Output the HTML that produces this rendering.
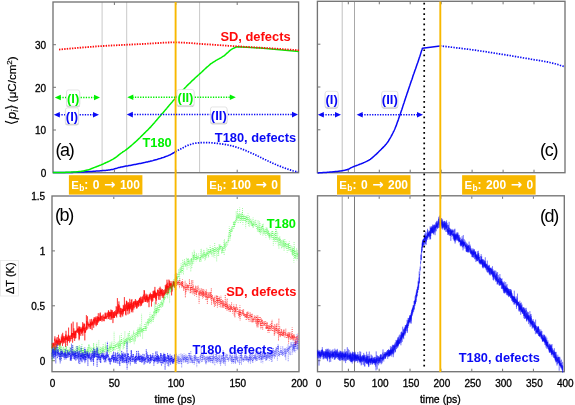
<!DOCTYPE html>
<html><head><meta charset="utf-8"><title>figure</title><style>html,body{margin:0;padding:0;background:#fff;}svg{display:block;}</style></head><body>
<svg width="575" height="405" viewBox="0 0 575 405" font-family='"Liberation Sans", Arial, Helvetica, sans-serif'>
<defs><filter id="sh" x="-30%" y="-30%" width="160%" height="160%"><feDropShadow dx="0" dy="0.7" stdDeviation="0.7" flood-color="#000" flood-opacity="0.4"/></filter></defs>
<rect width="575" height="405" fill="#fff"/>
<line x1="102.1" y1="2" x2="102.1" y2="172.7" stroke="#c9c9c9" stroke-width="1"/>
<line x1="126.7" y1="2" x2="126.7" y2="172.7" stroke="#c9c9c9" stroke-width="1"/>
<line x1="199.6" y1="2" x2="199.6" y2="172.7" stroke="#c9c9c9" stroke-width="1"/>
<line x1="342.2" y1="1.3" x2="342.2" y2="172.7" stroke="#c0c0c0" stroke-width="1"/>
<line x1="354.5" y1="1.3" x2="354.5" y2="172.7" stroke="#a8a8a8" stroke-width="1"/>
<line x1="342.2" y1="195.8" x2="342.2" y2="371.7" stroke="#a0a0a0" stroke-width="1"/>
<line x1="354.5" y1="195.8" x2="354.5" y2="371.7" stroke="#7a7a7a" stroke-width="1"/>
<rect x="53" y="2" width="245.6" height="170.7" fill="none" stroke="#747474" stroke-width="1.35"/>
<line x1="114.4" y1="2" x2="114.4" y2="5" stroke="#747474" stroke-width="1"/>
<line x1="114.4" y1="172.7" x2="114.4" y2="169.7" stroke="#747474" stroke-width="1"/>
<line x1="175.8" y1="2" x2="175.8" y2="5" stroke="#747474" stroke-width="1"/>
<line x1="175.8" y1="172.7" x2="175.8" y2="169.7" stroke="#747474" stroke-width="1"/>
<line x1="237.2" y1="2" x2="237.2" y2="5" stroke="#747474" stroke-width="1"/>
<line x1="237.2" y1="172.7" x2="237.2" y2="169.7" stroke="#747474" stroke-width="1"/>
<line x1="53" y1="130.0" x2="56" y2="130.0" stroke="#747474" stroke-width="1"/>
<line x1="53" y1="87.3" x2="56" y2="87.3" stroke="#747474" stroke-width="1"/>
<line x1="53" y1="44.7" x2="56" y2="44.7" stroke="#747474" stroke-width="1"/>
<rect x="317.4" y="1.3" width="247.6" height="171.4" fill="none" stroke="#747474" stroke-width="1.35"/>
<line x1="348.3" y1="1.3" x2="348.3" y2="4.3" stroke="#747474" stroke-width="1"/>
<line x1="348.3" y1="172.7" x2="348.3" y2="169.7" stroke="#747474" stroke-width="1"/>
<line x1="379.3" y1="1.3" x2="379.3" y2="4.3" stroke="#747474" stroke-width="1"/>
<line x1="379.3" y1="172.7" x2="379.3" y2="169.7" stroke="#747474" stroke-width="1"/>
<line x1="410.2" y1="1.3" x2="410.2" y2="4.3" stroke="#747474" stroke-width="1"/>
<line x1="410.2" y1="172.7" x2="410.2" y2="169.7" stroke="#747474" stroke-width="1"/>
<line x1="441.2" y1="1.3" x2="441.2" y2="4.3" stroke="#747474" stroke-width="1"/>
<line x1="441.2" y1="172.7" x2="441.2" y2="169.7" stroke="#747474" stroke-width="1"/>
<line x1="472.1" y1="1.3" x2="472.1" y2="4.3" stroke="#747474" stroke-width="1"/>
<line x1="472.1" y1="172.7" x2="472.1" y2="169.7" stroke="#747474" stroke-width="1"/>
<line x1="503.1" y1="1.3" x2="503.1" y2="4.3" stroke="#747474" stroke-width="1"/>
<line x1="503.1" y1="172.7" x2="503.1" y2="169.7" stroke="#747474" stroke-width="1"/>
<line x1="534.0" y1="1.3" x2="534.0" y2="4.3" stroke="#747474" stroke-width="1"/>
<line x1="534.0" y1="172.7" x2="534.0" y2="169.7" stroke="#747474" stroke-width="1"/>
<line x1="317.4" y1="129.8" x2="320.4" y2="129.8" stroke="#747474" stroke-width="1"/>
<line x1="317.4" y1="87.0" x2="320.4" y2="87.0" stroke="#747474" stroke-width="1"/>
<line x1="317.4" y1="44.2" x2="320.4" y2="44.2" stroke="#747474" stroke-width="1"/>
<rect x="52" y="196" width="247.0" height="175.7" fill="none" stroke="#747474" stroke-width="1.35"/>
<line x1="113.8" y1="196" x2="113.8" y2="199" stroke="#747474" stroke-width="1"/>
<line x1="113.8" y1="371.7" x2="113.8" y2="368.7" stroke="#747474" stroke-width="1"/>
<line x1="175.5" y1="196" x2="175.5" y2="199" stroke="#747474" stroke-width="1"/>
<line x1="175.5" y1="371.7" x2="175.5" y2="368.7" stroke="#747474" stroke-width="1"/>
<line x1="237.2" y1="196" x2="237.2" y2="199" stroke="#747474" stroke-width="1"/>
<line x1="237.2" y1="371.7" x2="237.2" y2="368.7" stroke="#747474" stroke-width="1"/>
<line x1="52" y1="360.7" x2="55" y2="360.7" stroke="#747474" stroke-width="1"/>
<line x1="52" y1="305.8" x2="55" y2="305.8" stroke="#747474" stroke-width="1"/>
<line x1="52" y1="250.9" x2="55" y2="250.9" stroke="#747474" stroke-width="1"/>
<rect x="317.5" y="195.8" width="246.8" height="175.9" fill="none" stroke="#747474" stroke-width="1.35"/>
<line x1="348.4" y1="195.8" x2="348.4" y2="198.8" stroke="#747474" stroke-width="1"/>
<line x1="348.4" y1="371.7" x2="348.4" y2="368.7" stroke="#747474" stroke-width="1"/>
<line x1="379.2" y1="195.8" x2="379.2" y2="198.8" stroke="#747474" stroke-width="1"/>
<line x1="379.2" y1="371.7" x2="379.2" y2="368.7" stroke="#747474" stroke-width="1"/>
<line x1="410.0" y1="195.8" x2="410.0" y2="198.8" stroke="#747474" stroke-width="1"/>
<line x1="410.0" y1="371.7" x2="410.0" y2="368.7" stroke="#747474" stroke-width="1"/>
<line x1="440.9" y1="195.8" x2="440.9" y2="198.8" stroke="#747474" stroke-width="1"/>
<line x1="440.9" y1="371.7" x2="440.9" y2="368.7" stroke="#747474" stroke-width="1"/>
<line x1="471.8" y1="195.8" x2="471.8" y2="198.8" stroke="#747474" stroke-width="1"/>
<line x1="471.8" y1="371.7" x2="471.8" y2="368.7" stroke="#747474" stroke-width="1"/>
<line x1="502.6" y1="195.8" x2="502.6" y2="198.8" stroke="#747474" stroke-width="1"/>
<line x1="502.6" y1="371.7" x2="502.6" y2="368.7" stroke="#747474" stroke-width="1"/>
<line x1="533.4" y1="195.8" x2="533.4" y2="198.8" stroke="#747474" stroke-width="1"/>
<line x1="533.4" y1="371.7" x2="533.4" y2="368.7" stroke="#747474" stroke-width="1"/>
<line x1="317.5" y1="360.7" x2="320.5" y2="360.7" stroke="#747474" stroke-width="1"/>
<line x1="317.5" y1="305.7" x2="320.5" y2="305.7" stroke="#747474" stroke-width="1"/>
<line x1="317.5" y1="250.8" x2="320.5" y2="250.8" stroke="#747474" stroke-width="1"/>
<polyline points="53.0,172.6 54.0,172.6 55.1,172.6 56.1,172.6 57.1,172.6 58.1,172.6 59.2,172.6 60.2,172.6 61.2,172.6 62.3,172.5 63.3,172.5 64.3,172.5 65.3,172.5 66.4,172.5 67.4,172.5 68.4,172.4 69.5,172.4 70.5,172.4 71.5,172.4 72.5,172.4 73.6,172.3 74.6,172.3 75.6,172.3 76.7,172.3 77.7,172.2 78.7,172.2 79.7,172.1 80.8,172.1 81.8,172.0 82.8,172.0 83.9,171.9 84.9,171.8 85.9,171.8 86.9,171.7 88.0,171.6 89.0,171.6 90.0,171.5 91.1,171.4 92.1,171.4 93.1,171.3 94.1,171.2 95.2,171.2 96.2,171.1 97.2,171.0 98.3,170.9 99.3,170.9 100.3,170.8 101.3,170.7 102.4,170.6 103.4,170.6 104.4,170.5 105.5,170.4 106.5,170.3 107.5,170.3 108.5,170.1 109.6,170.0 110.6,169.8 111.6,169.6 112.7,169.4 113.7,169.1 114.7,168.8 115.7,168.5 116.8,168.2 117.8,167.9 118.8,167.6 119.9,167.4 120.9,167.1 121.9,166.9 122.9,166.7 124.0,166.5 125.0,166.3 126.0,166.1 127.1,165.9 128.1,165.8 129.1,165.6 130.1,165.4 131.2,165.2 132.2,165.0 133.2,164.8 134.3,164.6 135.3,164.4 136.3,164.2 137.3,164.0 138.4,163.8 139.4,163.6 140.4,163.4 141.5,163.2 142.5,163.0 143.5,162.8 144.5,162.6 145.6,162.3 146.6,162.1 147.6,161.9 148.7,161.6 149.7,161.4 150.7,161.1 151.7,160.9 152.8,160.6 153.8,160.3 154.8,160.0 155.9,159.7 156.9,159.5 157.9,159.1 158.9,158.8 160.0,158.5 161.0,158.2 162.0,157.8 163.1,157.5 164.1,157.2 165.1,156.8 166.1,156.4 167.2,156.0 168.2,155.6 169.2,155.1 170.3,154.7 171.3,154.2 172.3,153.6 173.3,153.0 174.4,152.4 175.4,151.7" fill="none" stroke="#0a0af5" stroke-width="1.5"/>
<polyline points="175.4,151.7 176.4,151.2 177.5,150.7 178.5,150.1 179.5,149.6 180.6,149.0 181.6,148.4 182.6,147.9 183.6,147.4 184.7,146.8 185.7,146.3 186.7,145.9 187.8,145.4 188.8,145.0 189.8,144.6 190.9,144.3 191.9,144.0 192.9,143.7 193.9,143.5 195.0,143.3 196.0,143.1 197.0,143.0 198.1,142.9 199.1,142.8 200.1,142.7 201.2,142.7 202.2,142.6 203.2,142.6 204.2,142.6 205.3,142.6 206.3,142.6 207.3,142.6 208.4,142.7 209.4,142.7 210.4,142.8 211.5,142.8 212.5,142.9 213.5,143.0 214.5,143.1 215.6,143.2 216.6,143.3 217.6,143.4 218.7,143.5 219.7,143.6 220.7,143.8 221.8,143.9 222.8,144.1 223.8,144.2 224.9,144.4 225.9,144.6 226.9,144.8 227.9,145.0 229.0,145.2 230.0,145.5 231.0,145.7 232.1,146.0 233.1,146.2 234.1,146.5 235.2,146.8 236.2,147.1 237.2,147.4 238.2,147.8 239.3,148.1 240.3,148.5 241.3,148.8 242.4,149.2 243.4,149.6 244.4,150.0 245.5,150.4 246.5,150.9 247.5,151.3 248.5,151.8 249.6,152.2 250.6,152.7 251.6,153.1 252.7,153.6 253.7,154.1 254.7,154.6 255.8,155.1 256.8,155.6 257.8,156.1 258.9,156.6 259.9,157.1 260.9,157.6 261.9,158.1 263.0,158.6 264.0,159.0 265.0,159.5 266.1,160.0 267.1,160.5 268.1,161.0 269.2,161.5 270.2,162.0 271.2,162.4 272.2,162.9 273.3,163.4 274.3,163.8 275.3,164.3 276.4,164.7 277.4,165.2 278.4,165.6 279.5,166.0 280.5,166.4 281.5,166.8 282.5,167.2 283.6,167.6 284.6,168.0 285.6,168.4 286.7,168.8 287.7,169.1 288.7,169.4 289.8,169.8 290.8,170.1 291.8,170.4 292.8,170.7 293.9,171.0 294.9,171.3 295.9,171.5 297.0,171.8 298.0,172.0" fill="none" stroke="#0a0af5" stroke-width="1.7" stroke-dasharray="1.4 1.3"/>
<polyline points="53.0,172.6 53.9,172.6 54.8,172.6 55.8,172.6 56.7,172.6 57.6,172.6 58.5,172.6 59.5,172.5 60.4,172.5 61.3,172.5 62.2,172.5 63.2,172.4 64.1,172.4 65.0,172.4 65.9,172.3 66.9,172.3 67.8,172.3 68.7,172.2 69.6,172.2 70.6,172.2 71.5,172.1 72.4,172.1 73.3,172.0 74.3,172.0 75.2,171.9 76.1,171.9 77.0,171.8 78.0,171.7 78.9,171.6 79.8,171.5 80.7,171.4 81.6,171.2 82.6,171.1 83.5,170.9 84.4,170.7 85.3,170.5 86.3,170.3 87.2,170.1 88.1,169.9 89.0,169.6 90.0,169.3 90.9,168.9 91.8,168.5 92.7,168.1 93.7,167.7 94.6,167.4 95.5,167.0 96.4,166.7 97.4,166.3 98.3,166.0 99.2,165.6 100.1,165.2 101.1,164.9 102.0,164.5 102.9,164.1 103.8,163.7 104.8,163.2 105.7,162.8 106.6,162.4 107.5,162.0 108.4,161.5 109.4,161.1 110.3,160.6 111.2,160.1 112.1,159.6 113.1,159.1 114.0,158.5 114.9,158.0 115.8,157.3 116.8,156.6 117.7,155.9 118.6,155.1 119.5,154.4 120.5,153.7 121.4,153.0 122.3,152.4 123.2,151.7 124.2,151.1 125.1,150.5 126.0,149.8 126.9,149.1 127.9,148.4 128.8,147.6 129.7,146.9 130.6,146.1 131.6,145.3 132.5,144.5 133.4,143.7 134.3,142.9 135.2,142.1 136.2,141.2 137.1,140.4 138.0,139.5 138.9,138.6 139.9,137.7 140.8,136.8 141.7,135.9 142.6,135.0 143.6,134.0 144.5,133.1 145.4,132.2 146.3,131.3 147.3,130.4 148.2,129.5 149.1,128.5 150.0,127.6 151.0,126.6 151.9,125.6 152.8,124.5 153.7,123.5 154.7,122.4 155.6,121.3 156.5,120.3 157.4,119.2 158.3,118.1 159.3,117.0 160.2,116.0 161.1,114.9 162.0,113.8 163.0,112.8 163.9,111.7 164.8,110.6 165.7,109.5 166.7,108.4 167.6,107.3 168.5,106.2 169.4,105.1 170.4,104.0 171.3,102.9 172.2,101.9 173.1,100.8 174.1,99.7 175.0,98.7 175.9,97.6 176.8,96.6 177.8,95.6 178.7,94.6 179.6,93.5 180.5,92.6 181.5,91.6 182.4,90.6 183.3,89.6 184.2,88.7 185.1,87.7 186.1,86.8 187.0,85.8 187.9,84.9 188.8,84.0 189.8,83.1 190.7,82.2 191.6,81.3 192.5,80.4 193.5,79.6 194.4,78.7 195.3,77.8 196.2,77.0 197.2,76.2 198.1,75.3 199.0,74.5 199.9,73.6 200.9,72.8 201.8,72.0 202.7,71.1 203.6,70.2 204.6,69.3 205.5,68.5 206.4,67.6 207.3,66.8 208.3,66.0 209.2,65.2 210.1,64.4 211.0,63.7 211.9,63.1 212.9,62.4 213.8,61.8 214.7,61.3 215.6,60.7 216.6,60.2 217.5,59.7 218.4,59.2 219.3,58.7 220.3,58.1 221.2,57.6 222.1,57.0 223.0,56.4 224.0,55.8 224.9,55.1 225.8,54.3 226.7,53.4 227.7,52.6 228.6,51.8 229.5,50.9 230.4,50.2 231.4,49.5 232.3,48.9 233.2,48.4 234.1,48.0 235.1,47.5 236.0,47.1 236.9,46.8 260.4,48.1 299.0,51.5" fill="none" stroke="#00f000" stroke-width="1.5" stroke-linejoin="round"/>
<polyline points="59.0,49.6 61.0,49.4 63.0,49.2 65.1,49.0 67.1,48.8 69.1,48.6 71.1,48.5 73.1,48.3 75.1,48.1 77.2,47.9 79.2,47.8 81.2,47.6 83.2,47.4 85.2,47.3 87.2,47.1 89.3,47.0 91.3,46.8 93.3,46.7 95.3,46.5 97.3,46.4 99.3,46.2 101.4,46.1 103.4,46.0 105.4,45.9 107.4,45.7 109.4,45.6 111.4,45.5 113.5,45.4 115.5,45.3 117.5,45.2 119.5,45.1 121.5,45.0 123.5,44.9 125.6,44.8 127.6,44.7 129.6,44.6 131.6,44.5 133.6,44.4 135.6,44.3 137.7,44.2 139.7,44.1 141.7,44.0 143.7,43.9 145.7,43.8 147.7,43.7 149.8,43.6 151.8,43.4 153.8,43.3 155.8,43.2 157.8,43.1 159.8,42.9 161.9,42.8 163.9,42.7 165.9,42.6 167.9,42.5 169.9,42.5 171.9,42.4 174.0,42.4 176.0,42.4 178.0,42.4 180.0,42.5 182.0,42.6 184.0,42.7 186.1,42.8 188.1,42.9 190.1,43.1 192.1,43.2 194.1,43.4 196.1,43.5 198.2,43.7 200.2,43.9 202.2,44.0 204.2,44.1 206.2,44.3 208.2,44.4 210.3,44.5 212.3,44.7 214.3,44.8 216.3,44.9 218.3,45.1 220.3,45.2 222.4,45.4 224.4,45.5 226.4,45.6 228.4,45.8 230.4,45.9 232.4,46.0 234.5,46.2 236.5,46.3 238.5,46.4 240.5,46.5 242.5,46.7 244.5,46.8 246.6,46.9 248.6,47.0 250.6,47.1 252.6,47.3 254.6,47.4 256.6,47.5 258.7,47.6 260.7,47.7 262.7,47.8 264.7,48.0 266.7,48.1 268.7,48.2 270.8,48.3 272.8,48.5 274.8,48.6 276.8,48.7 278.8,48.9 280.8,49.0 282.9,49.2 284.9,49.3 286.9,49.4 288.9,49.6 290.9,49.7 292.9,49.9 295.0,50.0 297.0,50.2 299.0,50.3" fill="none" stroke="#ff0a0a" stroke-width="1.8" stroke-dasharray="1.4 1.2"/>
<polyline points="317.6,172.9 318.1,172.9 318.7,172.9 319.2,172.8 319.7,172.8 320.2,172.8 320.8,172.8 321.3,172.7 321.8,172.7 322.3,172.7 322.9,172.6 323.4,172.6 323.9,172.6 324.4,172.5 325.0,172.5 325.5,172.5 326.0,172.4 326.6,172.4 327.1,172.3 327.6,172.3 328.1,172.3 328.7,172.2 329.2,172.2 329.7,172.1 330.2,172.1 330.8,172.0 331.3,172.0 331.8,171.9 332.3,171.9 332.9,171.8 333.4,171.8 333.9,171.7 334.5,171.7 335.0,171.6 335.5,171.6 336.0,171.5 336.6,171.5 337.1,171.4 337.6,171.4 338.1,171.3 338.7,171.2 339.2,171.2 339.7,171.1 340.2,171.0 340.8,170.9 341.3,170.9 341.8,170.8 342.4,170.7 342.9,170.6 343.4,170.5 343.9,170.4 344.5,170.3 345.0,170.2 345.5,170.1 346.0,170.0 346.6,169.8 347.1,169.7 347.6,169.5 348.1,169.3 348.7,169.1 349.2,168.8 349.7,168.5 350.3,168.2 350.8,167.9 351.3,167.6 351.8,167.4 352.4,167.1 352.9,166.9 353.4,166.7 353.9,166.5 354.5,166.3 355.0,166.1 355.5,165.9 356.0,165.7 356.6,165.5 357.1,165.3 357.6,165.1 358.2,164.9 358.7,164.7 359.2,164.5 359.7,164.3 360.3,164.1 360.8,163.9 361.3,163.7 361.8,163.5 362.4,163.3 362.9,163.1 363.4,162.8 363.9,162.6 364.5,162.4 365.0,162.1 365.5,161.9 366.1,161.6 366.6,161.4 367.1,161.1 367.6,160.8 368.2,160.6 368.7,160.3 369.2,160.0 369.7,159.6 370.3,159.3 370.8,158.9 371.3,158.5 371.8,158.1 372.4,157.6 372.9,157.2 373.4,156.7 373.9,156.2 374.5,155.8 375.0,155.3 375.5,154.8 376.1,154.3 376.6,153.9 377.1,153.4 377.6,152.8 378.2,152.3 378.7,151.8 379.2,151.3 379.7,150.8 380.3,150.2 380.8,149.7 381.3,149.2 381.8,148.6 382.4,148.1 382.9,147.6 383.4,147.1 384.0,146.5 384.5,146.0 385.0,145.4 385.5,144.8 386.1,144.2 386.6,143.6 387.1,142.9 387.6,142.2 388.2,141.5 388.7,140.6 389.2,139.7 389.7,138.8 390.3,137.9 390.8,137.0 391.3,136.0 391.9,135.0 392.4,134.0 392.9,133.0 393.4,131.9 394.0,130.8 394.5,129.7 395.0,128.5 395.5,127.2 396.1,125.9 396.6,124.5 397.1,123.1 397.6,121.6 398.2,120.1 398.7,118.6 399.2,117.0 399.8,115.5 400.3,114.0 400.8,112.5 401.3,110.9 401.9,109.3 402.4,107.7 402.9,106.1 403.4,104.5 404.0,102.9 404.5,101.3 405.0,99.7 405.5,98.2 406.1,96.6 406.6,95.0 407.1,93.4 407.7,91.9 408.2,90.3 408.7,88.7 409.2,87.2 409.8,85.6 410.3,84.1 410.8,82.5 411.3,81.0 411.9,79.4 412.4,77.9 412.9,76.3 413.4,74.8 414.0,73.3 414.5,71.7 415.0,70.2 415.6,68.7 416.1,67.2 416.6,65.7 417.1,64.2 417.7,62.7 418.2,61.2 418.7,59.7 419.2,58.1 419.8,56.5 420.3,54.9 420.8,53.3 421.3,51.6 421.9,50.0 422.4,48.3 430.4,47.2 440.0,46.1" fill="none" stroke="#0a0af5" stroke-width="1.5" stroke-linejoin="round"/>
<polyline points="440.0,45.9 441.3,46.0 442.5,46.2 443.8,46.3 445.1,46.4 446.3,46.6 447.6,46.7 448.8,46.9 450.1,47.0 451.4,47.2 452.6,47.3 453.9,47.5 455.2,47.6 456.4,47.8 457.7,47.9 458.9,48.1 460.2,48.2 461.5,48.4 462.7,48.6 464.0,48.7 465.3,48.9 466.5,49.0 467.8,49.2 469.0,49.4 470.3,49.5 471.6,49.7 472.8,49.9 474.1,50.1 475.4,50.2 476.6,50.4 477.9,50.6 479.1,50.8 480.4,51.0 481.7,51.2 482.9,51.3 484.2,51.5 485.5,51.7 486.7,51.9 488.0,52.1 489.2,52.3 490.5,52.5 491.8,52.7 493.0,52.9 494.3,53.1 495.6,53.3 496.8,53.5 498.1,53.7 499.3,53.9 500.6,54.1 501.9,54.3 503.1,54.5 504.4,54.7 505.7,54.9 506.9,55.1 508.2,55.3 509.4,55.5 510.7,55.7 512.0,55.9 513.2,56.2 514.5,56.4 515.8,56.6 517.0,56.8 518.3,57.0 519.5,57.2 520.8,57.4 522.1,57.6 523.3,57.9 524.6,58.1 525.9,58.3 527.1,58.5 528.4,58.7 529.6,58.9 530.9,59.2 532.2,59.4 533.4,59.6 534.7,59.8 536.0,60.0 537.2,60.2 538.5,60.4 539.7,60.6 541.0,60.8 542.3,61.0 543.5,61.2 544.8,61.5 546.1,61.7 547.3,61.9 548.6,62.2 549.8,62.5 551.1,62.8 552.4,63.1 553.6,63.4 554.9,63.7 556.2,64.1 557.4,64.4 558.7,64.8 559.9,65.2 561.2,65.6 562.5,66.0 563.7,66.4 565.0,66.8" fill="none" stroke="#0a0af5" stroke-width="1.7" stroke-dasharray="1.4 1.3"/>
<polyline points="52.0,347.0 52.1,348.2 52.2,347.2 52.3,342.9 52.5,348.5 52.6,348.0 52.7,344.8 52.8,348.2 52.9,347.1 53.0,346.6 53.1,345.4 53.2,346.4 53.4,343.4 53.5,344.8 53.6,343.4 53.7,346.7 53.8,344.2 53.9,343.7 54.0,342.5 54.1,344.2 54.3,344.3 54.4,344.2 54.5,350.5 54.6,348.0 54.7,338.7 54.8,341.1 54.9,336.3 55.0,344.2 55.2,345.7 55.3,346.2 55.4,349.8 55.5,340.7 55.6,342.3 55.7,343.8 55.8,345.0 55.9,344.7 56.1,345.2 56.2,338.5 56.3,342.6 56.4,342.7 56.5,340.0 56.6,347.6 56.7,345.2 56.9,340.5 57.0,342.1 57.1,342.8 57.2,337.0 57.3,339.1 57.4,343.7 57.5,344.5 57.6,343.5 57.8,340.5 57.9,343.8 58.0,341.2 58.1,344.8 58.2,340.4 58.3,345.3 58.4,342.6 58.5,334.8 58.7,340.8 58.8,341.1 58.9,342.0 59.0,339.2 59.1,338.3 59.2,341.7 59.3,340.7 59.4,343.1 59.6,344.6 59.7,339.0 59.8,344.1 59.9,346.3 60.0,343.9 60.1,341.5 60.2,344.8 60.3,343.3 60.5,343.8 60.6,340.8 60.7,342.4 60.8,340.7 60.9,343.4 61.0,342.3 61.1,340.6 61.3,336.6 61.4,336.9 61.5,342.6 61.6,341.3 61.7,338.4 61.8,340.4 61.9,335.3 62.0,334.4 62.2,341.8 62.3,340.3 62.4,338.8 62.5,345.9 62.6,340.8 62.7,332.8 62.8,338.0 62.9,339.0 63.1,335.8 63.2,340.3 63.3,337.3 63.4,342.4 63.5,340.5 63.6,342.7 63.7,343.5 63.8,340.7 64.0,337.6 64.1,336.2 64.2,341.2 64.3,339.9 64.4,337.9 64.5,340.1 64.6,339.6 64.7,342.8 64.9,340.5 65.0,339.9 65.1,337.6 65.2,339.7 65.3,336.2 65.4,339.8 65.5,346.9 65.7,334.4 65.8,339.5 65.9,339.5 66.0,330.8 66.1,335.9 66.2,335.3 66.3,339.5 66.4,336.4 66.6,336.7 66.7,337.2 66.8,339.9 66.9,337.5 67.0,339.5 67.1,342.6 67.2,336.9 67.3,345.7 67.5,337.6 67.6,339.7 67.7,336.5 67.8,335.9 67.9,341.2 68.0,337.6 68.1,337.4 68.2,334.7 68.4,336.0 68.5,336.7 68.6,327.6 68.7,341.0 68.8,335.2 68.9,340.6 69.0,337.3 69.2,336.5 69.3,336.9 69.4,337.8 69.5,342.6 69.6,335.8 69.7,338.4 69.8,338.0 69.9,338.4 70.1,338.7 70.2,336.3 70.3,336.2 70.4,338.2 70.5,339.2 70.6,338.4 70.7,341.4 70.8,336.9 71.0,334.9 71.1,336.9 71.2,337.1 71.3,336.9 71.4,323.5 71.5,336.8 71.6,332.9 71.7,339.1 71.9,335.3 72.0,333.4 72.1,337.6 72.2,339.1 72.3,336.9 72.4,335.7 72.5,333.0 72.6,342.7 72.8,338.0 72.9,333.1 73.0,334.2 73.1,321.7 73.2,331.7 73.3,335.5 73.4,333.5 73.6,337.6 73.7,336.9 73.8,328.3 73.9,334.9 74.0,331.2 74.1,338.1 74.2,336.2 74.3,337.5 74.5,333.9 74.6,341.0 74.7,340.3 74.8,332.6 74.9,335.8 75.0,330.6 75.1,334.4 75.2,331.2 75.4,338.4 75.5,331.3 75.6,333.2 75.7,335.3 75.8,332.5 75.9,338.2 76.0,332.1 76.1,332.9 76.3,330.3 76.4,331.8 76.5,331.9 76.6,331.1 76.7,332.0 76.8,331.3 76.9,322.9 77.0,322.4 77.2,331.4 77.3,329.8 77.4,330.6 77.5,329.0 77.6,332.9 77.7,328.8 77.8,329.4 78.0,328.2 78.1,331.6 78.2,329.6 78.3,326.4 78.4,332.5 78.5,332.2 78.6,328.5 78.7,334.3 78.9,330.3 79.0,329.1 79.1,340.3 79.2,331.9 79.3,338.9 79.4,326.7 79.5,335.2 79.6,328.8 79.8,326.6 79.9,331.5 80.0,329.9 80.1,331.1 80.2,327.3 80.3,331.0 80.4,331.5 80.5,328.9 80.7,332.3 80.8,335.8 80.9,329.1 81.0,331.7 81.1,332.5 81.2,330.4 81.3,328.9 81.4,333.9 81.6,332.5 81.7,329.3 81.8,332.7 81.9,327.9 82.0,330.9 82.1,326.9 82.2,332.3 82.4,327.8 82.5,328.1 82.6,332.5 82.7,322.2 82.8,335.7 82.9,326.4 83.0,325.8 83.1,329.6 83.3,328.2 83.4,323.6 83.5,329.4 83.6,331.2 83.7,328.1 83.8,328.2 83.9,329.3 84.0,326.4 84.2,329.2 84.3,328.1 84.4,332.8 84.5,323.6 84.6,326.1 84.7,324.3 84.8,340.4 84.9,328.1 85.1,329.2 85.2,328.1 85.3,328.2 85.4,332.7 85.5,330.4 85.6,332.3 85.7,327.8 85.8,326.9 86.0,327.8 86.1,326.9 86.2,326.4 86.3,328.0 86.4,315.1 86.5,330.3 86.6,320.9 86.8,327.0 86.9,328.3 87.0,327.6 87.1,329.6 87.2,326.2 87.3,323.9 87.4,324.0 87.5,316.3 87.7,322.3 87.8,325.1 87.9,321.7 88.0,328.6 88.1,325.2 88.2,323.9 88.3,323.8 88.4,326.1 88.6,325.3 88.7,323.7 88.8,323.7 88.9,324.7 89.0,324.0 89.1,327.0 89.2,327.0 89.3,324.5 89.5,325.0 89.6,324.2 89.7,323.9 89.8,324.4 89.9,325.7 90.0,328.6 90.1,319.3 90.2,325.7 90.4,322.7 90.5,326.6 90.6,321.7 90.7,329.0 90.8,325.6 90.9,325.8 91.0,324.3 91.2,322.6 91.3,322.7 91.4,325.4 91.5,323.3 91.6,318.9 91.7,325.1 91.8,323.5 91.9,324.9 92.1,330.1 92.2,324.6 92.3,320.7 92.4,324.2 92.5,322.0 92.6,325.0 92.7,325.1 92.8,325.6 93.0,322.3 93.1,322.5 93.2,324.6 93.3,323.5 93.4,319.4 93.5,323.1 93.6,323.8 93.7,327.8 93.9,318.8 94.0,321.6 94.1,317.3 94.2,320.1 94.3,319.8 94.4,323.2 94.5,324.5 94.6,320.2 94.8,322.9 94.9,317.3 95.0,317.6 95.1,320.7 95.2,318.1 95.3,318.7 95.4,319.3 95.6,320.9 95.7,324.6 95.8,323.0 95.9,316.6 96.0,323.4 96.1,326.2 96.2,326.2 96.3,320.1 96.5,319.8 96.6,324.8 96.7,320.5 96.8,319.7 96.9,317.9 97.0,321.4 97.1,316.4 97.2,318.5 97.4,319.1 97.5,324.8 97.6,316.5 97.7,320.9 97.8,322.5 97.9,320.7 98.0,322.6 98.1,321.6 98.3,313.2 98.4,321.0 98.5,317.3 98.6,318.7 98.7,317.0 98.8,321.4 98.9,321.4 99.1,317.3 99.2,321.2 99.3,319.9 99.4,318.4 99.5,318.8 99.6,318.6 99.7,320.2 99.8,319.4 100.0,313.4 100.1,320.4 100.2,316.3 100.3,312.5 100.4,318.6 100.5,320.7 100.6,315.5 100.7,321.0 100.9,317.7 101.0,317.6 101.1,316.8 101.2,319.7 101.3,318.6 101.4,316.2 101.5,316.0 101.6,317.0 101.8,317.1 101.9,321.3 102.0,321.6 102.1,320.1 102.2,315.5 102.3,316.7 102.4,317.3 102.5,319.4 102.7,320.4 102.8,319.1 102.9,316.4 103.0,316.8 103.1,315.2 103.2,314.5 103.3,316.3 103.5,317.9 103.6,316.8 103.7,316.9 103.8,320.3 103.9,321.0 104.0,317.6 104.1,321.3 104.2,319.2 104.4,316.5 104.5,318.5 104.6,317.7 104.7,317.3 104.8,317.2 104.9,318.0 105.0,318.6 105.1,312.7 105.3,318.6 105.4,313.7 105.5,318.7 105.6,317.5 105.7,317.2 105.8,317.1 105.9,317.2 106.0,312.7 106.2,314.8 106.3,316.5 106.4,318.3 106.5,317.2 106.6,316.0 106.7,316.0 106.8,319.0 106.9,319.2 107.1,314.9 107.2,313.2 107.3,313.3 107.4,315.4 107.5,317.1 107.6,315.4 107.7,314.2 107.9,312.2 108.0,315.8 108.1,314.4 108.2,315.0 108.3,314.6 108.4,310.5 108.5,319.0 108.6,310.5 108.8,311.6 108.9,311.6 109.0,317.3 109.1,312.2 109.2,316.5 109.3,315.9 109.4,316.1 109.5,312.4 109.7,313.6 109.8,319.6 109.9,311.9 110.0,312.6 110.1,314.1 110.2,316.2 110.3,315.5 110.4,316.1 110.6,312.2 110.7,316.2 110.8,314.5 110.9,309.5 111.0,317.8 111.1,319.9 111.2,312.5 111.3,313.9 111.5,317.7 111.6,310.1 111.7,318.6 111.8,312.0 111.9,313.4 112.0,312.8 112.1,315.5 112.3,314.2 112.4,310.3 112.5,313.9 112.6,317.9 112.7,316.3 112.8,315.7 112.9,323.1 113.0,322.2 113.2,312.3 113.3,316.4 113.4,314.5 113.5,317.9 113.6,316.3 113.7,312.2 113.8,315.0 113.9,317.8 114.1,312.2 114.2,317.9 114.3,312.8 114.4,311.1 114.5,317.1 114.6,317.7 114.7,316.7 114.8,315.6 115.0,314.4 115.1,314.4 115.2,311.8 115.3,315.8 115.4,315.7 115.5,315.6 115.6,311.2 115.7,310.3 115.9,310.3 116.0,315.3 116.1,311.6 116.2,306.2 116.3,309.5 116.4,316.3 116.5,312.7 116.7,317.5 116.8,311.4 116.9,307.1 117.0,307.3 117.1,308.6 117.2,311.8 117.3,313.6 117.4,298.1 117.6,311.0 117.7,313.7 117.8,310.5 117.9,309.6 118.0,314.3 118.1,309.8 118.2,305.7 118.3,312.6 118.5,311.6 118.6,304.2 118.7,310.4 118.8,310.6 118.9,301.4 119.0,306.6 119.1,309.1 119.2,309.8 119.4,312.6 119.5,310.3 119.6,305.5 119.7,307.9 119.8,310.9 119.9,314.0 120.0,310.8 120.1,316.8 120.3,314.7 120.4,310.3 120.5,309.5 120.6,307.8 120.7,310.2 120.8,317.4 120.9,308.2 121.1,312.2 121.2,308.6 121.3,312.3 121.4,314.2 121.5,311.1 121.6,312.5 121.7,312.3 121.8,312.5 122.0,315.2 122.1,312.7 122.2,309.9 122.3,309.3 122.4,308.9 122.5,312.2 122.6,309.4 122.7,316.5 122.9,313.6 123.0,309.2 123.1,308.5 123.2,314.2 123.3,304.9 123.4,308.5 123.5,312.2 123.6,308.6 123.8,305.9 123.9,309.2 124.0,310.8 124.1,310.0 124.2,309.7 124.3,310.5 124.4,297.1 124.5,311.1 124.7,306.3 124.8,304.8 124.9,303.7 125.0,304.1 125.1,307.0 125.2,310.6 125.3,308.3 125.5,314.5 125.6,304.8 125.7,305.6 125.8,305.7 125.9,305.6 126.0,315.4 126.1,305.6 126.2,308.5 126.4,300.7 126.5,305.0 126.6,301.5 126.7,307.2 126.8,309.2 126.9,301.4 127.0,306.2 127.1,311.0 127.3,307.9 127.4,310.6 127.5,308.2 127.6,302.7 127.7,309.5 127.8,306.9 127.9,305.1 128.0,314.4 128.2,308.8 128.3,306.2 128.4,309.2 128.5,304.6 128.6,308.6 128.7,302.1 128.8,307.0 128.9,303.1 129.1,309.1 129.2,305.7 129.3,310.8 129.4,303.9 129.5,304.7 129.6,313.5 129.7,298.8 129.9,303.4 130.0,308.3 130.1,306.7 130.2,308.2 130.3,306.0 130.4,306.6 130.5,303.9 130.6,309.3 130.8,302.2 130.9,304.7 131.0,303.7 131.1,304.4 131.2,307.0 131.3,299.9 131.4,312.2 131.5,305.4 131.7,302.9 131.8,302.3 131.9,299.2 132.0,310.5 132.1,303.3 132.2,310.1 132.3,310.2 132.4,306.9 132.6,305.1 132.7,306.5 132.8,312.4 132.9,302.6 133.0,306.0 133.1,306.1 133.2,306.8 133.4,307.8 133.5,302.2 133.6,306.3 133.7,301.8 133.8,309.5 133.9,301.8 134.0,301.0 134.1,306.3 134.3,306.6 134.4,307.7 134.5,304.6 134.6,304.3 134.7,302.8 134.8,301.5 134.9,304.8 135.0,303.8 135.2,300.5 135.3,304.4 135.4,299.0 135.5,302.3 135.6,306.8 135.7,301.5 135.8,303.3 135.9,304.8 136.1,304.6 136.2,305.5 136.3,302.7 136.4,308.5 136.5,302.0 136.6,300.6 136.7,305.4 136.8,307.5 137.0,304.8 137.1,308.4 137.2,303.0 137.3,304.5 137.4,301.1 137.5,304.5 137.6,304.5 137.8,301.0 137.9,306.3 138.0,303.3 138.1,300.7 138.2,300.5 138.3,304.7 138.4,302.7 138.5,306.7 138.7,299.8 138.8,300.4 138.9,304.9 139.0,305.5 139.1,301.6 139.2,300.0 139.3,302.9 139.4,298.8 139.6,301.5 139.7,297.8 139.8,302.9 139.9,298.0 140.0,301.8 140.1,305.5 140.2,306.3 140.3,304.1 140.5,300.8 140.6,296.7 140.7,298.2 140.8,303.9 140.9,301.4 141.0,305.6 141.1,298.8 141.2,300.5 141.4,300.6 141.5,303.7 141.6,305.5 141.7,299.3 141.8,298.2 141.9,296.8 142.0,303.7 142.2,301.1 142.3,300.1 142.4,302.3 142.5,296.5 142.6,297.6 142.7,303.0 142.8,301.3 142.9,300.3 143.1,299.0 143.2,300.0 143.3,302.4 143.4,294.6 143.5,297.1 143.6,297.0 143.7,299.3 143.8,298.4 144.0,297.9 144.1,290.0 144.2,298.8 144.3,297.7 144.4,298.4 144.5,290.7 144.6,299.6 144.7,297.3 144.9,301.0 145.0,301.9 145.1,299.3 145.2,299.4 145.3,301.7 145.4,300.1 145.5,298.9 145.6,301.9 145.8,295.9 145.9,300.5 146.0,293.7 146.1,299.8 146.2,294.7 146.3,298.9 146.4,296.1 146.6,298.2 146.7,299.5 146.8,295.6 146.9,302.1 147.0,299.0 147.1,300.8 147.2,300.7 147.3,302.3 147.5,302.6 147.6,296.7 147.7,300.2 147.8,294.5 147.9,298.3 148.0,300.9 148.1,299.4 148.2,297.1 148.4,298.7 148.5,299.6 148.6,298.9 148.7,301.1 148.8,302.1 148.9,297.3 149.0,307.2 149.1,296.9 149.3,295.8 149.4,298.0 149.5,294.6 149.6,296.9 149.7,294.3 149.8,299.4 149.9,295.9 150.0,299.4 150.2,299.0 150.3,292.7 150.4,294.1 150.5,294.6 150.6,297.3 150.7,297.0 150.8,294.0 151.0,295.4 151.1,298.5 151.2,300.7 151.3,294.1 151.4,295.9 151.5,306.5 151.6,296.0 151.7,295.5 151.9,299.8 152.0,299.0 152.1,298.1 152.2,294.3 152.3,301.7 152.4,297.5 152.5,294.6 152.6,294.6 152.8,294.5 152.9,300.7 153.0,295.8 153.1,290.9 153.2,297.8 153.3,296.3 153.4,291.8 153.5,292.7 153.7,297.8 153.8,294.1 153.9,297.4 154.0,297.8 154.1,290.6 154.2,294.0 154.3,290.9 154.4,294.7 154.6,296.7 154.7,290.5 154.8,298.1 154.9,286.9 155.0,291.9 155.1,294.5 155.2,297.0 155.4,291.7 155.5,296.3 155.6,292.9 155.7,299.1 155.8,296.7 155.9,304.3 156.0,298.8 156.1,293.4 156.3,295.4 156.4,300.6 156.5,293.0 156.6,298.1 156.7,295.9 156.8,292.7 156.9,293.9 157.0,294.1 157.2,292.4 157.3,291.8 157.4,291.6 157.5,289.7 157.6,293.8 157.7,293.8 157.8,295.6 157.9,289.8 158.1,296.1 158.2,294.3 158.3,290.3 158.4,294.8 158.5,295.1 158.6,294.4 158.7,299.7 158.8,295.8 159.0,295.1 159.1,293.1 159.2,288.0 159.3,290.9 159.4,293.4 159.5,291.9 159.6,295.9 159.8,296.3 159.9,294.6 160.0,299.9 160.1,286.7 160.2,295.9 160.3,292.8 160.4,291.2 160.5,294.3 160.7,290.2 160.8,293.3 160.9,288.4 161.0,291.2 161.1,289.7 161.2,291.8 161.3,291.0 161.4,289.8 161.6,293.9 161.7,289.9 161.8,295.8 161.9,291.2 162.0,294.7 162.1,295.6 162.2,292.7 162.3,297.9 162.5,289.1 162.6,290.5 162.7,292.7 162.8,294.5 162.9,293.5 163.0,295.2 163.1,294.7 163.3,296.3 163.4,290.9 163.5,290.1 163.6,298.4 163.7,295.9 163.8,295.5 163.9,292.8 164.0,293.7 164.2,293.5 164.3,294.0 164.4,289.5 164.5,295.4 164.6,294.1 164.7,294.5 164.8,292.7 164.9,294.4 165.1,291.6 165.2,293.4 165.3,285.0 165.4,286.6 165.5,293.4 165.6,286.4 165.7,289.6 165.8,292.4 166.0,288.1 166.1,291.5 166.2,290.7 166.3,283.9 166.4,288.2 166.5,285.3 166.6,288.4 166.7,286.4 166.9,293.2 167.0,279.7 167.1,293.9 167.2,287.5 167.3,286.0 167.4,289.1 167.5,286.5 167.7,282.7 167.8,287.4 167.9,286.0 168.0,290.0 168.1,290.1 168.2,287.3 168.3,286.2 168.4,293.5 168.6,287.8 168.7,285.6 168.8,285.7 168.9,279.6 169.0,287.4 169.1,286.9 169.2,289.7 169.3,286.7 169.5,280.7 169.6,285.9 169.7,283.4 169.8,286.9 169.9,288.1 170.0,288.1 170.1,283.1 170.2,288.4 170.4,284.1 170.5,283.5 170.6,284.9 170.7,285.2 170.8,284.1 170.9,288.6 171.0,281.2 171.1,285.2 171.3,288.0 171.4,287.0 171.5,283.3 171.6,295.4 171.7,289.8 171.8,287.7 171.9,288.6 172.1,290.2 172.2,291.5 172.3,288.2 172.4,288.0 172.5,285.1 172.6,284.8 172.7,287.3 172.8,283.9 173.0,284.2 173.1,280.9 173.2,284.4 173.3,285.3 173.4,282.3 173.5,281.9 173.6,285.9 173.7,281.8 173.9,283.5 174.0,281.0 174.1,281.5 174.2,282.1 174.3,287.1 174.4,282.5 174.5,287.8 174.6,282.4 174.8,283.0 174.9,285.8 175.0,283.2 175.1,282.1 175.2,284.0 175.3,284.4 175.4,278.3 175.5,282.1 175.7,290.1 175.8,280.7 175.9,272.9 176.0,280.0" fill="none" stroke="#ff0a0a" stroke-width="0.55" opacity="1.0"/>
<polyline points="176.0,282.4 176.1,280.8 176.3,280.9 176.4,276.2 176.5,286.4 176.7,285.2 176.8,281.3 176.9,284.3 177.1,283.4 177.2,281.1 177.4,285.0 177.5,282.4 177.6,281.6 177.8,280.6 177.9,283.8 178.0,283.0 178.2,284.3 178.3,281.1 178.4,283.2 178.6,280.8 178.7,285.2 178.8,284.2 179.0,284.4 179.1,284.6 179.3,280.5 179.4,284.9 179.5,288.1 179.7,278.8 179.8,278.7 179.9,278.7 180.1,284.7 180.2,283.5 180.3,285.3 180.5,284.7 180.6,283.4 180.7,283.2 180.9,282.9 181.0,285.3 181.2,281.0 181.3,282.1 181.4,283.4 181.6,287.6 181.7,281.4 181.8,284.2 182.0,282.3 182.1,285.8 182.2,282.6 182.4,286.3 182.5,279.6 182.6,286.9 182.8,285.4 182.9,281.5 183.1,285.0 183.2,288.0 183.3,285.5 183.5,288.2 183.6,291.0 183.7,286.6 183.9,285.9 184.0,288.4 184.1,288.2 184.3,286.1 184.4,286.4 184.5,286.9 184.7,289.3 184.8,284.5 185.0,283.1 185.1,280.7 185.2,289.2 185.4,297.6 185.5,285.6 185.6,286.4 185.8,293.5 185.9,286.2 186.0,285.4 186.2,283.0 186.3,283.8 186.4,291.2 186.6,286.6 186.7,287.3 186.9,286.0 187.0,284.9 187.1,289.1 187.3,286.9 187.4,285.1 187.5,286.5 187.7,284.2 187.8,287.4 187.9,290.1 188.1,285.4 188.2,291.1 188.3,285.7 188.5,287.4 188.6,285.1 188.8,286.7 188.9,287.4 189.0,286.3 189.2,285.7 189.3,285.8 189.4,278.9 189.6,284.3 189.7,282.5 189.8,289.1 190.0,290.3 190.1,290.2 190.2,293.7 190.4,288.7 190.5,286.9 190.7,292.7 190.8,285.5 190.9,290.1 191.1,286.4 191.2,289.6 191.3,283.3 191.5,280.1 191.6,288.7 191.7,286.7 191.9,293.1 192.0,290.7 192.1,289.4 192.3,286.7 192.4,287.9 192.6,288.1 192.7,290.2 192.8,280.0 193.0,294.5 193.1,287.7 193.2,287.9 193.4,285.1 193.5,287.3 193.6,289.4 193.8,291.3 193.9,293.2 194.0,288.3 194.2,291.7 194.3,289.0 194.5,295.7 194.6,291.2 194.7,288.0 194.9,288.4 195.0,288.6 195.1,290.2 195.3,292.6 195.4,290.6 195.5,285.6 195.7,292.0 195.8,290.3 195.9,295.0 196.1,285.9 196.2,294.0 196.4,288.7 196.5,293.6 196.6,296.6 196.8,290.9 196.9,291.8 197.0,291.0 197.2,291.9 197.3,289.9 197.4,292.4 197.6,290.4 197.7,286.5 197.8,288.7 198.0,290.7 198.1,285.5 198.3,288.3 198.4,290.7 198.5,291.6 198.7,295.1 198.8,291.7 198.9,293.4 199.1,303.6 199.2,293.3 199.3,293.9 199.5,291.2 199.6,295.8 199.7,294.3 199.9,288.1 200.0,293.9 200.2,290.6 200.3,295.8 200.4,295.2 200.6,290.5 200.7,291.1 200.8,293.1 201.0,292.5 201.1,296.4 201.2,295.0 201.4,292.4 201.5,294.7 201.6,288.1 201.8,294.0 201.9,295.1 202.1,292.5 202.2,291.3 202.3,294.9 202.5,298.4 202.6,293.8 202.7,290.2 202.9,296.2 203.0,288.5 203.1,294.8 203.3,292.1 203.4,297.7 203.5,291.3 203.7,295.9 203.8,293.8 204.0,289.7 204.1,289.5 204.2,293.4 204.4,296.8 204.5,294.2 204.6,293.8 204.8,292.8 204.9,295.7 205.0,294.6 205.2,294.7 205.3,291.3 205.4,297.0 205.6,297.5 205.7,291.3 205.9,300.2 206.0,297.2 206.1,294.2 206.3,289.3 206.4,297.4 206.5,293.2 206.7,294.3 206.8,291.7 206.9,299.5 207.1,295.4 207.2,295.8 207.3,304.3 207.5,302.6 207.6,299.4 207.8,295.8 207.9,298.8 208.0,292.1 208.2,297.1 208.3,295.0 208.4,293.6 208.6,292.7 208.7,297.8 208.8,296.4 209.0,296.9 209.1,298.3 209.2,294.3 209.4,293.9 209.5,292.4 209.7,295.8 209.8,298.0 209.9,295.2 210.1,297.2 210.2,292.2 210.3,294.3 210.5,293.3 210.6,292.0 210.7,299.7 210.9,297.7 211.0,294.1 211.1,298.1 211.3,288.0 211.4,294.8 211.6,305.0 211.7,295.7 211.8,300.2 212.0,296.3 212.1,297.0 212.2,295.1 212.4,294.6 212.5,298.1 212.6,296.8 212.8,297.7 212.9,298.6 213.0,297.5 213.2,301.0 213.3,298.9 213.5,301.8 213.6,298.5 213.7,304.0 213.9,299.1 214.0,297.1 214.1,298.1 214.3,302.7 214.4,307.2 214.5,298.5 214.7,298.8 214.8,295.9 214.9,297.7 215.1,303.6 215.2,301.4 215.4,300.8 215.5,306.0 215.6,306.0 215.8,302.8 215.9,300.0 216.0,300.0 216.2,297.0 216.3,295.1 216.4,298.3 216.6,301.3 216.7,303.5 216.8,295.9 217.0,301.6 217.1,298.6 217.3,304.6 217.4,307.7 217.5,295.3 217.7,301.4 217.8,299.3 217.9,305.0 218.1,302.0 218.2,297.9 218.3,302.3 218.5,302.3 218.6,300.0 218.7,298.0 218.9,297.7 219.0,296.7 219.2,302.2 219.3,306.3 219.4,297.0 219.6,301.1 219.7,301.5 219.8,298.7 220.0,301.0 220.1,304.2 220.2,303.8 220.4,300.0 220.5,302.2 220.6,307.4 220.8,301.2 220.9,295.8 221.1,300.9 221.2,304.4 221.3,302.0 221.5,303.0 221.6,299.5 221.7,302.3 221.9,304.2 222.0,302.8 222.1,307.9 222.3,302.9 222.4,302.5 222.5,300.1 222.7,307.0 222.8,304.2 223.0,300.2 223.1,305.3 223.2,307.6 223.4,306.5 223.5,302.6 223.6,304.3 223.8,306.4 223.9,301.0 224.0,307.5 224.2,307.3 224.3,306.4 224.4,303.9 224.6,304.0 224.7,303.3 224.9,306.2 225.0,304.8 225.1,306.1 225.3,294.5 225.4,306.4 225.5,309.4 225.7,303.4 225.8,308.3 225.9,301.0 226.1,300.8 226.2,306.1 226.3,306.5 226.5,308.2 226.6,303.1 226.8,306.7 226.9,307.8 227.0,310.8 227.2,298.3 227.3,309.0 227.4,304.6 227.6,306.1 227.7,305.6 227.8,308.0 228.0,303.9 228.1,309.2 228.2,307.3 228.4,310.7 228.5,307.4 228.7,307.6 228.8,305.9 228.9,309.6 229.1,308.8 229.2,311.5 229.3,308.0 229.5,309.3 229.6,304.2 229.7,304.6 229.9,304.4 230.0,310.7 230.1,310.3 230.3,305.1 230.4,312.3 230.6,308.8 230.7,306.1 230.8,309.4 231.0,308.3 231.1,306.1 231.2,309.1 231.4,307.5 231.5,309.1 231.6,302.4 231.8,309.8 231.9,310.4 232.0,307.6 232.2,309.5 232.3,309.1 232.5,309.3 232.6,308.8 232.7,313.4 232.9,306.9 233.0,310.9 233.1,311.3 233.3,308.3 233.4,307.3 233.5,306.0 233.7,306.6 233.8,304.6 233.9,309.2 234.1,306.5 234.2,316.0 234.4,307.1 234.5,309.4 234.6,308.9 234.8,308.1 234.9,317.8 235.0,308.4 235.2,310.6 235.3,312.2 235.4,307.1 235.6,311.6 235.7,307.2 235.8,308.3 236.0,308.3 236.1,312.7 236.3,304.1 236.4,305.6 236.5,307.5 236.7,306.8 236.8,306.8 236.9,308.4 237.1,309.7 237.2,313.4 237.3,308.3 237.5,309.4 237.6,308.9 237.7,307.7 237.9,308.0 238.0,308.7 238.2,312.5 238.3,310.7 238.4,314.8 238.6,313.5 238.7,313.2 238.8,317.6 239.0,313.3 239.1,310.3 239.2,314.2 239.4,316.2 239.5,312.4 239.6,310.7 239.8,316.8 239.9,305.5 240.1,320.4 240.2,310.9 240.3,314.7 240.5,311.7 240.6,313.5 240.7,314.5 240.9,310.5 241.0,312.4 241.1,313.3 241.3,313.0 241.4,314.5 241.5,315.8 241.7,315.2 241.8,313.7 242.0,311.6 242.1,309.5 242.2,310.4 242.4,310.8 242.5,313.8 242.6,311.6 242.8,309.8 242.9,314.8 243.0,311.7 243.2,312.8 243.3,314.2 243.4,316.1 243.6,309.1 243.7,312.1 243.9,315.8 244.0,314.5 244.1,312.9 244.3,313.5 244.4,315.2 244.5,313.8 244.7,317.1 244.8,317.5 244.9,314.9 245.1,316.9 245.2,314.7 245.3,314.6 245.5,313.5 245.6,317.5 245.8,314.7 245.9,314.3 246.0,315.8 246.2,320.5 246.3,317.5 246.4,315.4 246.6,314.1 246.7,317.8 246.8,312.2 247.0,317.4 247.1,312.9 247.2,319.3 247.4,311.2 247.5,314.4 247.7,315.7 247.8,316.5 247.9,317.7 248.1,316.4 248.2,313.1 248.3,312.9 248.5,311.9 248.6,320.2 248.7,317.0 248.9,316.7 249.0,317.9 249.1,321.6 249.3,319.1 249.4,316.5 249.6,315.0 249.7,316.5 249.8,314.8 250.0,315.4 250.1,312.0 250.2,317.2 250.4,314.5 250.5,315.4 250.6,317.3 250.8,318.3 250.9,321.9 251.0,317.9 251.2,313.9 251.3,317.5 251.5,315.5 251.6,317.7 251.7,316.0 251.9,315.6 252.0,322.8 252.1,313.3 252.3,313.7 252.4,316.3 252.5,318.2 252.7,321.7 252.8,318.9 252.9,322.3 253.1,320.4 253.2,320.1 253.4,318.4 253.5,320.0 253.6,318.7 253.8,321.7 253.9,322.3 254.0,317.6 254.2,319.6 254.3,315.1 254.4,318.6 254.6,317.5 254.7,319.0 254.8,319.5 255.0,320.5 255.1,321.0 255.3,322.1 255.4,321.1 255.5,319.0 255.7,316.0 255.8,323.1 255.9,323.8 256.1,318.1 256.2,317.8 256.3,315.8 256.5,318.5 256.6,316.5 256.7,324.6 256.9,327.3 257.0,319.3 257.2,325.6 257.3,317.7 257.4,322.9 257.6,322.4 257.7,319.8 257.8,315.0 258.0,327.8 258.1,318.3 258.2,320.2 258.4,320.7 258.5,323.2 258.6,318.6 258.8,325.1 258.9,322.2 259.1,316.6 259.2,319.6 259.3,322.6 259.5,322.5 259.6,319.3 259.7,320.4 259.9,321.6 260.0,321.9 260.1,321.8 260.3,316.8 260.4,325.8 260.5,321.9 260.7,325.9 260.8,329.1 261.0,322.8 261.1,326.7 261.2,318.1 261.4,318.4 261.5,322.2 261.6,320.3 261.8,327.5 261.9,322.3 262.0,319.5 262.2,320.8 262.3,319.6 262.4,323.3 262.6,321.9 262.7,330.0 262.9,323.7 263.0,320.8 263.1,324.5 263.3,323.2 263.4,323.2 263.5,322.2 263.7,323.7 263.8,326.1 263.9,324.8 264.1,325.3 264.2,324.6 264.3,324.5 264.5,325.5 264.6,321.4 264.8,325.6 264.9,323.4 265.0,321.6 265.2,323.3 265.3,324.4 265.4,323.2 265.6,322.7 265.7,321.6 265.8,328.9 266.0,327.2 266.1,327.7 266.2,322.4 266.4,329.5 266.5,328.7 266.7,326.2 266.8,328.4 266.9,322.9 267.1,328.7 267.2,326.4 267.3,322.0 267.5,325.0 267.6,328.5 267.7,326.1 267.9,332.4 268.0,328.4 268.1,331.4 268.3,326.5 268.4,325.4 268.6,327.2 268.7,327.1 268.8,330.9 269.0,327.7 269.1,325.0 269.2,332.6 269.4,325.5 269.5,328.2 269.6,328.3 269.8,328.9 269.9,327.4 270.0,328.5 270.2,326.8 270.3,323.7 270.5,326.5 270.6,326.9 270.7,330.7 270.9,327.7 271.0,326.0 271.1,330.4 271.3,331.0 271.4,321.7 271.5,327.1 271.7,325.7 271.8,325.0 271.9,328.2 272.1,319.8 272.2,326.8 272.4,326.6 272.5,330.4 272.6,331.3 272.8,328.4 272.9,329.2 273.0,330.3 273.2,328.5 273.3,326.5 273.4,328.0 273.6,326.1 273.7,329.0 273.8,330.3 274.0,329.9 274.1,332.2 274.3,336.0 274.4,324.1 274.5,329.1 274.7,334.6 274.8,328.8 274.9,327.2 275.1,331.0 275.2,330.0 275.3,329.5 275.5,329.8 275.6,329.4 275.7,324.8 275.9,333.3 276.0,329.7 276.2,328.2 276.3,331.0 276.4,328.6 276.6,324.5 276.7,331.5 276.8,326.6 277.0,323.1 277.1,334.1 277.2,334.0 277.4,333.2 277.5,330.6 277.6,328.6 277.8,329.5 277.9,333.2 278.1,334.1 278.2,331.4 278.3,328.8 278.5,340.7 278.6,330.5 278.7,323.8 278.9,318.2 279.0,333.2 279.1,330.4 279.3,332.4 279.4,335.3 279.5,333.7 279.7,326.4 279.8,328.1 280.0,335.8 280.1,332.3 280.2,337.4 280.4,332.6 280.5,332.5 280.6,334.7 280.8,336.0 280.9,331.6 281.0,333.0 281.2,329.2 281.3,329.4 281.4,335.7 281.6,329.1 281.7,335.0 281.9,334.5 282.0,334.8 282.1,333.9 282.3,336.5 282.4,336.1 282.5,332.0 282.7,332.4 282.8,336.0 282.9,330.8 283.1,334.6 283.2,332.8 283.3,336.6 283.5,330.3 283.6,330.5 283.8,335.5 283.9,328.9 284.0,334.3 284.2,333.9 284.3,330.8 284.4,334.8 284.6,334.8 284.7,335.0 284.8,335.3 285.0,337.8 285.1,334.1 285.2,334.0 285.4,332.0 285.5,332.9 285.7,335.4 285.8,328.5 285.9,336.1 286.1,333.3 286.2,335.0 286.3,335.5 286.5,337.2 286.6,338.5 286.7,337.8 286.9,336.5 287.0,336.1 287.1,334.6 287.3,335.5 287.4,337.2 287.6,333.8 287.7,336.5 287.8,333.4 288.0,336.0 288.1,332.2 288.2,338.1 288.4,334.6 288.5,342.4 288.6,343.7 288.8,335.0 288.9,338.9 289.0,332.3 289.2,334.7 289.3,333.5 289.5,337.0 289.6,334.4 289.7,336.5 289.9,332.1 290.0,336.6 290.1,335.8 290.3,339.4 290.4,336.9 290.5,337.1 290.7,339.6 290.8,336.0 290.9,336.0 291.1,336.4 291.2,332.6 291.4,337.6 291.5,337.6 291.6,339.1 291.8,334.1 291.9,334.9 292.0,339.1 292.2,327.6 292.3,339.9 292.4,335.0 292.6,337.8 292.7,336.0 292.8,338.1 293.0,335.9 293.1,338.6 293.3,340.3 293.4,340.0 293.5,334.1 293.7,340.3 293.8,339.2 293.9,335.7 294.1,336.0 294.2,338.5 294.3,336.1 294.5,337.2 294.6,334.5 294.7,340.0 294.9,340.4 295.0,345.5 295.2,336.5 295.3,345.9 295.4,344.0 295.6,341.1 295.7,344.1 295.8,344.2 296.0,341.5 296.1,337.2 296.2,339.4 296.4,336.9 296.5,336.0 296.6,339.2 296.8,343.9 296.9,341.2 297.1,343.1 297.2,340.1 297.3,340.4 297.5,340.7 297.6,335.7 297.7,340.0 297.9,339.3 298.0,333.4" fill="none" stroke="#ff0a0a" stroke-width="0.6" opacity="1" stroke-dasharray="0.7 1.2"/>
<polyline points="52.0,355.1 52.1,343.5 52.2,349.3 52.4,348.5 52.5,348.6 52.6,361.2 52.7,344.7 52.9,349.7 53.0,348.1 53.1,359.1 53.2,351.2 53.4,349.3 53.5,349.4 53.6,347.0 53.7,347.0 53.8,348.5 54.0,350.5 54.1,345.9 54.2,351.8 54.3,348.6 54.5,349.2 54.6,353.1 54.7,348.5 54.8,347.9 55.0,349.1 55.1,350.8 55.2,354.1 55.3,348.0 55.4,347.9 55.6,350.9 55.7,346.2 55.8,348.2 55.9,351.3 56.1,355.8 56.2,348.7 56.3,350.3 56.4,343.9 56.6,352.1 56.7,347.3 56.8,345.7 56.9,350.9 57.0,351.8 57.2,348.6 57.3,347.4 57.4,350.4 57.5,350.4 57.7,353.8 57.8,352.1 57.9,349.9 58.0,352.3 58.2,346.8 58.3,347.2 58.4,351.6 58.5,350.9 58.6,348.8 58.8,347.3 58.9,349.4 59.0,343.4 59.1,351.4 59.3,351.3 59.4,345.9 59.5,349.5 59.6,347.4 59.8,351.5 59.9,343.5 60.0,345.9 60.1,348.9 60.2,350.7 60.4,342.3 60.5,353.0 60.6,360.8 60.7,346.6 60.9,356.4 61.0,353.5 61.1,351.4 61.2,347.7 61.4,354.7 61.5,350.4 61.6,349.6 61.7,346.1 61.8,351.3 62.0,352.8 62.1,353.1 62.2,353.4 62.3,351.4 62.5,349.0 62.6,348.9 62.7,349.3 62.8,354.8 63.0,346.7 63.1,348.5 63.2,349.1 63.3,351.1 63.4,352.1 63.6,347.4 63.7,346.4 63.8,351.2 63.9,355.0 64.1,353.8 64.2,347.9 64.3,354.8 64.4,351.6 64.6,349.8 64.7,357.4 64.8,348.3 64.9,350.4 65.0,349.4 65.2,351.6 65.3,351.2 65.4,357.2 65.5,355.2 65.7,355.6 65.8,346.1 65.9,350.0 66.0,349.4 66.2,352.3 66.3,344.4 66.4,352.8 66.5,352.4 66.6,346.3 66.8,347.6 66.9,347.5 67.0,354.0 67.1,351.4 67.3,355.0 67.4,349.1 67.5,352.1 67.6,350.7 67.8,354.8 67.9,349.9 68.0,353.8 68.1,354.8 68.2,349.5 68.4,349.7 68.5,350.4 68.6,352.6 68.7,350.0 68.9,350.9 69.0,351.4 69.1,348.6 69.2,347.5 69.4,351.1 69.5,349.9 69.6,355.1 69.7,348.6 69.8,347.4 70.0,347.4 70.1,352.2 70.2,352.9 70.3,351.6 70.5,352.5 70.6,351.8 70.7,352.4 70.8,347.3 71.0,350.1 71.1,351.3 71.2,348.9 71.3,350.1 71.4,349.5 71.6,350.4 71.7,353.4 71.8,349.9 71.9,350.6 72.1,353.0 72.2,352.2 72.3,355.1 72.4,344.6 72.6,351.9 72.7,350.2 72.8,351.2 72.9,352.7 73.0,353.5 73.2,352.8 73.3,356.0 73.4,354.9 73.5,349.9 73.7,350.1 73.8,352.2 73.9,348.1 74.0,353.6 74.2,356.2 74.3,356.4 74.4,350.8 74.5,350.1 74.6,351.8 74.8,353.7 74.9,350.2 75.0,352.7 75.1,352.0 75.3,355.5 75.4,349.5 75.5,353.4 75.6,348.3 75.8,347.1 75.9,347.5 76.0,346.4 76.1,350.4 76.2,351.8 76.4,350.0 76.5,351.0 76.6,353.8 76.7,350.4 76.9,350.6 77.0,349.5 77.1,345.9 77.2,352.3 77.4,346.3 77.5,352.6 77.6,347.4 77.7,358.0 77.8,351.4 78.0,348.8 78.1,351.7 78.2,346.0 78.3,349.5 78.5,349.7 78.6,348.8 78.7,348.8 78.8,346.9 79.0,348.9 79.1,349.4 79.2,350.1 79.3,344.7 79.4,345.9 79.6,354.3 79.7,346.1 79.8,351.9 79.9,350.1 80.1,348.6 80.2,352.5 80.3,349.8 80.4,356.3 80.6,350.8 80.7,350.8 80.8,351.9 80.9,347.9 81.0,352.5 81.2,353.0 81.3,347.8 81.4,348.4 81.5,350.0 81.7,348.5 81.8,354.6 81.9,343.3 82.0,351.4 82.2,347.6 82.3,349.6 82.4,356.2 82.5,350.1 82.6,350.9 82.8,352.1 82.9,350.3 83.0,356.6 83.1,349.5 83.3,352.5 83.4,358.6 83.5,352.2 83.6,347.4 83.7,355.1 83.9,350.2 84.0,352.1 84.1,348.7 84.2,349.5 84.4,352.7 84.5,353.2 84.6,352.4 84.7,353.4 84.9,352.3 85.0,351.0 85.1,352.9 85.2,352.1 85.3,350.2 85.5,352.0 85.6,354.2 85.7,351.5 85.8,350.1 86.0,352.7 86.1,355.7 86.2,350.4 86.3,351.2 86.5,350.7 86.6,354.4 86.7,357.8 86.8,351.2 86.9,353.7 87.1,348.9 87.2,354.2 87.3,351.5 87.4,348.7 87.6,351.0 87.7,346.7 87.8,349.2 87.9,355.9 88.1,348.4 88.2,355.1 88.3,350.6 88.4,353.6 88.5,345.5 88.7,344.7 88.8,349.3 88.9,343.7 89.0,346.5 89.2,351.8 89.3,350.6 89.4,347.8 89.5,345.2 89.7,347.8 89.8,348.6 89.9,348.2 90.0,352.4 90.1,353.9 90.3,350.4 90.4,352.2 90.5,346.7 90.6,350.1 90.8,353.0 90.9,351.5 91.0,352.0 91.1,348.9 91.3,351.2 91.4,349.2 91.5,350.2 91.6,348.1 91.7,347.1 91.9,349.8 92.0,348.6 92.1,349.1 92.2,353.4 92.4,351.3 92.5,349.9 92.6,354.3 92.7,349.9 92.9,353.7 93.0,352.4 93.1,347.8 93.2,350.2 93.3,346.8 93.5,343.0 93.6,352.9 93.7,345.1 93.8,342.8 94.0,348.8 94.1,347.5 94.2,354.7 94.3,347.8 94.5,351.9 94.6,355.2 94.7,352.0 94.8,351.7 94.9,351.7 95.1,353.8 95.2,351.1 95.3,353.3 95.4,353.6 95.6,357.1 95.7,353.3 95.8,348.2 95.9,352.4 96.1,350.0 96.2,351.3 96.3,344.2 96.4,347.9 96.5,348.5 96.7,349.7 96.8,342.8 96.9,347.7 97.0,354.1 97.2,348.1 97.3,348.1 97.4,347.2 97.5,352.3 97.7,351.2 97.8,347.6 97.9,353.0 98.0,351.3 98.1,353.0 98.3,349.2 98.4,355.7 98.5,352.2 98.6,350.5 98.8,339.7 98.9,345.6 99.0,354.1 99.1,352.6 99.3,354.9 99.4,354.4 99.5,356.6 99.6,355.1 99.7,352.8 99.9,348.2 100.0,354.2 100.1,355.3 100.2,346.5 100.4,354.2 100.5,350.7 100.6,350.8 100.7,349.3 100.9,355.7 101.0,351.5 101.1,349.7 101.2,347.0 101.3,349.5 101.5,353.4 101.6,351.2 101.7,348.2 101.8,353.1 102.0,352.5 102.1,351.3 102.2,350.7 102.3,351.7 102.5,350.5 102.6,351.4 102.7,346.8 102.8,352.2 102.9,346.6 103.1,354.4 103.2,343.7 103.3,351.5 103.4,351.3 103.6,349.6 103.7,351.2 103.8,352.2 103.9,347.6 104.1,349.3 104.2,349.6 104.3,352.7 104.4,352.9 104.5,350.4 104.7,349.8 104.8,350.7 104.9,352.7 105.0,347.2 105.2,345.6 105.3,349.8 105.4,342.1 105.5,348.5 105.7,348.7 105.8,349.7 105.9,345.9 106.0,350.6 106.1,351.3 106.3,350.3 106.4,344.9 106.5,346.0 106.6,351.5 106.8,348.3 106.9,347.2 107.0,346.1 107.1,350.6 107.3,349.3 107.4,349.0 107.5,351.9 107.6,347.3 107.7,348.2 107.9,347.9 108.0,351.9 108.1,351.2 108.2,352.3 108.4,348.6 108.5,349.0 108.6,352.2 108.7,348.1 108.9,350.8 109.0,351.1 109.1,350.9 109.2,345.1 109.3,348.1 109.5,346.5 109.6,354.9 109.7,347.4 109.8,348.1 110.0,342.4 110.1,349.2 110.2,349.1 110.3,346.8 110.5,351.7 110.6,345.7 110.7,348.8 110.8,349.0 110.9,345.7 111.1,350.1 111.2,353.2 111.3,346.3 111.4,343.1 111.6,347.9 111.7,345.9 111.8,342.7 111.9,341.3 112.1,348.7 112.2,346.6 112.3,348.8 112.4,348.2 112.5,351.4 112.7,350.0 112.8,348.2 112.9,346.8 113.0,350.4 113.2,348.4 113.3,343.5 113.4,348.5 113.5,346.5 113.7,351.0 113.8,347.2 113.9,349.9 114.0,347.3 114.1,331.9 114.3,346.6 114.4,345.6 114.5,347.2 114.6,348.5 114.8,346.1 114.9,345.6 115.0,346.3 115.1,350.8 115.3,344.8 115.4,345.9 115.5,345.1 115.6,347.4 115.7,342.4 115.9,343.3 116.0,345.7 116.1,347.2 116.2,345.4 116.4,344.1 116.5,343.2 116.6,346.5 116.7,349.2 116.9,346.4 117.0,346.0 117.1,346.5 117.2,342.6 117.3,344.0 117.5,344.6 117.6,345.8 117.7,345.5 117.8,341.9 118.0,347.7 118.1,354.3 118.2,344.2 118.3,346.3 118.5,346.7 118.6,347.2 118.7,341.0 118.8,348.4 118.9,343.6 119.1,348.8 119.2,344.9 119.3,343.8 119.4,344.9 119.6,335.4 119.7,351.3 119.8,344.1 119.9,343.9 120.1,340.2 120.2,355.9 120.3,346.8 120.4,343.9 120.5,346.3 120.7,340.5 120.8,342.4 120.9,347.2 121.0,345.1 121.2,336.9 121.3,333.5 121.4,336.5 121.5,344.5 121.7,338.6 121.8,341.4 121.9,341.2 122.0,339.5 122.1,342.4 122.3,343.4 122.4,343.2 122.5,343.5 122.6,343.0 122.8,343.7 122.9,341.9 123.0,346.3 123.1,349.9 123.3,341.5 123.4,337.5 123.5,342.0 123.6,344.2 123.7,346.1 123.9,346.0 124.0,348.6 124.1,340.5 124.2,346.1 124.4,340.0 124.5,346.1 124.6,342.3 124.7,344.6 124.9,331.0 125.0,344.0 125.1,343.6 125.2,339.4 125.3,342.3 125.5,341.2 125.6,339.1 125.7,344.0 125.8,340.2 126.0,339.0 126.1,339.6 126.2,339.5 126.3,342.0 126.5,337.8 126.6,343.3 126.7,340.6 126.8,339.4 126.9,336.7 127.1,348.7 127.2,341.8 127.3,337.9 127.4,343.7 127.6,344.8 127.7,341.1 127.8,341.5 127.9,333.3 128.1,343.1 128.2,337.8 128.3,339.7 128.4,338.9 128.5,338.9 128.7,333.0 128.8,337.4 128.9,337.9 129.0,339.6 129.2,338.9 129.3,340.7 129.4,338.9 129.5,330.6 129.7,340.7 129.8,343.2 129.9,338.2 130.0,342.1 130.1,339.0 130.3,336.6 130.4,341.8 130.5,343.1 130.6,340.5 130.8,337.2 130.9,339.6 131.0,335.8 131.1,336.7 131.3,338.6 131.4,340.3 131.5,339.3 131.6,342.5 131.7,341.4 131.9,333.9 132.0,334.7 132.1,337.1 132.2,335.6 132.4,335.1 132.5,336.2 132.6,339.3 132.7,335.9 132.9,340.6 133.0,338.5 133.1,341.8 133.2,335.7 133.3,333.9 133.5,331.8 133.6,335.2 133.7,330.1 133.8,334.3 134.0,338.1 134.1,341.0 134.2,344.4 134.3,333.2 134.5,333.9 134.6,333.4 134.7,337.2 134.8,335.1 134.9,337.7 135.1,341.9 135.2,337.2 135.3,341.0 135.4,335.4 135.6,333.1 135.7,337.4 135.8,338.2 135.9,332.1 136.1,333.6 136.2,332.7 136.3,333.3 136.4,336.2 136.5,333.7 136.7,332.6 136.8,330.5 136.9,334.8 137.0,335.5 137.2,334.8 137.3,337.9 137.4,329.0 137.5,336.4 137.7,332.1 137.8,331.6 137.9,334.3 138.0,327.0 138.1,333.5 138.3,330.3 138.4,334.1 138.5,337.1 138.6,335.3 138.8,328.6 138.9,332.5 139.0,333.4 139.1,332.6 139.3,329.1 139.4,327.6 139.5,333.9 139.6,332.9 139.7,331.6 139.9,327.1 140.0,336.1 140.1,324.1 140.2,331.0 140.4,336.9 140.5,331.2 140.6,332.0 140.7,328.4 140.9,327.5 141.0,329.0 141.1,332.1 141.2,331.4 141.3,328.1 141.5,332.9 141.6,313.9 141.7,328.9 141.8,331.1 142.0,328.8 142.1,331.3 142.2,332.7 142.3,329.6 142.5,329.0 142.6,339.0 142.7,328.8 142.8,331.3 142.9,328.1 143.1,329.9 143.2,328.4 143.3,326.5 143.4,330.6 143.6,331.4 143.7,328.3 143.8,332.4 143.9,331.6 144.1,328.2 144.2,329.2 144.3,327.0 144.4,323.6 144.5,323.9 144.7,326.4 144.8,327.8 144.9,331.3 145.0,327.9 145.2,328.7 145.3,326.6 145.4,326.2 145.5,329.4 145.6,322.3 145.8,327.1 145.9,331.2 146.0,327.6 146.1,326.5 146.3,330.9 146.4,325.0 146.5,323.9 146.6,322.2 146.8,322.4 146.9,323.7 147.0,328.7 147.1,323.4 147.2,321.2 147.4,322.2 147.5,323.1 147.6,319.3 147.7,323.8 147.9,322.7 148.0,324.0 148.1,325.3 148.2,319.8 148.4,318.6 148.5,325.6 148.6,325.6 148.7,318.2 148.8,323.1 149.0,322.4 149.1,323.9 149.2,322.4 149.3,323.2 149.5,318.9 149.6,322.0 149.7,320.6 149.8,316.3 150.0,312.8 150.1,321.0 150.2,316.2 150.3,321.5 150.4,322.4 150.6,321.4 150.7,319.5 150.8,321.2 150.9,323.9 151.1,323.3 151.2,322.4 151.3,320.9 151.4,319.3 151.6,321.7 151.7,315.7 151.8,320.5 151.9,314.7 152.0,315.0 152.2,314.3 152.3,318.0 152.4,315.2 152.5,317.6 152.7,314.5 152.8,320.2 152.9,321.6 153.0,321.5 153.2,316.9 153.3,317.9 153.4,321.7 153.5,315.5 153.6,311.1 153.8,318.7 153.9,314.1 154.0,311.6 154.1,312.3 154.3,314.6 154.4,302.2 154.5,310.7 154.6,317.6 154.8,315.2 154.9,309.5 155.0,309.8 155.1,312.1 155.2,308.9 155.4,313.7 155.5,313.9 155.6,304.4 155.7,312.4 155.9,314.5 156.0,316.1 156.1,316.1 156.2,306.5 156.4,313.7 156.5,309.1 156.6,313.9 156.7,308.3 156.8,313.0 157.0,307.1 157.1,308.0 157.2,310.7 157.3,312.2 157.5,307.1 157.6,304.1 157.7,309.7 157.8,310.1 158.0,306.9 158.1,310.0 158.2,309.4 158.3,313.0 158.4,307.2 158.6,305.0 158.7,302.6 158.8,308.9 158.9,311.7 159.1,309.1 159.2,310.9 159.3,306.8 159.4,304.3 159.6,304.7 159.7,308.0 159.8,309.5 159.9,304.2 160.0,307.6 160.2,304.4 160.3,307.2 160.4,304.0 160.5,304.1 160.7,303.9 160.8,301.5 160.9,305.1 161.0,302.6 161.2,301.9 161.3,301.5 161.4,307.8 161.5,300.2 161.6,300.4 161.8,304.3 161.9,302.8 162.0,302.2 162.1,304.4 162.3,304.0 162.4,305.2 162.5,302.7 162.6,307.2 162.8,302.8 162.9,306.1 163.0,298.9 163.1,304.4 163.2,298.1 163.4,297.0 163.5,301.7 163.6,300.9 163.7,301.2 163.9,296.7 164.0,303.1 164.1,298.6 164.2,295.1 164.4,298.7 164.5,300.5 164.6,296.1 164.7,298.6 164.8,297.7 165.0,299.1 165.1,296.7 165.2,298.6 165.3,297.5 165.5,291.4 165.6,287.5 165.7,293.6 165.8,292.9 166.0,294.4 166.1,296.6 166.2,293.5 166.3,293.3 166.4,292.6 166.6,294.2 166.7,292.5 166.8,294.8 166.9,294.8 167.1,294.3 167.2,293.7 167.3,296.5 167.4,290.2 167.6,287.9 167.7,298.7 167.8,292.4 167.9,295.7 168.0,290.6 168.2,292.9 168.3,292.3 168.4,291.9 168.5,293.3 168.7,292.8 168.8,288.1 168.9,290.3 169.0,287.5 169.2,292.0 169.3,289.2 169.4,289.3 169.5,290.3 169.6,303.2 169.8,286.1 169.9,293.3 170.0,287.7 170.1,288.5 170.3,285.7 170.4,291.0 170.5,292.2 170.6,286.9 170.8,288.2 170.9,292.4 171.0,287.3 171.1,289.7 171.2,285.8 171.4,290.6 171.5,289.0 171.6,288.2 171.7,287.6 171.9,284.9 172.0,284.9 172.1,287.0 172.2,285.0 172.4,282.5 172.5,289.9 172.6,283.5 172.7,283.3 172.8,282.5 173.0,286.2 173.1,287.3 173.2,285.8 173.3,286.9 173.5,279.4 173.6,282.2 173.7,282.1 173.8,282.7 174.0,283.8 174.1,284.7 174.2,289.9 174.3,279.0 174.4,282.1 174.6,283.9 174.7,284.2 174.8,287.7 174.9,274.0 175.1,278.4 175.2,283.1 175.3,278.4 175.4,278.2 175.6,274.7 175.7,283.7 175.8,281.5 175.9,277.8 176.0,279.4 176.2,279.7 176.3,276.7 176.4,278.7 176.5,286.2 176.7,280.7 176.8,282.6 176.9,279.2 177.0,277.7 177.2,279.5 177.3,276.4 177.4,273.2 177.5,280.7 177.6,276.3 177.8,277.6 177.9,278.6 178.0,273.3 178.1,277.5 178.3,277.0 178.4,275.6 178.5,276.8 178.6,273.6 178.8,269.2 178.9,273.5 179.0,271.9 179.1,276.7 179.2,274.9 179.4,272.5 179.5,273.9 179.6,284.4 179.7,275.9 179.9,273.8 180.0,268.3 180.1,272.4 180.2,267.5 180.4,273.1 180.5,271.5 180.6,272.2 180.7,268.5 180.8,266.9 181.0,266.9 181.1,262.9 181.2,274.4 181.3,273.8 181.5,267.8 181.6,266.2 181.7,272.2 181.8,271.4 182.0,265.8 182.1,271.7 182.2,269.6 182.3,272.5 182.4,269.6 182.6,270.6 182.7,259.3 182.8,264.9 182.9,266.0 183.1,265.1 183.2,268.1 183.3,263.0 183.4,274.8 183.6,272.6 183.7,268.0 183.8,268.4 183.9,267.9 184.0,261.1 184.2,263.1 184.3,263.6 184.4,264.6 184.5,258.7 184.7,264.4 184.8,265.0 184.9,261.6 185.0,264.1 185.2,266.7 185.3,263.6 185.4,266.5 185.5,266.2 185.6,264.9 185.8,264.4 185.9,262.3 186.0,266.3 186.1,261.1 186.3,261.0 186.4,258.2 186.5,257.6 186.6,264.2 186.8,265.6 186.9,263.2 187.0,270.0 187.1,265.3 187.2,265.3 187.4,258.8 187.5,259.4 187.6,266.3 187.7,264.2 187.9,258.1 188.0,259.4 188.1,263.0 188.2,260.6 188.4,258.3 188.5,263.1 188.6,263.8 188.7,259.8 188.8,264.2 189.0,267.7 189.1,260.7 189.2,265.3 189.3,265.3 189.5,264.4 189.6,261.8 189.7,259.5 189.8,260.0 190.0,263.6 190.1,263.9 190.2,264.8 190.3,264.1 190.4,264.0 190.6,260.9 190.7,259.2 190.8,271.9 190.9,265.6 191.1,262.5 191.2,258.1 191.3,260.8 191.4,257.9 191.6,261.9 191.7,257.9 191.8,268.3 191.9,262.6 192.0,261.8 192.2,264.5 192.3,252.0 192.4,254.2 192.5,262.8 192.7,263.7 192.8,264.3 192.9,260.7 193.0,260.6 193.2,258.8 193.3,254.9 193.4,257.3 193.5,260.3 193.6,254.9 193.8,263.4 193.9,254.2 194.0,257.2 194.1,249.6 194.3,260.1 194.4,255.4 194.5,255.0 194.6,251.5 194.8,258.7 194.9,258.9 195.0,259.2 195.1,256.5 195.2,260.3 195.4,257.8 195.5,255.3 195.6,256.1 195.7,257.5 195.9,259.6 196.0,256.5 196.1,257.7 196.2,261.5 196.4,253.8 196.5,252.9 196.6,259.0 196.7,254.3 196.8,254.0 197.0,260.2 197.1,257.3 197.2,259.6 197.3,257.7 197.5,256.4 197.6,255.7 197.7,256.5 197.8,258.8 198.0,257.1 198.1,259.9 198.2,257.7 198.3,256.0 198.4,258.0 198.6,256.0 198.7,253.2 198.8,254.0 198.9,254.8 199.1,255.7 199.2,257.0 199.3,259.0 199.4,258.5 199.6,261.7 199.7,260.6 199.8,257.1 199.9,262.4 200.0,260.2 200.2,257.0 200.3,257.8 200.4,259.8 200.5,257.4 200.7,259.6 200.8,249.3 200.9,258.1 201.0,254.9 201.2,261.9 201.3,254.8 201.4,248.7 201.5,251.0 201.6,256.5 201.8,256.3 201.9,256.9 202.0,255.3 202.1,257.3 202.3,253.8 202.4,253.7 202.5,255.4 202.6,255.9 202.8,258.9 202.9,253.8 203.0,258.3 203.1,251.7 203.2,253.5 203.4,255.2 203.5,258.3 203.6,253.6 203.7,249.5 203.9,256.0 204.0,255.1 204.1,252.5 204.2,252.4 204.4,253.9 204.5,255.2 204.6,256.6 204.7,250.6 204.8,260.6 205.0,254.2 205.1,253.3 205.2,256.1 205.3,254.9 205.5,260.0 205.6,257.5 205.7,254.2 205.8,253.9 205.9,257.3 206.1,253.0 206.2,255.9 206.3,252.1 206.4,257.8 206.6,253.2 206.7,252.9 206.8,248.4 206.9,247.5 207.1,250.9 207.2,255.1 207.3,253.5 207.4,251.9 207.5,255.0 207.7,252.9 207.8,253.7 207.9,251.0 208.0,249.6 208.2,257.8 208.3,248.5 208.4,251.5 208.5,256.7 208.7,255.8 208.8,257.0 208.9,251.5 209.0,252.3 209.1,249.9 209.3,253.2 209.4,251.1 209.5,251.6 209.6,253.0 209.8,252.2 209.9,254.6 210.0,246.8 210.1,245.3 210.3,252.5 210.4,247.5 210.5,247.6 210.6,253.0 210.7,249.8 210.9,251.0 211.0,254.2 211.1,250.2 211.2,250.1 211.4,253.0 211.5,255.0 211.6,253.3 211.7,248.0 211.9,249.7 212.0,250.8 212.1,257.0 212.2,253.6 212.3,253.0 212.5,253.5 212.6,250.0 212.7,246.6 212.8,251.5 213.0,247.8 213.1,250.9 213.2,252.0 213.3,247.8 213.5,253.0 213.6,253.3 213.7,257.4 213.8,249.0 213.9,251.2 214.1,254.9 214.2,252.6 214.3,248.9 214.4,251.9 214.6,247.2 214.7,242.7 214.8,251.7 214.9,257.5 215.1,250.5 215.2,250.2 215.3,247.7 215.4,247.7 215.5,252.6 215.7,248.7 215.8,246.8 215.9,247.7 216.0,249.9 216.2,251.5 216.3,248.4 216.4,250.8 216.5,251.4 216.7,261.6 216.8,252.3 216.9,247.6 217.0,249.5 217.1,250.1 217.3,251.9 217.4,246.7 217.5,250.1 217.6,251.1 217.8,252.4 217.9,256.4 218.0,249.1 218.1,249.7 218.3,247.5 218.4,248.7 218.5,253.3 218.6,249.7 218.7,256.2 218.9,248.6 219.0,244.0 219.1,251.4 219.2,247.3 219.4,248.8 219.5,245.3 219.6,248.1 219.7,249.5 219.9,250.8 220.0,244.2 220.1,249.8 220.2,247.3 220.3,245.8 220.5,248.9 220.6,246.8 220.7,247.3 220.8,245.3 221.0,247.7 221.1,246.1 221.2,246.7 221.3,245.2 221.5,246.5 221.6,250.1 221.7,253.8 221.8,248.9 221.9,253.4 222.1,249.5 222.2,246.4 222.3,250.9 222.4,246.4 222.6,249.7 222.7,251.4 222.8,246.9 222.9,247.2 223.1,253.5 223.2,247.5 223.3,247.6 223.4,248.6 223.5,247.2 223.7,246.9 223.8,247.8 223.9,240.5 224.0,250.5 224.2,255.2 224.3,244.6 224.4,248.6 224.5,238.8 224.7,243.2 224.8,247.4 224.9,244.1 225.0,245.2 225.1,242.8 225.3,243.9 225.4,250.9 225.5,246.0 225.6,245.8 225.8,247.3 225.9,244.3 226.0,241.6 226.1,242.5 226.3,247.1 226.4,242.5 226.5,242.6 226.6,241.4 226.7,242.4 226.9,242.9 227.0,242.2 227.1,242.2 227.2,241.2 227.4,245.2 227.5,244.3 227.6,245.0 227.7,244.7 227.9,242.2 228.0,239.3 228.1,241.3 228.2,242.2 228.3,235.3 228.5,240.6 228.6,239.6 228.7,242.1 228.8,234.3 229.0,231.8 229.1,238.0 229.2,231.3 229.3,226.6 229.5,232.6 229.6,232.1 229.7,229.5 229.8,233.9 229.9,237.1 230.1,240.7 230.2,230.0 230.3,232.8 230.4,237.5 230.6,234.8 230.7,236.5 230.8,229.3 230.9,233.5 231.1,228.7 231.2,232.1 231.3,231.0 231.4,227.2 231.5,230.3 231.7,232.4 231.8,230.4 231.9,230.2 232.0,226.3 232.2,227.2 232.3,225.7 232.4,228.8 232.5,231.8 232.7,228.9 232.8,227.4 232.9,226.6 233.0,228.2 233.1,226.1 233.3,221.2 233.4,221.3 233.5,224.9 233.6,223.0 233.8,229.4 233.9,224.8 234.0,221.6 234.1,222.7 234.3,227.5 234.4,221.0 234.5,225.5 234.6,223.9 234.7,226.5 234.9,223.8 235.0,220.9 235.1,223.3 235.2,221.3 235.4,220.3 235.5,219.9 235.6,224.3 235.7,218.7 235.9,218.9 236.0,220.8 236.1,218.2 236.2,211.0 236.3,217.9 236.5,221.7 236.6,216.0 236.7,215.3 236.8,220.3 237.0,216.7 237.1,219.4 237.2,219.6 237.3,217.8 237.5,208.8 237.6,214.5 237.7,218.0 237.8,217.8 237.9,214.4 238.1,223.4 238.2,213.1 238.3,214.7 238.4,217.6 238.6,215.8 238.7,215.5 238.8,218.5 238.9,215.5 239.1,218.8 239.2,214.1 239.3,216.0 239.4,220.8 239.5,216.4 239.7,207.5 239.8,215.1 239.9,214.5 240.0,215.9 240.2,216.7 240.3,214.7 240.4,223.5 240.5,217.8 240.7,219.5 240.8,214.0 240.9,214.4 241.0,219.3 241.1,214.8 241.3,213.1 241.4,221.3 241.5,216.6 241.6,217.3 241.8,218.3 241.9,214.6 242.0,220.9 242.1,216.6 242.3,211.6 242.4,218.3 242.5,207.5 242.6,216.3 242.7,220.8 242.9,224.5 243.0,218.7 243.1,218.7 243.2,220.1 243.4,215.0 243.5,217.8 243.6,220.5 243.7,215.6 243.9,218.5 244.0,217.5 244.1,214.1 244.2,216.6 244.3,221.4 244.5,217.7 244.6,218.5 244.7,219.5 244.8,215.5 245.0,220.1 245.1,221.0 245.2,221.6 245.3,221.4 245.5,216.4 245.6,216.4 245.7,228.2 245.8,215.9 245.9,217.0 246.1,221.5 246.2,222.6 246.3,217.4 246.4,221.3 246.6,215.7 246.7,218.2 246.8,217.2 246.9,216.0 247.1,223.7 247.2,220.3 247.3,219.4 247.4,218.4 247.5,217.4 247.7,220.4 247.8,218.4 247.9,220.1 248.0,213.5 248.2,220.4 248.3,219.7 248.4,223.7 248.5,223.8 248.7,221.5 248.8,225.6 248.9,217.6 249.0,222.7 249.1,226.3 249.3,227.1 249.4,215.8 249.5,220.3 249.6,221.1 249.8,220.0 249.9,221.7 250.0,222.7 250.1,221.2 250.3,222.6 250.4,218.3 250.5,219.7 250.6,219.8 250.7,225.1 250.9,220.6 251.0,221.7 251.1,222.7 251.2,221.9 251.4,224.3 251.5,220.9 251.6,224.6 251.7,226.3 251.9,218.9 252.0,224.5 252.1,226.3 252.2,222.5 252.3,222.9 252.5,226.5 252.6,224.0 252.7,225.6 252.8,223.8 253.0,227.9 253.1,217.5 253.2,221.2 253.3,228.0 253.5,224.5 253.6,224.9 253.7,222.8 253.8,225.6 253.9,221.0 254.1,222.1 254.2,222.2 254.3,224.4 254.4,226.0 254.6,225.8 254.7,225.1 254.8,223.5 254.9,220.4 255.1,226.2 255.2,225.7 255.3,225.9 255.4,225.3 255.5,225.0 255.7,220.9 255.8,219.5 255.9,227.1 256.0,225.3 256.2,223.3 256.3,226.6 256.4,223.5 256.5,224.9 256.7,229.1 256.8,228.3 256.9,228.5 257.0,228.0 257.1,228.1 257.3,226.5 257.4,231.9 257.5,225.6 257.6,229.7 257.8,225.7 257.9,225.5 258.0,220.1 258.1,220.7 258.3,229.7 258.4,230.2 258.5,232.2 258.6,225.9 258.7,227.9 258.9,231.0 259.0,231.8 259.1,226.5 259.2,226.2 259.4,221.3 259.5,232.3 259.6,229.3 259.7,233.2 259.9,226.3 260.0,231.2 260.1,222.6 260.2,229.0 260.3,234.3 260.5,235.1 260.6,232.9 260.7,228.2 260.8,231.8 261.0,232.8 261.1,231.2 261.2,230.8 261.3,230.0 261.5,226.3 261.6,229.4 261.7,233.2 261.8,225.9 261.9,228.7 262.1,230.7 262.2,224.8 262.3,228.5 262.4,224.5 262.6,227.3 262.7,225.0 262.8,225.9 262.9,236.0 263.1,228.7 263.2,228.6 263.3,223.4 263.4,234.1 263.5,230.0 263.7,228.3 263.8,229.2 263.9,228.1 264.0,231.9 264.2,230.3 264.3,230.9 264.4,233.7 264.5,230.3 264.7,232.6 264.8,232.1 264.9,231.4 265.0,235.0 265.1,231.9 265.3,228.4 265.4,232.1 265.5,231.3 265.6,230.2 265.8,231.7 265.9,237.5 266.0,231.6 266.1,227.0 266.3,230.0 266.4,233.9 266.5,230.8 266.6,229.0 266.7,228.1 266.9,232.4 267.0,233.4 267.1,227.6 267.2,230.2 267.4,233.9 267.5,235.0 267.6,228.9 267.7,231.0 267.8,234.9 268.0,231.9 268.1,231.9 268.2,236.4 268.3,230.0 268.5,233.7 268.6,234.8 268.7,230.4 268.8,234.8 269.0,237.8 269.1,234.8 269.2,236.3 269.3,232.8 269.4,238.1 269.6,232.8 269.7,240.2 269.8,233.9 269.9,233.1 270.1,232.6 270.2,234.3 270.3,234.0 270.4,233.1 270.6,234.2 270.7,236.2 270.8,236.6 270.9,234.2 271.0,238.6 271.2,232.8 271.3,232.4 271.4,232.3 271.5,237.1 271.7,231.6 271.8,232.8 271.9,239.0 272.0,239.6 272.2,238.7 272.3,230.7 272.4,235.0 272.5,237.6 272.6,235.9 272.8,231.3 272.9,234.4 273.0,231.8 273.1,232.9 273.3,245.8 273.4,238.0 273.5,234.1 273.6,233.9 273.8,239.1 273.9,236.9 274.0,240.3 274.1,237.1 274.2,239.1 274.4,239.9 274.5,242.0 274.6,233.5 274.7,236.0 274.9,232.3 275.0,238.3 275.1,238.6 275.2,238.1 275.4,239.6 275.5,234.1 275.6,229.5 275.7,243.6 275.8,228.6 276.0,238.8 276.1,237.5 276.2,240.0 276.3,239.7 276.5,238.3 276.6,229.5 276.7,236.5 276.8,241.4 277.0,242.5 277.1,236.5 277.2,239.8 277.3,240.7 277.4,242.0 277.6,237.9 277.7,231.9 277.8,234.7 277.9,240.2 278.1,239.2 278.2,246.0 278.3,242.2 278.4,238.3 278.6,237.5 278.7,244.4 278.8,244.3 278.9,248.9 279.0,239.5 279.2,236.9 279.3,239.4 279.4,240.0 279.5,239.2 279.7,245.7 279.8,236.2 279.9,240.9 280.0,239.4 280.2,242.5 280.3,246.2 280.4,238.4 280.5,242.1 280.6,242.6 280.8,242.8 280.9,241.9 281.0,240.9 281.1,246.0 281.3,240.4 281.4,248.6 281.5,247.0 281.6,247.9 281.8,245.4 281.9,240.6 282.0,241.3 282.1,240.7 282.2,240.1 282.4,242.3 282.5,247.3 282.6,244.5 282.7,242.2 282.9,242.4 283.0,242.1 283.1,247.9 283.2,239.2 283.4,245.4 283.5,240.6 283.6,241.4 283.7,239.9 283.8,246.7 284.0,244.3 284.1,251.1 284.2,241.5 284.3,241.7 284.5,245.7 284.6,245.9 284.7,247.1 284.8,238.6 285.0,247.5 285.1,244.6 285.2,244.3 285.3,242.3 285.4,245.8 285.6,242.8 285.7,244.3 285.8,243.9 285.9,247.8 286.1,241.1 286.2,244.7 286.3,248.9 286.4,246.1 286.6,243.7 286.7,245.2 286.8,248.6 286.9,247.5 287.0,248.7 287.2,252.4 287.3,247.9 287.4,244.5 287.5,244.2 287.7,247.6 287.8,243.5 287.9,243.3 288.0,245.0 288.2,243.5 288.3,248.3 288.4,242.7 288.5,250.9 288.6,244.1 288.8,246.4 288.9,248.6 289.0,247.3 289.1,248.2 289.3,244.3 289.4,241.4 289.5,247.1 289.6,249.5 289.8,247.2 289.9,251.1 290.0,248.0 290.1,246.7 290.2,245.6 290.4,247.7 290.5,248.0 290.6,251.5 290.7,249.1 290.9,245.0 291.0,248.7 291.1,252.0 291.2,251.6 291.4,251.2 291.5,249.6 291.6,250.6 291.7,251.7 291.8,253.7 292.0,246.0 292.1,250.8 292.2,254.2 292.3,255.3 292.5,247.8 292.6,255.9 292.7,248.7 292.8,254.3 293.0,250.1 293.1,251.6 293.2,247.8 293.3,252.2 293.4,253.5 293.6,255.9 293.7,248.6 293.8,251.2 293.9,262.6 294.1,241.6 294.2,252.8 294.3,252.2 294.4,246.4 294.6,258.6 294.7,254.5 294.8,250.6 294.9,257.6 295.0,253.0 295.2,251.5 295.3,255.5 295.4,254.8 295.5,259.1 295.7,253.4 295.8,250.0 295.9,257.7 296.0,256.2 296.2,257.2 296.3,254.7 296.4,254.5 296.5,252.6 296.6,248.2 296.8,260.4 296.9,258.9 297.0,252.8 297.1,254.9 297.3,253.8 297.4,250.1 297.5,259.3 297.6,254.2 297.8,253.4 297.9,255.8 298.0,252.6" fill="none" stroke="#00f000" stroke-width="0.45" opacity="0.8" stroke-dasharray="0.6 1.4"/>
<polyline points="52.0,358.8 52.1,352.5 52.2,356.3 52.3,354.6 52.5,348.8 52.6,352.9 52.7,351.0 52.8,353.2 52.9,348.8 53.0,353.6 53.1,353.9 53.2,357.7 53.4,354.1 53.5,350.3 53.6,348.8 53.7,358.5 53.8,347.1 53.9,355.5 54.0,352.4 54.1,351.4 54.3,351.8 54.4,352.0 54.5,355.4 54.6,356.7 54.7,358.3 54.8,350.2 54.9,354.9 55.0,350.9 55.2,356.7 55.3,349.4 55.4,354.1 55.5,355.7 55.6,351.0 55.7,357.9 55.8,363.4 55.9,357.3 56.1,347.1 56.2,351.5 56.3,351.6 56.4,353.2 56.5,355.2 56.6,355.7 56.7,351.8 56.9,352.0 57.0,351.2 57.1,352.0 57.2,352.7 57.3,343.9 57.4,358.5 57.5,352.0 57.6,352.5 57.8,354.2 57.9,350.4 58.0,351.6 58.1,352.4 58.2,354.7 58.3,349.1 58.4,356.6 58.5,351.8 58.7,353.2 58.8,354.7 58.9,354.7 59.0,355.9 59.1,355.0 59.2,353.3 59.3,355.0 59.4,358.4 59.6,357.7 59.7,352.7 59.8,352.3 59.9,360.6 60.0,360.2 60.1,352.3 60.2,363.3 60.3,353.6 60.5,357.0 60.6,352.0 60.7,353.1 60.8,349.1 60.9,349.2 61.0,351.8 61.1,353.6 61.3,355.9 61.4,360.3 61.5,351.5 61.6,356.9 61.7,353.1 61.8,354.4 61.9,349.9 62.0,354.0 62.2,352.2 62.3,351.1 62.4,354.2 62.5,352.3 62.6,356.9 62.7,353.4 62.8,353.3 62.9,356.7 63.1,355.3 63.2,353.5 63.3,353.1 63.4,353.2 63.5,356.3 63.6,356.2 63.7,356.2 63.8,357.4 64.0,353.5 64.1,356.6 64.2,352.0 64.3,359.5 64.4,356.1 64.5,356.3 64.6,353.3 64.7,354.8 64.9,353.7 65.0,357.5 65.1,354.6 65.2,352.0 65.3,355.0 65.4,349.2 65.5,357.7 65.7,353.3 65.8,353.5 65.9,359.7 66.0,359.4 66.1,354.0 66.2,358.2 66.3,356.4 66.4,358.0 66.6,353.7 66.7,353.8 66.8,356.8 66.9,353.7 67.0,355.1 67.1,354.2 67.2,349.8 67.3,351.0 67.5,351.1 67.6,352.6 67.7,357.8 67.8,351.3 67.9,357.8 68.0,356.7 68.1,355.0 68.2,355.4 68.4,355.3 68.5,352.7 68.6,354.6 68.7,354.6 68.8,352.7 68.9,356.4 69.0,352.2 69.2,356.5 69.3,351.1 69.4,353.7 69.5,355.0 69.6,353.8 69.7,353.7 69.8,355.1 69.9,354.7 70.1,353.3 70.2,354.5 70.3,360.9 70.4,354.9 70.5,360.1 70.6,355.9 70.7,347.7 70.8,354.5 71.0,360.2 71.1,355.6 71.2,354.4 71.3,360.8 71.4,359.7 71.5,357.1 71.6,343.6 71.7,356.7 71.9,359.0 72.0,355.4 72.1,351.2 72.2,356.2 72.3,356.1 72.4,352.9 72.5,354.7 72.6,353.0 72.8,345.1 72.9,356.6 73.0,356.0 73.1,353.0 73.2,352.8 73.3,354.9 73.4,351.1 73.6,355.8 73.7,354.0 73.8,354.5 73.9,359.0 74.0,354.0 74.1,352.5 74.2,358.8 74.3,356.6 74.5,354.9 74.6,353.0 74.7,357.5 74.8,360.0 74.9,351.4 75.0,358.5 75.1,350.7 75.2,355.0 75.4,356.6 75.5,352.3 75.6,352.0 75.7,356.2 75.8,360.8 75.9,353.8 76.0,358.0 76.1,352.2 76.3,356.8 76.4,355.4 76.5,355.6 76.6,356.1 76.7,355.0 76.8,359.0 76.9,359.8 77.0,345.9 77.2,354.4 77.3,351.5 77.4,351.5 77.5,354.2 77.6,358.8 77.7,354.8 77.8,355.3 78.0,356.8 78.1,351.8 78.2,352.3 78.3,358.2 78.4,358.1 78.5,353.8 78.6,363.4 78.7,353.2 78.9,354.4 79.0,350.5 79.1,357.1 79.2,356.8 79.3,357.7 79.4,351.2 79.5,355.4 79.6,355.7 79.8,364.2 79.9,354.0 80.0,354.6 80.1,355.2 80.2,357.1 80.3,357.1 80.4,360.1 80.5,354.7 80.7,360.7 80.8,353.7 80.9,357.1 81.0,355.5 81.1,346.7 81.2,356.9 81.3,354.3 81.4,356.8 81.6,356.5 81.7,354.5 81.8,361.1 81.9,353.2 82.0,362.5 82.1,355.9 82.2,358.4 82.4,352.6 82.5,353.2 82.6,355.1 82.7,358.2 82.8,357.4 82.9,352.0 83.0,356.1 83.1,358.9 83.3,353.1 83.4,359.0 83.5,354.2 83.6,358.2 83.7,358.4 83.8,359.9 83.9,356.6 84.0,358.8 84.2,360.8 84.3,354.5 84.4,356.7 84.5,353.8 84.6,353.7 84.7,358.0 84.8,347.6 84.9,363.1 85.1,348.9 85.2,360.4 85.3,356.3 85.4,356.7 85.5,358.2 85.6,352.0 85.7,361.2 85.8,355.3 86.0,354.4 86.1,355.3 86.2,358.4 86.3,359.5 86.4,357.1 86.5,356.6 86.6,355.2 86.8,352.8 86.9,356.1 87.0,355.1 87.1,351.3 87.2,358.4 87.3,351.5 87.4,356.3 87.5,353.1 87.7,354.0 87.8,354.2 87.9,366.1 88.0,353.1 88.1,355.9 88.2,357.9 88.3,354.8 88.4,356.6 88.6,358.5 88.7,355.2 88.8,357.7 88.9,354.3 89.0,357.5 89.1,355.4 89.2,352.5 89.3,358.9 89.5,355.8 89.6,354.4 89.7,353.0 89.8,353.0 89.9,355.6 90.0,356.6 90.1,359.6 90.2,353.6 90.4,355.7 90.5,359.8 90.6,357.4 90.7,357.8 90.8,361.5 90.9,358.8 91.0,358.3 91.2,357.7 91.3,361.7 91.4,360.7 91.5,355.7 91.6,358.1 91.7,353.3 91.8,358.8 91.9,353.7 92.1,355.4 92.2,354.4 92.3,350.9 92.4,357.1 92.5,355.4 92.6,354.9 92.7,357.7 92.8,361.2 93.0,354.5 93.1,354.4 93.2,351.9 93.3,361.7 93.4,354.9 93.5,354.4 93.6,365.8 93.7,348.1 93.9,356.0 94.0,355.9 94.1,353.0 94.2,358.2 94.3,350.9 94.4,356.0 94.5,357.9 94.6,349.3 94.8,357.2 94.9,355.1 95.0,355.5 95.1,354.3 95.2,357.5 95.3,355.9 95.4,352.6 95.6,353.5 95.7,353.6 95.8,351.4 95.9,350.7 96.0,355.9 96.1,356.2 96.2,349.5 96.3,352.3 96.5,355.1 96.6,357.1 96.7,355.6 96.8,356.8 96.9,356.3 97.0,346.9 97.1,367.0 97.2,353.7 97.4,360.5 97.5,356.3 97.6,348.2 97.7,353.8 97.8,355.1 97.9,353.2 98.0,357.2 98.1,356.5 98.3,357.1 98.4,357.8 98.5,354.2 98.6,358.7 98.7,353.4 98.8,359.4 98.9,357.6 99.1,356.8 99.2,357.4 99.3,361.4 99.4,357.2 99.5,355.6 99.6,353.6 99.7,358.0 99.8,355.6 100.0,356.4 100.1,357.6 100.2,359.9 100.3,356.6 100.4,360.0 100.5,362.9 100.6,355.8 100.7,361.1 100.9,362.9 101.0,358.3 101.1,358.7 101.2,352.8 101.3,357.5 101.4,355.3 101.5,357.3 101.6,353.9 101.8,355.0 101.9,356.8 102.0,355.4 102.1,355.5 102.2,356.6 102.3,354.2 102.4,356.8 102.5,358.4 102.7,351.7 102.8,357.9 102.9,355.1 103.0,354.4 103.1,353.8 103.2,354.8 103.3,355.4 103.5,358.5 103.6,354.5 103.7,360.1 103.8,355.1 103.9,359.0 104.0,355.8 104.1,353.4 104.2,359.4 104.4,362.6 104.5,355.8 104.6,358.6 104.7,356.6 104.8,357.2 104.9,356.7 105.0,356.1 105.1,359.7 105.3,359.8 105.4,357.6 105.5,361.5 105.6,354.5 105.7,359.6 105.8,355.3 105.9,362.2 106.0,360.7 106.2,351.3 106.3,353.7 106.4,355.2 106.5,358.4 106.6,358.5 106.7,354.5 106.8,357.0 106.9,357.7 107.1,352.5 107.2,357.5 107.3,355.5 107.4,341.9 107.5,356.5 107.6,354.6 107.7,354.7 107.9,357.2 108.0,357.0 108.1,356.2 108.2,360.6 108.3,356.4 108.4,354.2 108.5,356.5 108.6,356.2 108.8,357.0 108.9,360.5 109.0,359.4 109.1,361.3 109.2,359.2 109.3,357.8 109.4,360.7 109.5,357.6 109.7,359.4 109.8,363.3 109.9,358.7 110.0,358.8 110.1,359.1 110.2,363.1 110.3,364.7 110.4,361.5 110.6,359.0 110.7,361.5 110.8,360.1 110.9,357.8 111.0,358.9 111.1,358.4 111.2,357.8 111.3,362.0 111.5,360.5 111.6,356.1 111.7,359.6 111.8,356.0 111.9,355.1 112.0,355.8 112.1,359.3 112.3,358.4 112.4,358.7 112.5,356.6 112.6,355.6 112.7,359.7 112.8,353.8 112.9,357.0 113.0,354.9 113.2,356.9 113.3,358.2 113.4,361.9 113.5,351.4 113.6,362.6 113.7,356.8 113.8,360.1 113.9,361.6 114.1,357.2 114.2,359.2 114.3,360.0 114.4,358.5 114.5,357.3 114.6,359.7 114.7,359.5 114.8,354.9 115.0,362.7 115.1,359.4 115.2,352.1 115.3,356.5 115.4,362.8 115.5,362.5 115.6,358.8 115.7,353.2 115.9,357.2 116.0,360.9 116.1,358.9 116.2,357.2 116.3,356.4 116.4,361.0 116.5,357.9 116.7,357.9 116.8,360.4 116.9,363.1 117.0,358.7 117.1,358.8 117.2,353.5 117.3,361.1 117.4,360.1 117.6,358.0 117.7,351.9 117.8,356.3 117.9,357.8 118.0,363.8 118.1,359.7 118.2,360.8 118.3,360.5 118.5,354.7 118.6,354.7 118.7,355.6 118.8,354.4 118.9,357.1 119.0,357.2 119.1,358.5 119.2,354.9 119.4,353.3 119.5,356.8 119.6,364.5 119.7,361.4 119.8,366.1 119.9,363.5 120.0,355.5 120.1,360.9 120.3,360.3 120.4,354.8 120.5,361.4 120.6,358.7 120.7,358.1 120.8,356.1 120.9,357.9 121.1,359.6 121.2,358.6 121.3,356.9 121.4,357.4 121.5,355.3 121.6,357.9 121.7,350.6 121.8,360.9 122.0,357.6 122.1,363.0 122.2,358.6 122.3,353.3 122.4,362.7 122.5,353.8 122.6,357.5 122.7,358.4 122.9,361.1 123.0,357.7 123.1,354.4 123.2,359.1 123.3,352.4 123.4,358.5 123.5,358.0 123.6,363.1 123.8,358.0 123.9,357.8 124.0,357.3 124.1,356.7 124.2,361.2 124.3,359.8 124.4,363.0 124.5,361.1 124.7,354.1 124.8,357.1 124.9,352.8 125.0,354.8 125.1,356.7 125.2,354.2 125.3,360.3 125.5,361.3 125.6,358.6 125.7,353.9 125.8,354.6 125.9,362.3 126.0,362.2 126.1,359.6 126.2,363.2 126.4,358.2 126.5,358.6 126.6,363.4 126.7,356.8 126.8,361.3 126.9,361.0 127.0,341.7 127.1,369.4 127.3,357.3 127.4,358.5 127.5,353.5 127.6,355.7 127.7,356.7 127.8,357.3 127.9,357.5 128.0,353.8 128.2,356.4 128.3,353.0 128.4,363.3 128.5,359.7 128.6,355.7 128.7,356.5 128.8,362.8 128.9,360.9 129.1,361.2 129.2,360.2 129.3,358.6 129.4,356.9 129.5,359.9 129.6,358.0 129.7,357.7 129.9,358.9 130.0,358.9 130.1,361.2 130.2,356.1 130.3,365.3 130.4,361.9 130.5,357.8 130.6,361.3 130.8,356.6 130.9,357.2 131.0,358.2 131.1,350.1 131.2,356.8 131.3,355.1 131.4,356.3 131.5,350.2 131.7,358.3 131.8,360.8 131.9,362.2 132.0,360.2 132.1,357.7 132.2,360.4 132.3,355.5 132.4,357.9 132.6,358.3 132.7,361.2 132.8,361.6 132.9,356.8 133.0,354.0 133.1,360.4 133.2,361.4 133.4,354.0 133.5,356.2 133.6,358.5 133.7,359.0 133.8,359.5 133.9,359.3 134.0,360.3 134.1,359.1 134.3,361.3 134.4,362.3 134.5,360.4 134.6,357.0 134.7,363.5 134.8,360.9 134.9,361.5 135.0,360.4 135.2,355.9 135.3,361.0 135.4,357.3 135.5,356.0 135.6,362.7 135.7,356.0 135.8,360.1 135.9,362.2 136.1,364.1 136.2,354.7 136.3,357.8 136.4,361.4 136.5,357.7 136.6,350.7 136.7,359.0 136.8,359.4 137.0,360.8 137.1,359.8 137.2,358.0 137.3,359.5 137.4,358.4 137.5,357.0 137.6,359.0 137.8,359.4 137.9,355.9 138.0,360.9 138.1,359.3 138.2,359.9 138.3,350.6 138.4,358.6 138.5,357.8 138.7,355.5 138.8,359.5 138.9,353.3 139.0,360.5 139.1,358.4 139.2,356.0 139.3,361.2 139.4,358.6 139.6,358.1 139.7,360.3 139.8,356.0 139.9,361.6 140.0,361.1 140.1,354.8 140.2,361.8 140.3,362.4 140.5,360.7 140.6,357.5 140.7,355.4 140.8,357.0 140.9,357.6 141.0,359.6 141.1,360.6 141.2,357.7 141.4,355.3 141.5,358.8 141.6,356.7 141.7,362.9 141.8,356.3 141.9,360.8 142.0,361.8 142.2,357.1 142.3,362.3 142.4,359.2 142.5,356.9 142.6,356.4 142.7,359.6 142.8,361.1 142.9,353.7 143.1,360.3 143.2,358.6 143.3,356.5 143.4,358.3 143.5,358.8 143.6,358.7 143.7,361.2 143.8,357.5 144.0,364.7 144.1,361.9 144.2,357.7 144.3,354.2 144.4,359.9 144.5,358.9 144.6,361.9 144.7,362.1 144.9,363.9 145.0,358.3 145.1,360.8 145.2,357.3 145.3,357.6 145.4,362.1 145.5,357.9 145.6,357.7 145.8,357.3 145.9,359.3 146.0,360.0 146.1,357.6 146.2,355.3 146.3,349.1 146.4,356.2 146.6,357.2 146.7,358.9 146.8,358.5 146.9,351.9 147.0,362.5 147.1,360.5 147.2,362.6 147.3,363.3 147.5,353.9 147.6,355.0 147.7,357.2 147.8,359.3 147.9,356.1 148.0,357.0 148.1,360.4 148.2,355.9 148.4,359.3 148.5,362.2 148.6,359.2 148.7,361.9 148.8,359.3 148.9,354.6 149.0,357.5 149.1,357.9 149.3,357.8 149.4,358.8 149.5,359.5 149.6,358.7 149.7,363.7 149.8,357.7 149.9,358.9 150.0,358.5 150.2,361.3 150.3,363.4 150.4,354.0 150.5,360.2 150.6,355.5 150.7,358.2 150.8,361.1 151.0,357.7 151.1,361.7 151.2,355.3 151.3,357.8 151.4,357.1 151.5,358.1 151.6,357.1 151.7,360.0 151.9,358.5 152.0,361.0 152.1,358.6 152.2,356.2 152.3,356.8 152.4,356.5 152.5,355.0 152.6,356.0 152.8,358.4 152.9,353.0 153.0,360.1 153.1,357.7 153.2,356.5 153.3,358.0 153.4,361.3 153.5,360.0 153.7,359.6 153.8,363.9 153.9,365.6 154.0,358.8 154.1,361.9 154.2,357.7 154.3,355.3 154.4,357.2 154.6,361.7 154.7,358.3 154.8,357.7 154.9,362.5 155.0,359.7 155.1,357.9 155.2,360.6 155.4,360.0 155.5,356.8 155.6,355.7 155.7,351.3 155.8,359.1 155.9,361.1 156.0,357.4 156.1,360.7 156.3,356.3 156.4,361.7 156.5,359.3 156.6,357.0 156.7,356.0 156.8,359.8 156.9,360.2 157.0,351.3 157.2,355.2 157.3,363.9 157.4,354.0 157.5,358.2 157.6,361.1 157.7,360.6 157.8,355.6 157.9,359.5 158.1,361.7 158.2,360.8 158.3,356.3 158.4,363.3 158.5,355.0 158.6,359.5 158.7,356.7 158.8,358.4 159.0,359.0 159.1,361.0 159.2,356.7 159.3,359.9 159.4,362.1 159.5,358.8 159.6,360.4 159.8,359.9 159.9,356.6 160.0,357.6 160.1,358.7 160.2,359.2 160.3,363.3 160.4,362.7 160.5,353.5 160.7,356.9 160.8,356.1 160.9,353.1 161.0,362.5 161.1,360.5 161.2,353.9 161.3,359.6 161.4,365.7 161.6,365.8 161.7,360.5 161.8,359.4 161.9,356.5 162.0,355.3 162.1,356.3 162.2,359.1 162.3,357.9 162.5,360.3 162.6,363.4 162.7,360.4 162.8,360.8 162.9,357.6 163.0,355.1 163.1,363.8 163.3,360.2 163.4,361.3 163.5,357.6 163.6,354.1 163.7,362.3 163.8,352.9 163.9,358.5 164.0,358.2 164.2,360.4 164.3,361.8 164.4,362.0 164.5,353.9 164.6,361.9 164.7,354.3 164.8,361.1 164.9,357.8 165.1,369.7 165.2,356.7 165.3,354.4 165.4,357.4 165.5,359.7 165.6,359.5 165.7,357.1 165.8,361.0 166.0,359.4 166.1,363.4 166.2,359.4 166.3,356.7 166.4,357.9 166.5,357.2 166.6,358.3 166.7,361.4 166.9,362.8 167.0,361.4 167.1,359.8 167.2,360.7 167.3,357.5 167.4,357.8 167.5,353.0 167.7,357.2 167.8,357.7 167.9,365.5 168.0,354.9 168.1,358.9 168.2,357.9 168.3,355.1 168.4,360.1 168.6,358.9 168.7,355.6 168.8,366.4 168.9,359.1 169.0,355.5 169.1,361.7 169.2,359.2 169.3,360.8 169.5,357.9 169.6,359.3 169.7,360.7 169.8,362.8 169.9,359.0 170.0,359.1 170.1,353.9 170.2,356.8 170.4,359.4 170.5,357.5 170.6,364.8 170.7,358.5 170.8,359.7 170.9,361.3 171.0,355.9 171.1,362.3 171.3,360.5 171.4,361.0 171.5,356.0 171.6,359.2 171.7,358.4 171.8,361.7 171.9,355.2 172.1,360.5 172.2,362.3 172.3,358.4 172.4,357.4 172.5,363.4 172.6,360.5 172.7,363.6 172.8,362.6 173.0,363.2 173.1,360.4 173.2,357.7 173.3,361.9 173.4,358.6 173.5,362.1 173.6,358.6 173.7,363.8 173.9,359.1 174.0,361.1 174.1,361.4 174.2,358.0 174.3,358.7 174.4,354.4 174.5,354.9 174.6,361.6 174.8,355.8 174.9,354.1 175.0,357.5 175.1,359.7 175.2,360.3 175.3,358.9 175.4,358.5 175.5,354.2 175.7,361.4 175.8,359.0 175.9,357.0 176.0,353.9" fill="none" stroke="#0a0af5" stroke-width="0.6" opacity="0.95" stroke-dasharray="0.9 0.8"/>
<polyline points="176.0,362.4 176.1,365.3 176.2,352.9 176.4,359.3 176.5,362.1 176.6,362.5 176.7,360.3 176.9,362.9 177.0,359.6 177.1,360.7 177.2,358.4 177.3,355.3 177.5,356.3 177.6,359.6 177.7,357.3 177.8,362.7 178.0,362.3 178.1,363.8 178.2,358.5 178.3,362.4 178.4,356.2 178.6,356.5 178.7,363.5 178.8,359.3 178.9,354.3 179.1,354.3 179.2,360.2 179.3,357.1 179.4,363.4 179.5,361.2 179.7,360.8 179.8,360.1 179.9,362.9 180.0,359.7 180.2,363.4 180.3,358.6 180.4,359.4 180.5,357.9 180.6,361.4 180.8,360.0 180.9,357.2 181.0,353.3 181.1,358.3 181.3,359.3 181.4,360.5 181.5,364.4 181.6,359.3 181.7,367.7 181.9,359.2 182.0,355.2 182.1,361.3 182.2,362.1 182.4,357.8 182.5,358.2 182.6,353.8 182.7,356.2 182.8,357.0 183.0,360.0 183.1,357.0 183.2,358.6 183.3,360.3 183.4,358.4 183.6,360.4 183.7,363.0 183.8,355.5 183.9,361.4 184.1,353.6 184.2,359.9 184.3,360.3 184.4,357.6 184.5,356.2 184.7,358.7 184.8,357.8 184.9,359.2 185.0,355.7 185.2,360.0 185.3,362.7 185.4,357.4 185.5,357.7 185.6,362.1 185.8,354.5 185.9,357.6 186.0,361.8 186.1,357.6 186.3,355.5 186.4,359.9 186.5,358.3 186.6,361.3 186.7,356.5 186.9,359.4 187.0,360.6 187.1,362.7 187.2,356.0 187.4,364.1 187.5,357.3 187.6,355.7 187.7,357.5 187.8,360.5 188.0,358.8 188.1,360.4 188.2,360.1 188.3,359.9 188.5,357.9 188.6,363.9 188.7,352.6 188.8,354.0 188.9,357.1 189.1,356.7 189.2,352.9 189.3,357.5 189.4,357.7 189.6,352.5 189.7,362.0 189.8,362.8 189.9,362.4 190.0,357.5 190.2,359.1 190.3,355.5 190.4,359.7 190.5,357.5 190.7,360.5 190.8,350.9 190.9,362.6 191.0,362.2 191.1,363.4 191.3,355.6 191.4,355.4 191.5,361.4 191.6,357.8 191.8,360.7 191.9,360.2 192.0,359.6 192.1,361.8 192.2,361.4 192.4,360.4 192.5,356.3 192.6,363.5 192.7,359.6 192.9,362.5 193.0,361.0 193.1,363.7 193.2,360.4 193.3,360.1 193.5,360.5 193.6,358.0 193.7,357.8 193.8,358.5 194.0,358.2 194.1,355.2 194.2,364.4 194.3,355.2 194.4,356.8 194.6,363.9 194.7,355.4 194.8,360.0 194.9,360.0 195.1,358.4 195.2,355.1 195.3,355.0 195.4,359.3 195.5,360.4 195.7,353.2 195.8,359.6 195.9,357.0 196.0,361.3 196.2,358.7 196.3,356.2 196.4,356.9 196.5,358.3 196.6,362.4 196.8,367.2 196.9,359.5 197.0,358.7 197.1,360.6 197.2,358.4 197.4,360.1 197.5,361.9 197.6,358.3 197.7,356.4 197.9,359.1 198.0,361.2 198.1,359.0 198.2,362.7 198.3,361.0 198.5,362.2 198.6,363.1 198.7,356.6 198.8,361.6 199.0,364.0 199.1,358.7 199.2,359.2 199.3,362.1 199.4,363.4 199.6,360.9 199.7,361.1 199.8,362.5 199.9,360.2 200.1,355.9 200.2,358.3 200.3,358.5 200.4,354.9 200.5,360.6 200.7,357.2 200.8,354.9 200.9,354.3 201.0,356.3 201.2,345.6 201.3,362.4 201.4,362.2 201.5,362.2 201.6,360.1 201.8,360.1 201.9,360.8 202.0,353.9 202.1,359.4 202.3,357.7 202.4,353.7 202.5,355.0 202.6,361.8 202.7,359.3 202.9,356.1 203.0,360.0 203.1,358.1 203.2,355.4 203.4,356.1 203.5,356.2 203.6,352.2 203.7,354.6 203.8,359.9 204.0,359.8 204.1,359.0 204.2,356.8 204.3,356.5 204.5,358.6 204.6,360.0 204.7,356.2 204.8,355.3 204.9,361.6 205.1,358.6 205.2,358.0 205.3,357.1 205.4,357.6 205.6,363.7 205.7,361.9 205.8,358.2 205.9,356.7 206.0,364.8 206.2,360.9 206.3,363.0 206.4,362.1 206.5,362.7 206.7,355.8 206.8,361.1 206.9,358.1 207.0,359.2 207.1,356.8 207.3,356.1 207.4,359.9 207.5,357.0 207.6,358.4 207.8,359.1 207.9,359.2 208.0,361.9 208.1,362.4 208.2,355.6 208.4,359.3 208.5,357.6 208.6,361.7 208.7,356.4 208.9,361.6 209.0,361.7 209.1,361.5 209.2,357.2 209.3,358.8 209.5,355.9 209.6,360.2 209.7,361.7 209.8,354.5 209.9,359.8 210.1,358.4 210.2,356.9 210.3,362.3 210.4,357.8 210.6,359.3 210.7,355.3 210.8,362.5 210.9,358.7 211.0,361.0 211.2,358.4 211.3,352.5 211.4,354.4 211.5,355.3 211.7,360.7 211.8,358.1 211.9,360.9 212.0,360.5 212.1,359.8 212.3,362.4 212.4,360.0 212.5,354.8 212.6,357.1 212.8,363.0 212.9,355.8 213.0,362.8 213.1,363.9 213.2,357.5 213.4,359.4 213.5,353.3 213.6,360.5 213.7,358.4 213.9,354.4 214.0,356.4 214.1,356.5 214.2,356.0 214.3,358.5 214.5,357.9 214.6,356.7 214.7,361.3 214.8,365.6 215.0,359.9 215.1,357.3 215.2,356.4 215.3,360.9 215.4,358.4 215.6,359.4 215.7,353.8 215.8,356.8 215.9,356.8 216.1,362.2 216.2,359.5 216.3,352.7 216.4,355.3 216.5,362.7 216.7,362.8 216.8,351.5 216.9,359.3 217.0,360.8 217.2,360.4 217.3,357.3 217.4,363.3 217.5,357.1 217.6,357.4 217.8,360.3 217.9,360.3 218.0,362.4 218.1,360.7 218.3,355.1 218.4,355.5 218.5,357.1 218.6,359.5 218.7,357.6 218.9,361.8 219.0,359.4 219.1,360.7 219.2,358.5 219.4,355.8 219.5,356.7 219.6,355.8 219.7,363.4 219.8,361.2 220.0,354.5 220.1,362.2 220.2,362.6 220.3,359.0 220.5,361.6 220.6,366.1 220.7,360.7 220.8,360.9 220.9,363.6 221.1,363.9 221.2,356.9 221.3,355.4 221.4,359.1 221.6,361.9 221.7,356.8 221.8,355.0 221.9,359.9 222.0,357.5 222.2,360.1 222.3,358.1 222.4,358.0 222.5,357.9 222.7,358.2 222.8,355.9 222.9,355.9 223.0,363.1 223.1,350.1 223.3,362.3 223.4,354.9 223.5,360.7 223.6,364.0 223.7,356.2 223.9,358.7 224.0,358.7 224.1,356.9 224.2,357.2 224.4,361.7 224.5,357.4 224.6,357.9 224.7,363.5 224.8,359.8 225.0,353.4 225.1,360.2 225.2,364.2 225.3,366.0 225.5,359.4 225.6,355.1 225.7,355.3 225.8,361.7 225.9,360.8 226.1,358.9 226.2,355.5 226.3,353.7 226.4,353.9 226.6,353.6 226.7,358.0 226.8,354.8 226.9,355.8 227.0,359.7 227.2,359.5 227.3,358.2 227.4,359.7 227.5,358.8 227.7,353.9 227.8,359.6 227.9,358.4 228.0,358.6 228.1,359.5 228.3,357.8 228.4,362.0 228.5,358.6 228.6,359.3 228.8,359.4 228.9,357.8 229.0,359.9 229.1,360.5 229.2,360.3 229.4,356.7 229.5,355.9 229.6,356.1 229.7,358.3 229.9,353.0 230.0,355.9 230.1,355.3 230.2,356.4 230.3,355.3 230.5,359.6 230.6,359.3 230.7,360.9 230.8,354.7 231.0,355.0 231.1,356.6 231.2,361.9 231.3,361.8 231.4,355.9 231.6,359.6 231.7,363.7 231.8,356.7 231.9,357.5 232.1,362.0 232.2,354.7 232.3,355.5 232.4,362.3 232.5,360.9 232.7,360.5 232.8,355.3 232.9,358.2 233.0,362.5 233.2,360.2 233.3,361.0 233.4,357.7 233.5,363.3 233.6,358.5 233.8,361.3 233.9,359.4 234.0,360.8 234.1,362.9 234.3,355.6 234.4,357.3 234.5,359.7 234.6,354.3 234.7,353.3 234.9,357.9 235.0,356.9 235.1,356.8 235.2,357.7 235.4,363.5 235.5,355.5 235.6,363.7 235.7,358.0 235.8,356.7 236.0,349.9 236.1,353.2 236.2,358.4 236.3,359.4 236.5,353.4 236.6,358.9 236.7,360.6 236.8,356.7 236.9,360.0 237.1,355.8 237.2,358.2 237.3,359.9 237.4,361.6 237.5,357.1 237.7,359.6 237.8,362.1 237.9,360.3 238.0,362.4 238.2,362.8 238.3,357.2 238.4,357.3 238.5,356.9 238.6,356.9 238.8,357.2 238.9,357.8 239.0,356.1 239.1,354.9 239.3,355.0 239.4,358.7 239.5,365.2 239.6,359.7 239.7,360.0 239.9,358.9 240.0,357.4 240.1,363.7 240.2,357.3 240.4,355.5 240.5,354.4 240.6,358.4 240.7,355.2 240.8,355.9 241.0,356.0 241.1,354.7 241.2,358.9 241.3,353.6 241.5,364.8 241.6,350.9 241.7,354.2 241.8,360.9 241.9,359.0 242.1,357.2 242.2,355.4 242.3,358.6 242.4,358.9 242.6,360.2 242.7,358.8 242.8,358.5 242.9,357.9 243.0,360.8 243.2,358.1 243.3,360.7 243.4,362.1 243.5,358.5 243.7,360.6 243.8,357.7 243.9,358.0 244.0,358.5 244.1,357.7 244.3,358.2 244.4,360.9 244.5,356.5 244.6,355.4 244.8,357.9 244.9,352.8 245.0,356.7 245.1,360.2 245.2,357.0 245.4,355.3 245.5,357.9 245.6,360.5 245.7,358.8 245.9,358.1 246.0,348.4 246.1,356.0 246.2,359.6 246.3,357.4 246.5,356.1 246.6,360.9 246.7,356.1 246.8,357.8 247.0,360.9 247.1,357.8 247.2,359.8 247.3,359.3 247.4,356.0 247.6,357.5 247.7,358.3 247.8,357.3 247.9,362.0 248.1,358.9 248.2,357.5 248.3,360.6 248.4,358.7 248.5,363.2 248.7,358.7 248.8,361.1 248.9,360.0 249.0,357.0 249.2,356.0 249.3,359.5 249.4,355.6 249.5,359.4 249.6,353.4 249.8,360.6 249.9,357.0 250.0,357.7 250.1,361.1 250.3,355.0 250.4,363.9 250.5,357.2 250.6,352.4 250.7,359.6 250.9,358.5 251.0,358.2 251.1,356.7 251.2,359.7 251.3,357.6 251.5,360.2 251.6,358.4 251.7,354.2 251.8,355.0 252.0,358.6 252.1,358.2 252.2,362.0 252.3,352.0 252.4,358.8 252.6,361.5 252.7,359.3 252.8,363.2 252.9,359.3 253.1,358.9 253.2,361.1 253.3,354.7 253.4,351.6 253.5,359.3 253.7,358.1 253.8,358.9 253.9,356.7 254.0,358.9 254.2,356.5 254.3,358.9 254.4,358.5 254.5,354.2 254.6,356.9 254.8,358.0 254.9,355.2 255.0,359.8 255.1,356.0 255.3,358.7 255.4,361.2 255.5,356.8 255.6,353.4 255.7,359.2 255.9,357.1 256.0,359.6 256.1,351.1 256.2,357.0 256.4,360.5 256.5,357.6 256.6,356.4 256.7,359.7 256.8,359.1 257.0,361.3 257.1,358.6 257.2,360.1 257.3,358.8 257.5,359.1 257.6,355.4 257.7,355.3 257.8,358.1 257.9,352.6 258.1,355.9 258.2,351.7 258.3,350.9 258.4,355.5 258.6,358.4 258.7,356.7 258.8,359.9 258.9,358.7 259.0,358.7 259.2,356.5 259.3,356.5 259.4,358.2 259.5,353.0 259.7,360.6 259.8,355.4 259.9,356.8 260.0,358.7 260.1,357.5 260.3,353.1 260.4,357.0 260.5,350.1 260.6,354.6 260.8,352.8 260.9,359.8 261.0,358.0 261.1,363.2 261.2,354.5 261.4,360.0 261.5,355.8 261.6,358.4 261.7,360.2 261.9,356.8 262.0,358.7 262.1,351.1 262.2,358.6 262.3,352.3 262.5,352.4 262.6,358.1 262.7,358.4 262.8,363.2 263.0,349.0 263.1,357.6 263.2,355.7 263.3,358.8 263.4,357.6 263.6,357.1 263.7,355.2 263.8,354.7 263.9,357.7 264.1,355.5 264.2,359.2 264.3,345.4 264.4,356.7 264.5,352.4 264.7,357.1 264.8,355.1 264.9,357.6 265.0,359.1 265.1,354.4 265.3,356.7 265.4,357.2 265.5,360.9 265.6,352.7 265.8,354.9 265.9,356.8 266.0,353.5 266.1,356.1 266.2,355.2 266.4,360.4 266.5,355.0 266.6,360.5 266.7,356.6 266.9,360.0 267.0,352.9 267.1,355.9 267.2,358.1 267.3,355.2 267.5,353.0 267.6,357.3 267.7,358.9 267.8,356.3 268.0,354.8 268.1,356.8 268.2,354.1 268.3,358.0 268.4,353.3 268.6,352.1 268.7,351.8 268.8,358.2 268.9,356.1 269.1,357.3 269.2,358.8 269.3,360.4 269.4,359.9 269.5,354.1 269.7,358.1 269.8,350.3 269.9,356.8 270.0,356.6 270.2,357.3 270.3,352.7 270.4,359.8 270.5,358.8 270.6,355.8 270.8,351.3 270.9,355.9 271.0,353.4 271.1,350.7 271.3,353.5 271.4,361.6 271.5,350.9 271.6,353.6 271.7,355.6 271.9,357.3 272.0,352.2 272.1,362.0 272.2,357.0 272.4,354.7 272.5,357.3 272.6,349.5 272.7,352.7 272.8,355.1 273.0,356.7 273.1,349.4 273.2,352.9 273.3,347.6 273.5,350.8 273.6,355.4 273.7,355.9 273.8,354.4 273.9,354.9 274.1,356.4 274.2,350.8 274.3,355.5 274.4,359.0 274.6,354.0 274.7,350.3 274.8,350.2 274.9,355.8 275.0,356.3 275.2,350.1 275.3,353.5 275.4,356.7 275.5,356.2 275.7,357.1 275.8,348.9 275.9,353.3 276.0,349.2 276.1,347.3 276.3,349.7 276.4,347.8 276.5,354.8 276.6,353.6 276.8,354.1 276.9,347.1 277.0,348.9 277.1,352.0 277.2,354.6 277.4,360.6 277.5,352.3 277.6,346.9 277.7,345.8 277.8,349.4 278.0,344.6 278.1,348.7 278.2,344.9 278.3,351.8 278.5,345.9 278.6,350.9 278.7,356.5 278.8,350.6 278.9,355.7 279.1,352.8 279.2,352.6 279.3,355.2 279.4,354.4 279.6,356.6 279.7,356.7 279.8,356.2 279.9,352.0 280.0,354.6 280.2,353.0 280.3,352.4 280.4,350.2 280.5,352.8 280.7,347.2 280.8,346.5 280.9,349.6 281.0,354.6 281.1,352.7 281.3,351.7 281.4,350.0 281.5,352.4 281.6,355.3 281.8,350.1 281.9,349.9 282.0,353.0 282.1,353.8 282.2,352.7 282.4,352.0 282.5,353.4 282.6,356.2 282.7,346.0 282.9,355.4 283.0,351.7 283.1,352.8 283.2,352.7 283.3,355.2 283.5,353.9 283.6,353.2 283.7,351.4 283.8,350.1 284.0,348.9 284.1,348.1 284.2,351.7 284.3,354.0 284.4,352.1 284.6,350.8 284.7,348.2 284.8,348.3 284.9,356.8 285.1,349.7 285.2,352.1 285.3,357.2 285.4,354.3 285.5,353.4 285.7,347.9 285.8,360.3 285.9,352.3 286.0,353.2 286.2,349.2 286.3,349.1 286.4,353.9 286.5,352.4 286.6,351.8 286.8,349.4 286.9,347.4 287.0,349.4 287.1,350.0 287.3,350.3 287.4,351.0 287.5,349.5 287.6,352.6 287.7,348.1 287.9,350.4 288.0,349.5 288.1,344.3 288.2,361.6 288.4,347.9 288.5,349.7 288.6,349.9 288.7,352.5 288.8,348.2 289.0,347.3 289.1,349.8 289.2,345.5 289.3,348.2 289.5,346.3 289.6,349.3 289.7,347.0 289.8,348.0 289.9,354.7 290.1,352.2 290.2,355.5 290.3,349.1 290.4,347.6 290.6,346.0 290.7,347.6 290.8,342.5 290.9,347.5 291.0,345.4 291.2,343.8 291.3,342.1 291.4,344.4 291.5,346.2 291.6,346.7 291.8,344.1 291.9,347.6 292.0,349.1 292.1,354.8 292.3,349.4 292.4,351.2 292.5,347.0 292.6,344.3 292.7,346.9 292.9,346.4 293.0,349.9 293.1,340.7 293.2,352.1 293.4,343.0 293.5,349.0 293.6,344.2 293.7,345.1 293.8,349.3 294.0,345.5 294.1,350.7 294.2,344.8 294.3,344.8 294.5,352.1 294.6,342.3 294.7,345.5 294.8,348.3 294.9,346.4 295.1,343.0 295.2,352.4 295.3,344.4 295.4,340.0 295.6,347.6 295.7,343.5 295.8,344.5 295.9,346.4 296.0,342.4 296.2,343.0 296.3,344.7 296.4,348.8 296.5,348.1 296.7,350.2 296.8,346.9 296.9,343.2 297.0,333.9 297.1,345.8 297.3,340.7 297.4,348.8 297.5,349.6 297.6,346.6 297.8,348.9 297.9,339.5 298.0,349.5" fill="none" stroke="#0a0af5" stroke-width="0.55" opacity="0.85" stroke-dasharray="0.6 1.3"/>
<polyline points="317.4,351.7 317.5,350.3 317.5,352.7 317.6,354.4 317.6,356.1 317.7,354.1 317.7,353.0 317.8,352.3 317.8,356.2 317.9,358.3 317.9,354.8 318.0,351.3 318.1,351.8 318.1,358.2 318.2,354.6 318.2,349.7 318.3,353.9 318.3,351.2 318.4,352.6 318.4,353.3 318.5,353.0 318.5,351.9 318.6,354.5 318.7,353.5 318.7,355.9 318.8,357.1 318.8,351.6 318.9,354.5 318.9,352.6 319.0,354.4 319.0,365.6 319.1,355.3 319.1,355.0 319.2,354.4 319.3,352.0 319.3,353.5 319.4,352.0 319.4,351.8 319.5,355.8 319.5,352.8 319.6,357.9 319.6,357.0 319.7,350.5 319.7,356.1 319.8,352.7 319.9,355.5 319.9,355.1 320.0,350.4 320.0,354.0 320.1,354.3 320.1,356.8 320.2,351.6 320.2,355.9 320.3,352.4 320.3,352.9 320.4,351.7 320.5,357.0 320.5,355.1 320.6,359.3 320.6,355.0 320.7,355.9 320.7,356.2 320.8,353.0 320.8,354.4 320.9,357.7 320.9,353.4 321.0,354.6 321.1,354.1 321.1,356.2 321.2,353.8 321.2,354.2 321.3,354.8 321.3,354.4 321.4,352.2 321.4,356.6 321.5,351.4 321.5,351.4 321.6,350.3 321.7,355.4 321.7,352.2 321.8,352.9 321.8,350.1 321.9,353.8 321.9,350.0 322.0,349.3 322.0,354.2 322.1,350.4 322.1,352.4 322.2,353.3 322.3,352.7 322.3,347.1 322.4,356.9 322.4,352.9 322.5,351.1 322.5,349.7 322.6,353.4 322.6,353.5 322.7,355.0 322.7,353.5 322.8,353.8 322.9,353.3 322.9,353.7 323.0,355.3 323.0,354.0 323.1,355.0 323.1,359.3 323.2,353.4 323.2,350.7 323.3,358.5 323.4,355.4 323.4,351.8 323.5,356.3 323.5,354.2 323.6,353.0 323.6,353.2 323.7,352.5 323.7,354.8 323.8,356.9 323.8,353.4 323.9,355.5 324.0,359.2 324.0,351.6 324.1,354.8 324.1,353.1 324.2,351.2 324.2,351.2 324.3,353.9 324.3,354.7 324.4,352.7 324.4,354.1 324.5,355.7 324.6,354.5 324.6,355.7 324.7,354.8 324.7,355.0 324.8,358.0 324.8,355.1 324.9,353.8 324.9,355.2 325.0,351.7 325.0,353.1 325.1,356.0 325.2,355.9 325.2,358.3 325.3,354.7 325.3,351.3 325.4,355.2 325.4,357.0 325.5,351.6 325.5,357.4 325.6,354.1 325.6,349.2 325.7,352.5 325.8,352.4 325.8,357.7 325.9,358.8 325.9,353.1 326.0,353.2 326.0,353.2 326.1,352.0 326.1,354.8 326.2,356.5 326.2,355.5 326.3,351.7 326.4,351.4 326.4,354.7 326.5,352.3 326.5,352.3 326.6,349.8 326.6,358.9 326.7,356.5 326.7,352.1 326.8,356.5 326.8,357.7 326.9,348.8 327.0,353.7 327.0,358.0 327.1,356.9 327.1,354.8 327.2,354.9 327.2,355.3 327.3,352.0 327.3,360.2 327.4,353.8 327.4,348.9 327.5,361.2 327.6,352.1 327.6,353.2 327.7,354.3 327.7,353.5 327.8,356.6 327.8,355.5 327.9,355.7 327.9,354.9 328.0,350.8 328.0,351.9 328.1,354.9 328.2,350.4 328.2,351.1 328.3,357.0 328.3,351.9 328.4,348.7 328.4,350.0 328.5,354.1 328.5,357.3 328.6,352.0 328.6,355.7 328.7,356.0 328.8,352.3 328.8,354.0 328.9,358.5 328.9,358.6 329.0,356.6 329.0,355.2 329.1,357.0 329.1,354.4 329.2,354.3 329.2,353.0 329.3,355.1 329.4,355.3 329.4,362.2 329.5,354.8 329.5,358.6 329.6,358.7 329.6,352.9 329.7,358.7 329.7,350.3 329.8,355.9 329.8,357.2 329.9,349.3 330.0,352.3 330.0,357.5 330.1,354.3 330.1,352.2 330.2,354.1 330.2,353.9 330.3,356.6 330.3,356.3 330.4,354.5 330.4,353.5 330.5,354.8 330.6,358.0 330.6,355.8 330.7,361.9 330.7,353.8 330.8,351.3 330.8,352.8 330.9,356.5 330.9,355.1 331.0,352.9 331.0,351.1 331.1,355.0 331.2,354.0 331.2,354.1 331.3,354.1 331.3,355.6 331.4,355.2 331.4,356.6 331.5,356.9 331.5,357.6 331.6,356.8 331.6,354.1 331.7,354.7 331.8,356.0 331.8,353.6 331.9,355.5 331.9,356.9 332.0,352.0 332.0,349.9 332.1,357.0 332.1,352.0 332.2,356.0 332.2,351.2 332.3,358.9 332.4,356.8 332.4,354.7 332.5,354.4 332.5,355.3 332.6,353.7 332.6,354.3 332.7,352.6 332.7,358.1 332.8,354.7 332.8,354.8 332.9,350.6 333.0,349.3 333.0,356.1 333.1,354.4 333.1,354.2 333.2,354.9 333.2,352.6 333.3,357.1 333.3,353.7 333.4,353.4 333.4,353.3 333.5,355.7 333.6,356.9 333.6,353.9 333.7,351.3 333.7,357.2 333.8,352.0 333.8,357.1 333.9,354.1 333.9,352.4 334.0,352.8 334.0,355.7 334.1,356.8 334.2,354.4 334.2,357.3 334.3,359.9 334.3,354.3 334.4,351.9 334.4,352.3 334.5,351.2 334.5,352.9 334.6,352.7 334.7,351.5 334.7,355.9 334.8,348.6 334.8,351.6 334.9,359.6 334.9,356.9 335.0,355.9 335.0,355.9 335.1,359.1 335.1,356.1 335.2,355.2 335.3,352.3 335.3,355.2 335.4,353.7 335.4,353.7 335.5,353.4 335.5,354.7 335.6,349.8 335.6,356.6 335.7,351.4 335.7,353.8 335.8,357.8 335.9,354.9 335.9,357.8 336.0,354.5 336.0,358.2 336.1,356.9 336.1,351.9 336.2,354.6 336.2,354.3 336.3,351.1 336.3,353.7 336.4,349.7 336.5,351.1 336.5,355.6 336.6,357.2 336.6,353.3 336.7,352.4 336.7,353.5 336.8,356.4 336.8,354.2 336.9,354.9 336.9,353.9 337.0,355.9 337.1,356.5 337.1,355.8 337.2,353.7 337.2,353.9 337.3,356.5 337.3,350.3 337.4,355.1 337.4,349.5 337.5,348.9 337.5,356.2 337.6,356.4 337.7,359.1 337.7,357.3 337.8,355.8 337.8,356.8 337.9,351.8 337.9,357.2 338.0,353.9 338.0,356.5 338.1,355.7 338.1,355.7 338.2,357.4 338.3,354.6 338.3,354.9 338.4,353.8 338.4,354.7 338.5,359.7 338.5,354.5 338.6,358.2 338.6,357.2 338.7,356.8 338.7,356.5 338.8,351.6 338.9,355.1 338.9,353.6 339.0,352.7 339.0,356.1 339.1,353.5 339.1,356.0 339.2,352.9 339.2,359.8 339.3,355.5 339.3,352.4 339.4,360.4 339.5,358.4 339.5,357.0 339.6,356.8 339.6,354.9 339.7,355.0 339.7,357.0 339.8,357.8 339.8,358.4 339.9,350.5 339.9,360.8 340.0,355.4 340.1,358.8 340.1,359.3 340.2,354.7 340.2,354.7 340.3,352.7 340.3,356.9 340.4,356.6 340.4,351.2 340.5,353.8 340.5,353.7 340.6,355.9 340.7,360.6 340.7,357.8 340.8,355.7 340.8,354.1 340.9,351.9 340.9,355.1 341.0,358.3 341.0,351.0 341.1,355.9 341.1,356.9 341.2,353.4 341.3,357.0 341.3,354.5 341.4,358.2 341.4,357.8 341.5,355.5 341.5,360.1 341.6,360.1 341.6,358.1 341.7,352.6 341.7,354.3 341.8,357.3 341.9,357.4 341.9,355.3 342.0,357.7 342.0,353.3 342.1,355.9 342.1,352.6 342.2,355.9 342.2,353.9 342.3,353.9 342.3,351.7 342.4,359.9 342.5,353.0 342.5,353.9 342.6,353.4 342.6,355.1 342.7,360.4 342.7,356.4 342.8,356.0 342.8,357.0 342.9,359.9 342.9,357.2 343.0,356.3 343.1,355.7 343.1,351.5 343.2,353.3 343.2,358.9 343.3,358.4 343.3,356.2 343.4,356.4 343.4,353.6 343.5,356.5 343.5,353.5 343.6,356.6 343.7,353.9 343.7,355.2 343.8,357.0 343.8,355.2 343.9,357.6 343.9,357.4 344.0,361.3 344.0,359.2 344.1,352.0 344.1,351.7 344.2,359.5 344.3,355.6 344.3,360.6 344.4,357.9 344.4,357.8 344.5,353.6 344.5,357.5 344.6,357.7 344.6,353.8 344.7,354.4 344.7,356.4 344.8,357.2 344.9,349.1 344.9,356.4 345.0,357.3 345.0,356.2 345.1,357.0 345.1,357.1 345.2,353.6 345.2,356.9 345.3,355.1 345.4,353.5 345.4,356.4 345.5,353.5 345.5,352.3 345.6,363.1 345.6,352.4 345.7,360.7 345.7,355.5 345.8,356.1 345.8,354.6 345.9,354.2 346.0,353.8 346.0,356.5 346.1,356.6 346.1,351.2 346.2,354.0 346.2,354.9 346.3,356.4 346.3,357.4 346.4,359.6 346.4,360.4 346.5,359.9 346.6,360.4 346.6,354.0 346.7,354.9 346.7,359.1 346.8,357.1 346.8,356.1 346.9,351.2 346.9,351.2 347.0,357.5 347.0,356.9 347.1,355.4 347.2,355.4 347.2,351.9 347.3,347.2 347.3,358.2 347.4,359.4 347.4,355.8 347.5,355.1 347.5,352.6 347.6,358.6 347.6,360.1 347.7,354.8 347.8,356.9 347.8,356.9 347.9,355.6 347.9,357.9 348.0,356.3 348.0,358.8 348.1,353.6 348.1,354.9 348.2,348.9 348.2,359.9 348.3,358.1 348.4,357.2 348.4,355.7 348.5,354.9 348.5,356.4 348.6,355.8 348.6,355.9 348.7,356.3 348.7,356.6 348.8,359.4 348.8,355.4 348.9,356.8 349.0,354.6 349.0,353.2 349.1,350.1 349.1,357.2 349.2,353.7 349.2,354.6 349.3,358.1 349.3,360.7 349.4,356.7 349.4,356.6 349.5,358.8 349.6,359.4 349.6,354.9 349.7,358.7 349.7,355.7 349.8,355.8 349.8,355.2 349.9,357.4 349.9,352.9 350.0,358.4 350.0,358.8 350.1,355.2 350.2,361.1 350.2,355.1 350.3,357.4 350.3,351.8 350.4,355.2 350.4,354.0 350.5,355.5 350.5,361.3 350.6,354.8 350.6,357.0 350.7,360.3 350.8,353.0 350.8,358.7 350.9,357.2 350.9,357.2 351.0,362.0 351.0,359.0 351.1,357.3 351.1,356.6 351.2,362.4 351.2,358.2 351.3,354.4 351.4,356.6 351.4,356.6 351.5,358.8 351.5,361.7 351.6,359.3 351.6,360.3 351.7,356.5 351.7,358.3 351.8,359.2 351.8,353.7 351.9,362.0 352.0,355.0 352.0,353.6 352.1,355.4 352.1,361.3 352.2,354.7 352.2,354.7 352.3,363.6 352.3,356.6 352.4,351.6 352.4,355.8 352.5,361.3 352.6,357.9 352.6,358.2 352.7,358.9 352.7,352.8 352.8,355.3 352.8,352.4 352.9,357.4 352.9,354.0 353.0,358.2 353.0,360.9 353.1,358.2 353.2,357.2 353.2,357.4 353.3,357.0 353.3,360.1 353.4,354.7 353.4,357.9 353.5,361.3 353.5,359.0 353.6,355.1 353.6,355.4 353.7,352.0 353.8,353.1 353.8,360.3 353.9,359.8 353.9,354.8 354.0,355.7 354.0,356.7 354.1,356.8 354.1,356.2 354.2,355.2 354.2,359.3 354.3,353.0 354.4,356.1 354.4,356.1 354.5,360.3 354.5,354.2 354.6,356.5 354.6,361.1 354.7,362.4 354.7,356.9 354.8,354.7 354.8,357.7 354.9,353.7 355.0,352.6 355.0,351.7 355.1,359.1 355.1,352.7 355.2,358.3 355.2,354.1 355.3,359.4 355.3,357.2 355.4,356.7 355.4,358.0 355.5,356.1 355.6,354.6 355.6,360.7 355.7,355.1 355.7,361.7 355.8,358.7 355.8,356.6 355.9,358.7 355.9,360.9 356.0,355.2 356.0,356.2 356.1,355.6 356.2,358.9 356.2,359.6 356.3,358.9 356.3,356.5 356.4,356.8 356.4,360.9 356.5,356.2 356.5,357.9 356.6,354.4 356.7,358.9 356.7,357.8 356.8,357.3 356.8,360.9 356.9,358.9 356.9,354.4 357.0,359.9 357.0,360.2 357.1,357.4 357.1,358.9 357.2,356.8 357.3,355.0 357.3,358.2 357.4,361.2 357.4,358.4 357.5,354.8 357.5,357.0 357.6,356.7 357.6,358.9 357.7,360.6 357.7,362.9 357.8,352.0 357.9,357.1 357.9,358.0 358.0,358.0 358.0,357.0 358.1,358.4 358.1,358.0 358.2,355.2 358.2,359.3 358.3,357.5 358.3,355.9 358.4,359.8 358.5,357.2 358.5,359.3 358.6,359.3 358.6,358.3 358.7,356.6 358.7,357.6 358.8,360.1 358.8,357.3 358.9,360.5 358.9,354.0 359.0,359.5 359.1,360.9 359.1,359.9 359.2,359.1 359.2,361.6 359.3,357.1 359.3,356.3 359.4,359.4 359.4,361.9 359.5,360.3 359.5,358.5 359.6,359.7 359.7,360.2 359.7,355.9 359.8,352.2 359.8,351.2 359.9,354.9 359.9,357.3 360.0,355.5 360.0,363.4 360.1,359.7 360.1,359.1 360.2,358.7 360.3,362.7 360.3,357.6 360.4,360.5 360.4,361.8 360.5,356.4 360.5,354.5 360.6,361.8 360.6,359.6 360.7,351.8 360.7,360.5 360.8,361.1 360.9,357.6 360.9,358.6 361.0,356.2 361.0,359.4 361.1,359.4 361.1,357.3 361.2,359.9 361.2,365.4 361.3,356.0 361.3,360.8 361.4,361.1 361.5,361.3 361.5,357.0 361.6,357.3 361.6,361.3 361.7,359.6 361.7,358.8 361.8,360.0 361.8,361.9 361.9,361.6 361.9,364.7 362.0,358.3 362.1,360.5 362.1,357.4 362.2,360.6 362.2,359.0 362.3,357.2 362.3,355.2 362.4,356.7 362.4,361.6 362.5,362.1 362.5,360.6 362.6,356.0 362.7,357.6 362.7,359.0 362.8,358.8 362.8,359.2 362.9,361.4 362.9,359.9 363.0,357.8 363.0,355.0 363.1,359.0 363.1,355.7 363.2,359.5 363.3,360.4 363.3,356.9 363.4,359.3 363.4,359.0 363.5,364.8 363.5,356.5 363.6,355.5 363.6,361.1 363.7,352.9 363.7,359.8 363.8,356.7 363.9,361.4 363.9,361.6 364.0,360.8 364.0,357.4 364.1,359.3 364.1,356.1 364.2,356.2 364.2,358.5 364.3,357.9 364.3,359.1 364.4,366.3 364.5,361.4 364.5,358.4 364.6,355.2 364.6,358.5 364.7,356.8 364.7,354.6 364.8,361.3 364.8,358.4 364.9,360.5 364.9,366.5 365.0,359.9 365.1,359.4 365.1,360.3 365.2,359.1 365.2,358.2 365.3,361.5 365.3,362.8 365.4,359.4 365.4,357.1 365.5,357.0 365.5,357.7 365.6,360.0 365.7,361.1 365.7,362.3 365.8,362.5 365.8,359.2 365.9,361.5 365.9,360.5 366.0,361.5 366.0,355.1 366.1,362.5 366.1,356.5 366.2,356.9 366.3,361.4 366.3,358.7 366.4,364.1 366.4,359.8 366.5,356.9 366.5,360.1 366.6,358.7 366.6,351.7 366.7,363.6 366.7,361.8 366.8,359.1 366.9,360.2 366.9,362.9 367.0,359.0 367.0,358.5 367.1,358.0 367.1,362.4 367.2,359.9 367.2,359.6 367.3,355.6 367.3,357.3 367.4,359.9 367.5,356.0 367.5,356.9 367.6,357.7 367.6,363.4 367.7,361.4 367.7,356.7 367.8,364.3 367.8,362.9 367.9,357.3 368.0,354.1 368.0,363.1 368.1,359.3 368.1,360.4 368.2,359.5 368.2,364.1 368.3,360.8 368.3,363.3 368.4,360.9 368.4,365.4 368.5,356.0 368.6,356.8 368.6,367.1 368.7,359.9 368.7,362.1 368.8,360.9 368.8,364.8 368.9,363.3 368.9,366.4 369.0,360.3 369.0,358.6 369.1,360.8 369.2,358.7 369.2,362.3 369.3,351.5 369.3,360.6 369.4,362.2 369.4,359.2 369.5,360.6 369.5,362.6 369.6,358.1 369.6,356.1 369.7,360.9 369.8,360.3 369.8,359.1 369.9,358.4 369.9,360.2 370.0,361.2 370.0,361.1 370.1,359.6 370.1,362.6 370.2,358.6 370.2,358.3 370.3,362.7 370.4,359.1 370.4,361.0 370.5,358.7 370.5,363.1 370.6,362.3 370.6,364.9 370.7,360.6 370.7,363.3 370.8,359.9 370.8,361.5 370.9,359.4 371.0,358.6 371.0,354.5 371.1,363.2 371.1,361.4 371.2,360.6 371.2,358.5 371.3,359.3 371.3,361.3 371.4,357.9 371.4,363.3 371.5,360.4 371.6,358.0 371.6,361.4 371.7,358.6 371.7,360.5 371.8,355.3 371.8,359.1 371.9,361.4 371.9,358.4 372.0,360.2 372.0,361.7 372.1,363.8 372.2,364.8 372.2,360.2 372.3,360.8 372.3,360.6 372.4,356.4 372.4,357.0 372.5,361.9 372.5,360.0 372.6,364.0 372.6,360.2 372.7,359.9 372.8,362.9 372.8,361.5 372.9,364.2 372.9,358.2 373.0,361.8 373.0,361.9 373.1,361.6 373.1,362.9 373.2,362.4 373.2,359.5 373.3,358.1 373.4,362.0 373.4,359.8 373.5,362.2 373.5,363.1 373.6,357.4 373.6,358.0 373.7,359.5 373.7,362.3 373.8,359.6 373.8,363.0 373.9,360.2 374.0,360.4 374.0,358.2 374.1,359.7 374.1,363.1 374.2,360.0 374.2,360.1 374.3,359.2 374.3,362.9 374.4,357.2 374.4,359.3 374.5,363.7 374.6,364.7 374.6,360.3 374.7,363.1 374.7,358.8 374.8,363.0 374.8,362.1 374.9,358.3 374.9,356.8 375.0,359.8 375.0,361.3 375.1,361.7 375.2,360.9 375.2,362.3 375.3,365.2 375.3,357.1 375.4,359.6 375.4,360.4 375.5,363.1 375.5,359.7 375.6,363.6 375.6,361.5 375.7,366.7 375.8,360.8 375.8,361.0 375.9,359.2 375.9,361.5 376.0,366.8 376.0,370.4 376.1,358.8 376.1,360.3 376.2,362.4 376.2,351.4 376.3,362.3 376.4,362.0 376.4,359.4 376.5,362.2 376.5,358.0 376.6,359.1 376.6,357.5 376.7,362.8 376.7,363.3 376.8,358.9 376.8,359.4 376.9,355.1 377.0,360.2 377.0,360.7 377.1,360.5 377.1,360.4 377.2,361.9 377.2,369.4 377.3,359.4 377.3,364.2 377.4,355.7 377.4,357.5 377.5,358.4 377.6,358.3 377.6,358.1 377.7,361.1 377.7,357.9 377.8,359.3 377.8,360.7 377.9,359.2 377.9,359.3 378.0,356.6 378.0,356.4 378.1,358.5 378.2,361.2 378.2,359.9 378.3,361.7 378.3,362.0 378.4,362.6 378.4,356.5 378.5,362.9 378.5,361.9 378.6,365.3 378.6,362.0 378.7,361.7 378.8,360.5 378.8,360.9 378.9,356.2 378.9,359.5 379.0,359.9 379.0,361.8 379.1,357.7 379.1,359.8 379.2,363.7 379.3,357.9 379.3,361.2 379.4,358.2 379.4,359.3 379.5,360.8 379.5,359.0 379.6,358.3 379.6,357.1 379.7,362.8 379.7,359.5 379.8,361.1 379.9,361.3 379.9,361.1 380.0,358.4 380.0,355.2 380.1,355.3 380.1,358.9 380.2,357.6 380.2,358.6 380.3,363.0 380.3,360.2 380.4,358.2 380.5,354.9 380.5,360.0 380.6,361.6 380.6,356.4 380.7,359.2 380.7,357.0 380.8,357.8 380.8,356.6 380.9,354.0 380.9,356.5 381.0,354.2 381.1,361.4 381.1,364.3 381.2,358.1 381.2,358.5 381.3,358.0 381.3,358.7 381.4,358.9 381.4,358.2 381.5,357.9 381.5,355.1 381.6,356.4 381.7,357.0 381.7,359.0 381.8,357.7 381.8,363.5 381.9,358.5 381.9,357.7 382.0,359.0 382.0,360.9 382.1,362.5 382.1,360.3 382.2,356.5 382.3,357.6 382.3,360.0 382.4,358.0 382.4,359.0 382.5,357.0 382.5,360.9 382.6,360.6 382.6,359.7 382.7,357.3 382.7,352.7 382.8,353.3 382.9,357.0 382.9,358.0 383.0,349.4 383.0,355.1 383.1,355.5 383.1,358.9 383.2,355.6 383.2,358.5 383.3,357.2 383.3,356.8 383.4,359.8 383.5,359.9 383.5,356.1 383.6,354.7 383.6,354.2 383.7,354.0 383.7,360.4 383.8,361.5 383.8,357.5 383.9,359.4 383.9,355.4 384.0,356.4 384.1,358.9 384.1,357.0 384.2,355.8 384.2,351.9 384.3,352.1 384.3,354.7 384.4,354.2 384.4,355.2 384.5,353.9 384.5,354.6 384.6,355.1 384.7,356.6 384.7,355.3 384.8,353.9 384.8,354.8 384.9,357.7 384.9,354.9 385.0,357.8 385.0,353.2 385.1,356.5 385.1,356.8 385.2,358.7 385.3,352.1 385.3,359.0 385.4,354.4 385.4,354.6 385.5,354.3 385.5,356.8 385.6,358.0 385.6,355.5 385.7,354.3 385.7,352.2 385.8,355.7 385.9,354.6 385.9,355.0 386.0,353.7 386.0,352.9 386.1,353.7 386.1,355.6 386.2,356.7 386.2,353.9 386.3,355.0 386.3,354.0 386.4,354.2 386.5,351.2 386.5,356.5 386.6,355.7 386.6,354.7 386.7,352.7 386.7,352.6 386.8,355.5 386.8,353.6 386.9,353.7 386.9,355.3 387.0,352.9 387.1,354.9 387.1,352.4 387.2,354.9 387.2,352.8 387.3,352.3 387.3,353.4 387.4,354.2 387.4,350.3 387.5,350.2 387.5,354.4 387.6,355.1 387.7,358.9 387.7,350.2 387.8,352.5 387.8,354.8 387.9,354.5 387.9,356.2 388.0,356.9 388.0,354.1 388.1,350.4 388.1,353.3 388.2,355.9 388.3,355.9 388.3,350.1 388.4,353.7 388.4,356.0 388.5,356.1 388.5,349.0 388.6,350.5 388.6,353.1 388.7,351.7 388.7,353.3 388.8,353.0 388.9,357.1 388.9,353.0 389.0,352.1 389.0,353.9 389.1,356.1 389.1,351.0 389.2,354.4 389.2,351.9 389.3,350.1 389.3,355.8 389.4,350.2 389.5,355.4 389.5,352.6 389.6,353.3 389.6,352.2 389.7,353.3 389.7,351.2 389.8,356.2 389.8,349.9 389.9,356.1 389.9,351.7 390.0,354.2 390.1,352.7 390.1,353.2 390.2,355.6 390.2,352.6 390.3,349.7 390.3,350.5 390.4,353.3 390.4,346.2 390.5,354.6 390.6,355.0 390.6,348.4 390.7,352.0 390.7,354.3 390.8,349.7 390.8,351.2 390.9,351.5 390.9,352.4 391.0,354.0 391.0,349.9 391.1,351.4 391.2,350.1 391.2,352.6 391.3,350.8 391.3,354.4 391.4,347.5 391.4,346.8 391.5,349.7 391.5,349.5 391.6,353.1 391.6,350.3 391.7,356.6 391.8,352.5 391.8,351.6 391.9,354.8 391.9,348.0 392.0,346.6 392.0,351.5 392.1,352.6 392.1,349.2 392.2,351.0 392.2,348.4 392.3,350.8 392.4,353.9 392.4,345.2 392.5,348.3 392.5,350.0 392.6,352.9 392.6,349.1 392.7,347.5 392.7,351.4 392.8,349.5 392.8,353.8 392.9,349.2 393.0,344.6 393.0,347.2 393.1,346.6 393.1,345.6 393.2,347.5 393.2,347.9 393.3,349.0 393.3,357.2 393.4,350.5 393.4,350.9 393.5,350.2 393.6,350.3 393.6,345.1 393.7,345.4 393.7,354.4 393.8,349.2 393.8,345.1 393.9,352.4 393.9,348.8 394.0,352.6 394.0,348.4 394.1,346.1 394.2,350.4 394.2,348.4 394.3,347.0 394.3,350.1 394.4,345.5 394.4,348.1 394.5,347.9 394.5,349.5 394.6,345.1 394.6,344.3 394.7,346.3 394.8,346.6 394.8,347.3 394.9,345.8 394.9,347.6 395.0,347.9 395.0,346.7 395.1,343.4 395.1,348.7 395.2,342.4 395.2,345.9 395.3,348.5 395.4,352.3 395.4,349.5 395.5,351.5 395.5,351.2 395.6,348.4 395.6,349.4 395.7,345.6 395.7,347.2 395.8,346.9 395.8,345.9 395.9,346.0 396.0,344.7 396.0,339.9 396.1,345.5 396.1,342.1 396.2,349.2 396.2,345.9 396.3,344.6 396.3,346.4 396.4,346.0 396.4,344.8 396.5,343.9 396.6,341.2 396.6,345.3 396.7,348.8 396.7,340.7 396.8,342.7 396.8,346.8 396.9,345.1 396.9,345.3 397.0,339.9 397.0,342.8 397.1,345.3 397.2,344.8 397.2,343.9 397.3,341.0 397.3,344.4 397.4,340.2 397.4,340.9 397.5,340.0 397.5,346.2 397.6,341.7 397.6,347.9 397.7,337.7 397.8,345.8 397.8,344.3 397.9,339.3 397.9,339.2 398.0,347.2 398.0,341.1 398.1,345.9 398.1,341.9 398.2,337.1 398.2,345.4 398.3,344.1 398.4,344.3 398.4,341.0 398.5,341.5 398.5,344.3 398.6,340.3 398.6,337.5 398.7,344.1 398.7,340.4 398.8,344.7 398.8,340.4 398.9,340.5 399.0,341.0 399.0,335.6 399.1,343.6 399.1,339.2 399.2,340.2 399.2,341.0 399.3,341.9 399.3,343.5 399.4,341.9 399.4,342.8 399.5,341.6 399.6,343.9 399.6,343.1 399.7,341.5 399.7,338.7 399.8,342.8 399.8,334.5 399.9,335.6 399.9,341.1 400.0,340.8 400.0,339.9 400.1,342.6 400.2,343.2 400.2,338.1 400.3,334.9 400.3,336.8 400.4,336.9 400.4,338.5 400.5,338.7 400.5,341.5 400.6,337.9 400.6,338.9 400.7,339.0 400.8,336.7 400.8,337.8 400.9,345.3 400.9,338.0 401.0,335.8 401.0,332.5 401.1,340.1 401.1,339.0 401.2,335.8 401.3,342.8 401.3,337.2 401.4,331.8 401.4,335.7 401.5,339.0 401.5,338.7 401.6,333.8 401.6,338.9 401.7,340.4 401.7,333.1 401.8,331.6 401.9,333.0 401.9,337.7 402.0,338.7 402.0,336.3 402.1,334.8 402.1,335.9 402.2,337.9 402.2,342.0 402.3,332.5 402.3,336.1 402.4,335.3 402.5,336.7 402.5,336.6 402.6,334.1 402.6,337.9 402.7,326.7 402.7,334.8 402.8,333.0 402.8,334.1 402.9,337.0 402.9,334.2 403.0,334.3 403.1,333.1 403.1,335.7 403.2,334.2 403.2,333.0 403.3,333.4 403.3,336.7 403.4,332.4 403.4,334.0 403.5,338.2 403.5,334.8 403.6,333.5 403.7,339.2 403.7,329.6 403.8,334.9 403.8,333.1 403.9,335.6 403.9,328.7 404.0,335.3 404.0,329.3 404.1,334.0 404.1,333.5 404.2,332.1 404.3,330.1 404.3,329.8 404.4,332.0 404.4,330.0 404.5,327.6 404.5,327.6 404.6,333.7 404.6,333.8 404.7,333.1 404.7,332.0 404.8,332.6 404.9,332.7 404.9,332.2 405.0,328.8 405.0,328.6 405.1,335.5 405.1,326.9 405.2,328.0 405.2,330.0 405.3,325.2 405.3,329.2 405.4,332.0 405.5,333.5 405.5,325.0 405.6,326.1 405.6,330.4 405.7,327.2 405.7,329.9 405.8,330.6 405.8,327.4 405.9,330.7 405.9,332.7 406.0,330.7 406.1,326.1 406.1,327.4 406.2,326.4 406.2,330.9 406.3,326.5 406.3,325.3 406.4,326.6 406.4,327.3 406.5,325.3 406.5,326.1 406.6,323.6 406.7,327.9 406.7,328.7 406.8,326.7 406.8,324.9 406.9,326.8 406.9,323.8 407.0,328.3 407.0,326.6 407.1,326.3 407.1,319.8 407.2,331.2 407.3,329.0 407.3,328.5 407.4,326.1 407.4,327.5 407.5,332.8 407.5,324.3 407.6,327.3 407.6,326.6 407.7,325.2 407.7,325.7 407.8,321.9 407.9,325.6 407.9,320.6 408.0,327.9 408.0,325.2 408.1,325.9 408.1,317.9 408.2,322.9 408.2,323.6 408.3,320.0 408.3,326.0 408.4,322.4 408.5,320.4 408.5,318.1 408.6,321.1 408.6,320.6 408.7,322.3 408.7,323.1 408.8,321.0 408.8,322.9 408.9,324.4 408.9,322.3 409.0,320.1 409.1,322.4 409.1,319.7 409.2,322.3 409.2,321.2 409.3,318.2 409.3,321.8 409.4,318.5 409.4,318.4 409.5,316.8 409.5,322.1 409.6,321.8 409.7,318.0 409.7,318.6 409.8,318.7 409.8,315.3 409.9,320.3 409.9,316.5 410.0,315.6 410.0,323.3 410.1,323.3 410.1,317.3 410.2,315.5 410.3,321.7 410.3,317.6 410.4,320.0 410.4,315.3 410.5,316.9 410.5,316.9 410.6,317.5 410.6,316.8 410.7,318.8 410.7,318.1 410.8,315.0 410.9,322.6 410.9,313.3 411.0,313.2 411.0,318.7 411.1,315.9 411.1,317.9 411.2,323.7 411.2,316.6 411.3,313.9 411.3,320.6 411.4,311.6 411.5,312.5 411.5,312.3 411.6,317.1 411.6,314.4 411.7,315.1 411.7,312.0 411.8,315.7 411.8,310.2 411.9,314.1 411.9,314.1 412.0,310.8 412.1,309.7 412.1,313.2 412.2,310.0 412.2,309.5 412.3,311.7 412.3,308.6 412.4,310.5 412.4,315.5 412.5,309.4 412.6,312.2 412.6,307.3 412.7,309.8 412.7,308.9 412.8,308.6 412.8,310.6 412.9,313.4 412.9,307.6 413.0,310.9 413.0,308.6 413.1,309.5 413.2,306.5 413.2,305.4 413.3,306.8 413.3,305.6 413.4,307.6 413.4,305.2 413.5,307.8 413.5,308.2 413.6,312.0 413.6,311.6 413.7,308.5 413.8,305.9 413.8,308.3 413.9,308.8 413.9,306.1 414.0,310.1 414.0,301.0 414.1,307.5 414.1,309.2 414.2,308.3 414.2,305.2 414.3,305.0 414.4,304.9 414.4,305.4 414.5,300.6 414.5,303.2 414.6,304.4 414.6,303.3 414.7,305.9 414.7,301.8 414.8,304.8 414.8,306.2 414.9,301.2 415.0,301.8 415.0,300.7 415.1,303.5 415.1,296.3 415.2,303.9 415.2,300.3 415.3,303.1 415.3,302.5 415.4,298.7 415.4,304.2 415.5,300.8 415.6,298.3 415.6,300.9 415.7,302.4 415.7,298.7 415.8,294.8 415.8,297.0 415.9,298.3 415.9,300.2 416.0,295.0 416.0,298.0 416.1,297.2 416.2,296.6 416.2,293.4 416.3,301.8 416.3,291.7 416.4,292.7 416.4,295.5 416.5,289.6 416.5,296.9 416.6,296.9 416.6,295.2 416.7,292.6 416.8,297.3 416.8,293.0 416.9,294.2 416.9,295.8 417.0,293.4 417.0,296.0 417.1,291.5 417.1,291.5 417.2,292.2 417.2,288.8 417.3,288.9 417.4,293.1 417.4,286.8 417.5,292.8 417.5,290.5 417.6,292.5 417.6,291.1 417.7,290.1 417.7,292.2 417.8,287.4 417.8,287.0 417.9,289.9 418.0,285.6 418.0,289.6 418.1,288.1 418.1,284.7 418.2,283.0 418.2,280.7 418.3,290.0 418.3,282.0 418.4,282.1 418.4,286.9 418.5,285.7 418.6,284.8 418.6,285.5 418.7,282.3 418.7,287.9 418.8,280.8 418.8,283.2 418.9,283.7 418.9,283.6 419.0,280.2 419.0,277.8 419.1,280.4 419.2,278.3 419.2,271.4 419.3,280.6 419.3,282.6 419.4,276.8 419.4,283.3 419.5,276.0 419.5,275.7 419.6,275.9 419.6,274.0 419.7,275.1 419.8,274.0 419.8,271.8 419.9,271.8 419.9,270.0 420.0,268.9 420.0,270.7 420.1,269.3 420.1,269.1 420.2,267.3 420.2,266.7 420.3,268.5 420.4,269.3 420.4,265.9 420.5,264.7 420.5,264.3 420.6,261.4 420.6,263.7 420.7,261.8 420.7,261.7 420.8,258.7 420.8,259.4 420.9,254.9 421.0,255.8 421.0,259.4 421.1,258.3 421.1,254.7 421.2,253.4 421.2,253.4 421.3,253.6 421.3,255.6 421.4,260.3 421.4,252.4 421.5,251.0 421.6,252.8 421.6,248.9 421.7,246.8 421.7,252.4 421.8,251.4 421.8,249.3 421.9,250.4 421.9,251.1 422.0,251.3 422.0,247.6 422.1,250.4 422.2,242.7 422.2,247.5 422.3,245.4 422.3,244.1 422.4,247.6 422.4,241.5 422.5,246.3 422.5,247.3 422.6,240.6 422.6,242.7 422.7,246.4 422.8,244.9 422.8,243.1 422.9,247.2 422.9,239.8 423.0,243.0 423.0,244.2 423.1,243.4 423.1,245.5 423.2,239.2 423.2,242.7 423.3,240.6 423.4,245.3 423.4,244.6 423.5,239.9 423.5,238.9 423.6,241.0 423.6,239.2 423.7,239.8 423.7,242.4 423.8,240.2 423.9,245.5 423.9,241.3 424.0,240.1 424.0,238.2 424.1,239.4 424.1,240.1 424.2,241.6 424.2,243.3 424.3,238.3 424.3,240.6 424.4,237.1 424.5,238.3 424.5,238.9 424.6,234.9 424.6,239.6 424.7,236.3 424.7,238.7 424.8,233.5 424.8,235.2 424.9,245.4 424.9,236.2 425.0,238.9 425.1,243.7 425.1,236.3 425.2,238.1 425.2,238.2 425.3,239.2 425.3,234.4 425.4,238.8 425.4,239.3 425.5,243.7 425.5,237.7 425.6,236.5 425.7,238.1 425.7,231.2 425.8,238.3 425.8,241.4 425.9,237.8 425.9,237.7 426.0,237.4 426.0,238.1 426.1,238.3 426.1,241.3 426.2,236.3 426.3,244.8 426.3,241.3 426.4,237.2 426.4,236.2 426.5,241.5 426.5,237.6 426.6,239.0 426.6,235.2 426.7,232.6 426.7,237.2 426.8,237.2 426.9,235.5 426.9,237.2 427.0,237.5 427.0,236.8 427.1,236.6 427.1,238.3 427.2,236.8 427.2,235.0 427.3,238.6 427.3,238.0 427.4,236.7 427.5,237.3 427.5,228.8 427.6,235.6 427.6,235.2 427.7,230.4 427.7,240.0 427.8,235.7 427.8,233.9 427.9,234.3 427.9,235.7 428.0,233.3 428.1,237.6 428.1,234.0 428.2,235.9 428.2,236.3 428.3,237.1 428.3,232.0 428.4,232.9 428.4,235.7 428.5,233.4 428.5,235.4 428.6,232.8 428.7,235.9 428.7,234.5 428.8,235.3 428.8,234.6 428.9,232.8 428.9,231.7 429.0,234.6 429.0,232.8 429.1,230.4 429.1,232.9 429.2,236.2 429.3,236.7 429.3,235.9 429.4,234.4 429.4,232.6 429.5,233.2 429.5,231.3 429.6,231.9 429.6,237.3 429.7,234.4 429.7,234.8 429.8,239.5 429.9,234.0 429.9,231.5 430.0,235.8 430.0,231.4 430.1,235.8 430.1,228.6 430.2,226.3 430.2,230.7 430.3,237.8 430.3,238.8 430.4,235.2 430.5,235.1 430.5,227.7 430.6,234.5 430.6,239.3 430.7,227.7 430.7,232.1 430.8,235.9 430.8,234.4 430.9,230.0 430.9,233.1 431.0,233.2 431.1,229.9 431.1,230.0 431.2,231.0 431.2,229.5 431.3,228.3 431.3,233.3 431.4,227.1 431.4,231.5 431.5,228.5 431.5,229.0 431.6,231.8 431.7,233.1 431.7,228.1 431.8,231.3 431.8,226.0 431.9,229.0 431.9,229.4 432.0,227.5 432.0,226.6 432.1,226.9 432.1,233.6 432.2,228.5 432.3,229.4 432.3,229.7 432.4,226.7 432.4,232.5 432.5,224.6 432.5,232.8 432.6,228.8 432.6,230.9 432.7,231.5 432.7,232.5 432.8,227.3 432.9,232.1 432.9,230.4 433.0,230.0 433.0,229.3 433.1,232.3 433.1,230.8 433.2,233.0 433.2,232.2 433.3,225.2 433.3,228.7 433.4,232.2 433.5,234.3 433.5,226.2 433.6,225.3 433.6,226.5 433.7,229.8 433.7,230.8 433.8,227.5 433.8,231.1 433.9,234.3 433.9,226.1 434.0,228.7 434.1,227.2 434.1,224.3 434.2,226.9 434.2,229.4 434.3,232.3 434.3,232.1 434.4,228.0 434.4,224.8 434.5,230.4 434.5,228.9 434.6,228.2 434.7,225.3 434.7,227.3 434.8,232.5 434.8,231.5 434.9,231.1 434.9,229.7 435.0,227.0 435.0,227.9 435.1,235.2 435.2,226.6 435.2,226.8 435.3,225.1 435.3,229.6 435.4,225.6 435.4,228.2 435.5,226.8 435.5,227.6 435.6,227.5 435.6,227.7 435.7,227.7 435.8,227.0 435.8,222.8 435.9,225.9 435.9,231.4 436.0,223.8 436.0,230.6 436.1,231.1 436.1,222.0 436.2,223.7 436.2,224.2 436.3,223.8 436.4,223.9 436.4,228.0 436.5,225.5 436.5,225.5 436.6,220.9 436.6,226.9 436.7,225.7 436.7,225.4 436.8,226.9 436.8,225.7 436.9,224.8 437.0,226.5 437.0,224.0 437.1,223.1 437.1,221.8 437.2,227.1 437.2,223.3 437.3,225.2 437.3,227.6 437.4,229.1 437.4,223.6 437.5,224.6 437.6,224.1 437.6,220.7 437.7,223.0 437.7,225.3 437.8,224.2 437.8,228.1 437.9,225.9 437.9,228.2 438.0,226.8 438.0,225.0 438.1,226.3 438.2,227.7 438.2,225.6 438.3,222.4 438.3,225.6 438.4,221.4 438.4,223.2 438.5,223.0 438.5,219.0 438.6,219.6 438.6,221.9 438.7,216.8 438.8,224.1 438.8,224.5 438.9,222.7 438.9,223.6 439.0,218.4 439.0,223.3 439.1,225.0 439.1,224.2 439.2,222.7 439.2,222.6 439.3,227.8 439.4,223.9 439.4,224.9 439.5,227.1 439.5,221.5 439.6,215.6 439.6,225.2 439.7,222.0 439.7,222.2 439.8,225.8 439.8,220.6 439.9,220.9 440.0,220.3 440.0,220.8 440.1,228.0 440.1,227.9 440.2,225.7 440.2,218.5 440.3,217.6 440.3,220.9 440.4,225.7 440.4,225.7 440.5,217.9 440.6,218.5 440.6,224.4 440.7,223.6 440.7,223.9 440.8,223.5 440.8,220.4 440.9,223.5 440.9,222.4 441.0,225.8 441.0,221.9 441.1,218.1 441.2,225.4 441.2,226.9 441.3,225.0 441.3,221.9 441.4,220.4 441.4,225.4 441.5,221.9 441.5,224.1 441.6,224.3 441.6,222.8 441.7,218.3 441.8,228.7 441.8,227.0 441.9,219.5 441.9,223.0 442.0,223.9 442.0,223.2 442.1,225.3 442.1,220.9 442.2,225.6 442.2,228.0 442.3,223.3 442.4,222.2 442.4,228.3 442.5,226.5 442.5,223.0 442.6,221.4 442.6,219.5 442.7,227.1 442.7,227.2 442.8,224.2 442.8,229.6 442.9,223.8 443.0,226.6 443.0,221.6 443.1,222.2 443.1,224.6 443.2,225.4 443.2,226.1 443.3,221.9 443.3,222.8 443.4,223.7 443.4,223.3 443.5,224.0 443.6,226.7 443.6,227.5 443.7,224.0 443.7,228.3 443.8,225.5 443.8,225.9 443.9,225.9 443.9,227.2 444.0,226.3 444.0,221.0 444.1,226.6 444.2,221.8 444.2,225.5 444.3,225.0 444.3,220.8 444.4,224.7 444.4,224.1 444.5,223.4 444.5,230.3 444.6,225.7 444.6,223.2 444.7,229.5 444.8,225.4 444.8,225.6 444.9,221.0 444.9,227.4 445.0,228.0 445.0,230.0 445.1,223.2 445.1,228.2 445.2,229.0 445.2,228.0 445.3,226.0 445.4,224.9 445.4,226.7 445.5,225.3 445.5,222.6 445.6,228.4 445.6,226.7 445.7,226.5 445.7,231.8 445.8,226.2 445.9,222.3 445.9,221.8 446.0,222.3 446.0,226.7 446.1,225.3 446.1,221.8 446.2,224.8 446.2,224.2 446.3,226.4 446.3,224.9 446.4,228.1 446.5,227.3 446.5,226.0 446.6,229.2 446.6,220.3 446.7,226.0 446.7,231.8 446.8,229.6 446.8,226.3 446.9,227.7 446.9,227.1 447.0,227.2 447.1,231.7 447.1,227.9 447.2,222.9 447.2,226.7 447.3,226.5 447.3,225.1 447.4,227.5 447.4,228.3 447.5,231.2 447.5,234.8 447.6,229.3 447.7,230.7 447.7,228.9 447.8,232.9 447.8,230.7 447.9,232.3 447.9,229.0 448.0,232.0 448.0,229.4 448.1,224.7 448.1,228.9 448.2,228.3 448.3,225.3 448.3,225.1 448.4,228.1 448.4,234.9 448.5,230.2 448.5,234.2 448.6,232.5 448.6,232.7 448.7,232.2 448.7,226.8 448.8,233.7 448.9,228.1 448.9,231.8 449.0,230.6 449.0,234.2 449.1,225.8 449.1,221.8 449.2,231.4 449.2,230.3 449.3,234.9 449.3,235.9 449.4,230.5 449.5,230.7 449.5,227.9 449.6,229.3 449.6,230.9 449.7,232.5 449.7,232.1 449.8,230.3 449.8,231.2 449.9,234.1 449.9,234.8 450.0,233.5 450.1,234.2 450.1,233.7 450.2,235.5 450.2,228.4 450.3,230.3 450.3,232.0 450.4,233.1 450.4,235.5 450.5,229.1 450.5,235.9 450.6,232.9 450.7,229.8 450.7,230.9 450.8,233.2 450.8,240.9 450.9,230.4 450.9,231.3 451.0,230.5 451.0,233.9 451.1,230.8 451.1,234.4 451.2,230.6 451.3,232.3 451.3,234.9 451.4,231.5 451.4,233.9 451.5,231.4 451.5,231.1 451.6,232.4 451.6,231.1 451.7,234.4 451.7,229.5 451.8,234.9 451.9,235.7 451.9,236.7 452.0,232.6 452.0,230.8 452.1,228.9 452.1,234.5 452.2,235.0 452.2,234.0 452.3,234.3 452.3,235.3 452.4,233.0 452.5,230.4 452.5,230.5 452.6,232.1 452.6,231.7 452.7,230.1 452.7,232.6 452.8,231.4 452.8,235.5 452.9,233.7 452.9,236.0 453.0,231.1 453.1,231.7 453.1,230.7 453.2,235.4 453.2,239.1 453.3,234.6 453.3,233.5 453.4,235.0 453.4,234.2 453.5,236.5 453.5,234.3 453.6,232.3 453.7,229.6 453.7,231.2 453.8,237.6 453.8,235.3 453.9,240.4 453.9,234.6 454.0,235.0 454.0,234.8 454.1,235.4 454.1,238.7 454.2,235.7 454.3,234.5 454.3,240.3 454.4,233.4 454.4,234.0 454.5,240.8 454.5,236.4 454.6,240.2 454.6,229.5 454.7,238.2 454.7,235.2 454.8,235.7 454.9,236.7 454.9,228.7 455.0,233.3 455.0,236.8 455.1,243.6 455.1,234.4 455.2,242.2 455.2,238.1 455.3,239.3 455.3,234.8 455.4,238.7 455.5,235.4 455.5,234.4 455.6,240.0 455.6,234.9 455.7,235.6 455.7,238.7 455.8,235.1 455.8,233.4 455.9,237.8 455.9,237.6 456.0,240.8 456.1,238.5 456.1,239.8 456.2,239.2 456.2,236.3 456.3,236.8 456.3,237.6 456.4,234.6 456.4,238.1 456.5,239.0 456.5,234.0 456.6,236.7 456.7,238.4 456.7,235.2 456.8,235.6 456.8,232.8 456.9,233.2 456.9,233.0 457.0,233.4 457.0,240.3 457.1,235.2 457.2,232.1 457.2,236.9 457.3,239.7 457.3,235.5 457.4,238.3 457.4,235.9 457.5,233.6 457.5,236.2 457.6,234.7 457.6,237.6 457.7,238.3 457.8,236.5 457.8,234.9 457.9,234.3 457.9,240.1 458.0,238.2 458.0,241.0 458.1,239.2 458.1,232.6 458.2,237.6 458.2,240.8 458.3,238.1 458.4,235.1 458.4,237.0 458.5,239.0 458.5,241.1 458.6,236.7 458.6,238.4 458.7,235.8 458.7,235.7 458.8,238.1 458.8,242.5 458.9,241.3 459.0,239.1 459.0,239.8 459.1,241.5 459.1,240.1 459.2,239.5 459.2,239.9 459.3,242.0 459.3,239.1 459.4,241.7 459.4,234.9 459.5,237.9 459.6,238.9 459.6,241.3 459.7,237.7 459.7,238.1 459.8,241.2 459.8,239.4 459.9,237.9 459.9,238.8 460.0,237.3 460.0,241.3 460.1,240.5 460.2,241.5 460.2,245.1 460.3,242.8 460.3,241.2 460.4,240.7 460.4,246.4 460.5,241.6 460.5,240.5 460.6,244.0 460.6,242.1 460.7,240.4 460.8,242.3 460.8,245.9 460.9,241.5 460.9,242.0 461.0,238.7 461.0,240.0 461.1,244.6 461.1,241.5 461.2,242.3 461.2,244.7 461.3,241.2 461.4,245.9 461.4,240.5 461.5,240.5 461.5,240.7 461.6,239.1 461.6,243.6 461.7,241.9 461.7,245.5 461.8,240.4 461.8,243.8 461.9,245.6 462.0,242.1 462.0,242.0 462.1,236.2 462.1,247.2 462.2,242.9 462.2,244.5 462.3,241.4 462.3,243.5 462.4,239.9 462.4,244.2 462.5,242.6 462.6,241.9 462.6,244.1 462.7,238.5 462.7,243.6 462.8,242.4 462.8,247.4 462.9,245.0 462.9,242.8 463.0,241.3 463.0,250.4 463.1,240.7 463.2,247.1 463.2,245.1 463.3,245.1 463.3,235.0 463.4,246.0 463.4,243.1 463.5,241.9 463.5,245.7 463.6,242.6 463.6,246.0 463.7,242.1 463.8,245.6 463.8,245.3 463.9,242.0 463.9,241.8 464.0,242.8 464.0,243.1 464.1,242.8 464.1,248.7 464.2,245.5 464.2,239.2 464.3,244.0 464.4,242.7 464.4,244.9 464.5,244.2 464.5,242.6 464.6,242.8 464.6,243.5 464.7,244.9 464.7,244.8 464.8,242.3 464.8,245.9 464.9,243.8 465.0,246.0 465.0,243.2 465.1,240.5 465.1,241.9 465.2,244.5 465.2,246.3 465.3,246.0 465.3,246.5 465.4,247.2 465.4,246.3 465.5,246.6 465.6,244.6 465.6,246.8 465.7,245.0 465.7,245.0 465.8,245.7 465.8,248.6 465.9,241.9 465.9,244.4 466.0,245.2 466.0,247.0 466.1,246.4 466.2,251.0 466.2,243.7 466.3,252.1 466.3,244.8 466.4,246.1 466.4,248.9 466.5,247.6 466.5,247.5 466.6,247.2 466.6,247.7 466.7,248.8 466.8,251.9 466.8,243.1 466.9,244.4 466.9,249.4 467.0,251.3 467.0,248.7 467.1,249.4 467.1,247.5 467.2,252.0 467.2,245.9 467.3,246.9 467.4,245.8 467.4,251.6 467.5,246.5 467.5,249.1 467.6,244.4 467.6,244.1 467.7,250.2 467.7,247.5 467.8,252.7 467.8,248.7 467.9,248.0 468.0,247.4 468.0,246.0 468.1,247.7 468.1,251.9 468.2,248.3 468.2,245.1 468.3,247.6 468.3,246.0 468.4,245.4 468.5,248.2 468.5,246.7 468.6,245.6 468.6,252.4 468.7,252.5 468.7,248.9 468.8,252.1 468.8,247.2 468.9,248.2 468.9,251.3 469.0,248.9 469.1,250.3 469.1,241.6 469.2,249.1 469.2,247.8 469.3,248.5 469.3,245.4 469.4,247.2 469.4,250.6 469.5,250.8 469.5,251.5 469.6,251.8 469.7,252.3 469.7,249.7 469.8,249.4 469.8,248.8 469.9,249.2 469.9,248.0 470.0,247.9 470.0,249.6 470.1,244.6 470.1,247.6 470.2,248.3 470.3,251.6 470.3,253.0 470.4,251.1 470.4,250.5 470.5,246.2 470.5,253.7 470.6,252.6 470.6,249.1 470.7,250.5 470.7,251.4 470.8,252.8 470.9,250.0 470.9,254.0 471.0,253.0 471.0,249.0 471.1,249.6 471.1,247.9 471.2,248.4 471.2,251.8 471.3,255.0 471.3,254.3 471.4,251.9 471.5,250.9 471.5,250.4 471.6,253.1 471.6,251.3 471.7,254.0 471.7,252.0 471.8,253.0 471.8,251.1 471.9,256.9 471.9,254.6 472.0,252.1 472.1,250.0 472.1,253.9 472.2,254.1 472.2,249.3 472.3,252.6 472.3,257.3 472.4,253.0 472.4,251.7 472.5,254.2 472.5,257.1 472.6,251.5 472.7,251.7 472.7,252.5 472.8,253.1 472.8,256.3 472.9,254.3 472.9,248.2 473.0,254.5 473.0,254.6 473.1,255.1 473.1,254.3 473.2,253.2 473.3,254.9 473.3,251.8 473.4,252.5 473.4,253.1 473.5,251.4 473.5,257.7 473.6,253.3 473.6,257.2 473.7,250.3 473.7,250.6 473.8,254.7 473.9,249.1 473.9,251.7 474.0,254.4 474.0,254.5 474.1,249.7 474.1,253.5 474.2,249.4 474.2,253.7 474.3,253.6 474.3,254.1 474.4,251.4 474.5,254.8 474.5,256.2 474.6,255.8 474.6,257.3 474.7,259.1 474.7,252.1 474.8,253.9 474.8,253.4 474.9,254.9 474.9,257.1 475.0,253.8 475.1,255.6 475.1,259.4 475.2,253.0 475.2,251.0 475.3,254.4 475.3,252.5 475.4,257.7 475.4,252.5 475.5,256.6 475.5,251.7 475.6,257.2 475.7,255.4 475.7,252.2 475.8,258.0 475.8,258.8 475.9,262.0 475.9,257.7 476.0,254.3 476.0,259.2 476.1,256.2 476.1,256.1 476.2,258.2 476.3,257.9 476.3,255.0 476.4,257.5 476.4,257.0 476.5,259.6 476.5,254.7 476.6,258.7 476.6,257.3 476.7,256.6 476.7,261.1 476.8,258.5 476.9,255.1 476.9,257.3 477.0,260.6 477.0,254.0 477.1,255.8 477.1,256.2 477.2,261.2 477.2,258.8 477.3,251.1 477.3,256.6 477.4,255.7 477.5,256.9 477.5,257.9 477.6,257.4 477.6,258.4 477.7,255.8 477.7,261.0 477.8,257.6 477.8,261.1 477.9,257.5 477.9,259.2 478.0,255.6 478.1,252.8 478.1,258.5 478.2,256.9 478.2,259.2 478.3,258.9 478.3,254.0 478.4,256.3 478.4,250.8 478.5,260.1 478.5,259.0 478.6,256.8 478.7,256.8 478.7,258.3 478.8,253.2 478.8,258.3 478.9,262.2 478.9,255.1 479.0,255.8 479.0,256.2 479.1,260.1 479.1,256.8 479.2,263.3 479.3,258.7 479.3,258.1 479.4,257.0 479.4,262.1 479.5,262.6 479.5,260.4 479.6,263.3 479.6,260.0 479.7,261.4 479.8,260.4 479.8,259.3 479.9,261.6 479.9,259.9 480.0,264.4 480.0,262.6 480.1,260.1 480.1,259.8 480.2,261.9 480.2,263.7 480.3,261.5 480.4,256.0 480.4,259.7 480.5,261.4 480.5,262.5 480.6,261.5 480.6,262.0 480.7,263.5 480.7,261.0 480.8,263.8 480.8,260.0 480.9,262.4 481.0,260.2 481.0,263.1 481.1,262.7 481.1,264.5 481.2,254.1 481.2,261.7 481.3,264.6 481.3,259.9 481.4,263.7 481.4,258.7 481.5,257.0 481.6,262.7 481.6,261.1 481.7,260.6 481.7,256.1 481.8,262.7 481.8,260.7 481.9,259.0 481.9,261.6 482.0,259.1 482.0,259.8 482.1,259.9 482.2,264.2 482.2,261.7 482.3,262.5 482.3,260.5 482.4,259.9 482.4,267.2 482.5,259.5 482.5,265.8 482.6,260.7 482.6,265.3 482.7,262.1 482.8,267.0 482.8,267.8 482.9,265.9 482.9,263.9 483.0,262.6 483.0,265.3 483.1,268.4 483.1,261.7 483.2,259.7 483.2,267.0 483.3,262.5 483.4,264.6 483.4,263.4 483.5,263.6 483.5,262.5 483.6,262.8 483.6,259.4 483.7,262.3 483.7,261.6 483.8,266.5 483.8,263.1 483.9,263.0 484.0,260.1 484.0,264.4 484.1,268.1 484.1,265.0 484.2,266.5 484.2,263.8 484.3,263.1 484.3,266.6 484.4,262.9 484.4,261.5 484.5,265.9 484.6,263.0 484.6,266.2 484.7,265.5 484.7,260.6 484.8,265.5 484.8,261.6 484.9,265.4 484.9,266.6 485.0,264.0 485.0,264.3 485.1,267.3 485.2,265.1 485.2,263.1 485.3,257.3 485.3,267.4 485.4,261.3 485.4,266.1 485.5,268.1 485.5,265.1 485.6,267.3 485.6,266.0 485.7,263.5 485.8,267.8 485.8,266.2 485.9,264.2 485.9,264.6 486.0,268.6 486.0,264.3 486.1,263.5 486.1,268.8 486.2,268.5 486.2,269.9 486.3,267.7 486.4,270.6 486.4,265.5 486.5,264.4 486.5,264.0 486.6,266.7 486.6,265.2 486.7,265.0 486.7,265.9 486.8,267.9 486.8,264.5 486.9,267.9 487.0,267.9 487.0,272.1 487.1,268.3 487.1,264.6 487.2,268.3 487.2,268.3 487.3,268.6 487.3,260.6 487.4,269.6 487.4,267.8 487.5,266.6 487.6,267.7 487.6,271.4 487.7,272.6 487.7,267.2 487.8,272.2 487.8,268.4 487.9,268.5 487.9,268.5 488.0,268.1 488.0,268.3 488.1,265.7 488.2,268.5 488.2,265.9 488.3,269.7 488.3,266.7 488.4,269.8 488.4,268.6 488.5,270.3 488.5,272.0 488.6,269.9 488.6,268.7 488.7,268.2 488.8,273.3 488.8,268.3 488.9,271.2 488.9,269.5 489.0,265.8 489.0,270.5 489.1,265.4 489.1,270.6 489.2,264.8 489.2,270.3 489.3,271.9 489.4,273.6 489.4,274.6 489.5,268.2 489.5,269.6 489.6,274.4 489.6,269.4 489.7,273.1 489.7,268.3 489.8,269.3 489.8,271.2 489.9,271.8 490.0,267.4 490.0,268.2 490.1,271.9 490.1,273.8 490.2,275.6 490.2,271.8 490.3,271.7 490.3,268.2 490.4,269.1 490.5,268.0 490.5,269.4 490.6,268.5 490.6,269.1 490.7,274.0 490.7,271.6 490.8,269.0 490.8,274.9 490.9,269.2 490.9,269.6 491.0,272.8 491.1,272.9 491.1,270.4 491.2,267.5 491.2,269.8 491.3,271.3 491.3,268.7 491.4,268.5 491.4,274.0 491.5,271.6 491.5,271.3 491.6,273.7 491.7,269.1 491.7,272.8 491.8,274.6 491.8,273.5 491.9,269.3 491.9,268.7 492.0,270.5 492.0,273.8 492.1,272.1 492.1,273.5 492.2,270.0 492.3,275.0 492.3,271.7 492.4,276.3 492.4,273.2 492.5,266.2 492.5,273.2 492.6,271.5 492.6,271.7 492.7,273.0 492.7,276.2 492.8,275.6 492.9,276.7 492.9,273.6 493.0,269.3 493.0,270.0 493.1,271.2 493.1,271.8 493.2,280.0 493.2,274.8 493.3,271.5 493.3,278.4 493.4,273.3 493.5,270.8 493.5,277.0 493.6,273.3 493.6,273.2 493.7,280.1 493.7,280.5 493.8,278.2 493.8,273.9 493.9,272.1 493.9,273.9 494.0,278.4 494.1,275.2 494.1,271.5 494.2,276.8 494.2,276.8 494.3,276.0 494.3,275.8 494.4,274.1 494.4,277.1 494.5,273.9 494.5,273.2 494.6,272.0 494.7,271.2 494.7,273.7 494.8,270.2 494.8,274.6 494.9,274.3 494.9,279.4 495.0,273.0 495.0,278.7 495.1,277.5 495.1,277.5 495.2,275.3 495.3,274.7 495.3,275.7 495.4,276.2 495.4,278.0 495.5,275.3 495.5,280.3 495.6,280.2 495.6,275.8 495.7,277.0 495.7,276.4 495.8,281.9 495.9,270.8 495.9,273.4 496.0,277.3 496.0,279.4 496.1,278.9 496.1,279.2 496.2,277.5 496.2,280.4 496.3,278.9 496.3,280.8 496.4,277.4 496.5,276.0 496.5,273.7 496.6,280.8 496.6,275.7 496.7,276.4 496.7,272.4 496.8,278.8 496.8,274.2 496.9,277.9 496.9,278.5 497.0,281.8 497.1,277.1 497.1,277.6 497.2,284.7 497.2,280.1 497.3,277.6 497.3,279.4 497.4,284.1 497.4,279.9 497.5,282.1 497.5,279.2 497.6,272.1 497.7,280.1 497.7,280.0 497.8,280.8 497.8,283.8 497.9,281.2 497.9,282.3 498.0,281.3 498.0,279.8 498.1,279.3 498.1,279.6 498.2,279.7 498.3,275.1 498.3,279.1 498.4,282.3 498.4,278.8 498.5,278.8 498.5,282.2 498.6,280.9 498.6,279.1 498.7,281.1 498.7,285.2 498.8,285.1 498.9,281.4 498.9,280.4 499.0,283.3 499.0,281.0 499.1,281.5 499.1,280.6 499.2,281.7 499.2,276.9 499.3,280.4 499.3,277.9 499.4,282.7 499.5,283.7 499.5,285.2 499.6,281.8 499.6,286.0 499.7,284.4 499.7,282.7 499.8,283.4 499.8,280.3 499.9,274.0 499.9,283.5 500.0,282.1 500.1,285.0 500.1,282.3 500.2,281.0 500.2,280.3 500.3,280.2 500.3,282.2 500.4,277.7 500.4,281.3 500.5,284.6 500.5,278.1 500.6,283.0 500.7,281.3 500.7,281.8 500.8,283.3 500.8,285.5 500.9,284.0 500.9,284.7 501.0,281.9 501.0,283.2 501.1,281.6 501.1,283.3 501.2,284.9 501.3,283.5 501.3,279.1 501.4,281.0 501.4,288.6 501.5,278.8 501.5,283.9 501.6,281.1 501.6,283.6 501.7,283.0 501.8,284.7 501.8,281.3 501.9,286.2 501.9,289.0 502.0,278.3 502.0,282.7 502.1,281.3 502.1,285.3 502.2,288.1 502.2,288.4 502.3,288.6 502.4,286.2 502.4,284.6 502.5,288.5 502.5,284.2 502.6,283.3 502.6,285.3 502.7,282.2 502.7,284.8 502.8,283.1 502.8,285.7 502.9,287.6 503.0,284.3 503.0,282.0 503.1,289.6 503.1,284.1 503.2,286.3 503.2,285.8 503.3,291.1 503.3,285.5 503.4,287.1 503.4,283.5 503.5,285.0 503.6,288.9 503.6,286.7 503.7,288.8 503.7,286.9 503.8,292.8 503.8,286.4 503.9,289.2 503.9,285.1 504.0,285.7 504.0,282.7 504.1,292.7 504.2,281.3 504.2,287.1 504.3,285.9 504.3,293.5 504.4,285.5 504.4,291.7 504.5,290.0 504.5,288.6 504.6,289.1 504.6,290.7 504.7,293.2 504.8,291.8 504.8,290.3 504.9,288.5 504.9,289.4 505.0,288.6 505.0,291.2 505.1,287.6 505.1,288.7 505.2,285.7 505.2,290.4 505.3,289.2 505.4,287.1 505.4,293.0 505.5,289.3 505.5,286.5 505.6,292.0 505.6,288.7 505.7,282.0 505.7,290.7 505.8,290.2 505.8,290.2 505.9,291.6 506.0,288.1 506.0,290.6 506.1,286.3 506.1,289.7 506.2,292.2 506.2,292.3 506.3,285.2 506.3,294.3 506.4,290.7 506.4,288.6 506.5,289.9 506.6,288.1 506.6,292.5 506.7,287.7 506.7,288.3 506.8,288.0 506.8,288.6 506.9,289.8 506.9,295.1 507.0,291.1 507.0,284.0 507.1,290.7 507.2,293.0 507.2,288.2 507.3,287.9 507.3,295.3 507.4,291.7 507.4,287.5 507.5,293.0 507.5,290.8 507.6,290.4 507.6,293.2 507.7,288.3 507.8,294.7 507.8,292.3 507.9,290.7 507.9,290.6 508.0,295.6 508.0,290.7 508.1,288.6 508.1,291.7 508.2,293.4 508.2,293.5 508.3,291.9 508.4,293.0 508.4,291.4 508.5,297.1 508.5,296.4 508.6,288.7 508.6,292.3 508.7,289.8 508.7,295.0 508.8,289.2 508.8,292.7 508.9,295.9 509.0,292.8 509.0,294.8 509.1,290.5 509.1,289.1 509.2,289.1 509.2,293.7 509.3,290.9 509.3,296.3 509.4,292.4 509.4,296.5 509.5,294.3 509.6,290.8 509.6,293.8 509.7,295.2 509.7,294.8 509.8,293.5 509.8,296.1 509.9,295.7 509.9,296.2 510.0,291.9 510.0,289.0 510.1,295.6 510.2,292.5 510.2,293.2 510.3,293.8 510.3,295.3 510.4,289.1 510.4,294.3 510.5,298.1 510.5,290.8 510.6,293.5 510.6,297.5 510.7,296.5 510.8,296.1 510.8,295.0 510.9,291.2 510.9,294.7 511.0,292.2 511.0,295.7 511.1,293.6 511.1,294.4 511.2,289.6 511.2,298.4 511.3,290.3 511.4,296.2 511.4,297.6 511.5,295.4 511.5,292.7 511.6,294.5 511.6,296.5 511.7,295.5 511.7,299.4 511.8,296.9 511.8,293.6 511.9,297.5 512.0,293.3 512.0,300.8 512.1,297.4 512.1,301.0 512.2,296.4 512.2,298.2 512.3,295.9 512.3,296.1 512.4,298.1 512.4,295.6 512.5,299.4 512.6,297.4 512.6,298.1 512.7,302.3 512.7,298.1 512.8,295.9 512.8,299.7 512.9,296.6 512.9,300.1 513.0,297.3 513.1,300.2 513.1,299.7 513.2,298.4 513.2,295.9 513.3,297.7 513.3,302.0 513.4,299.2 513.4,302.1 513.5,299.3 513.5,298.8 513.6,296.3 513.7,299.7 513.7,299.2 513.8,297.1 513.8,301.9 513.9,296.9 513.9,304.6 514.0,298.6 514.0,297.8 514.1,302.2 514.1,296.7 514.2,299.3 514.3,299.3 514.3,290.7 514.4,303.8 514.4,300.4 514.5,297.1 514.5,296.7 514.6,298.8 514.6,302.2 514.7,300.7 514.7,296.8 514.8,300.3 514.9,303.4 514.9,297.7 515.0,304.8 515.0,303.2 515.1,301.8 515.1,299.7 515.2,299.6 515.2,300.7 515.3,299.7 515.3,300.1 515.4,299.1 515.5,303.0 515.5,301.5 515.6,302.6 515.6,300.2 515.7,298.7 515.7,299.5 515.8,302.4 515.8,298.9 515.9,303.1 515.9,299.3 516.0,300.5 516.1,302.4 516.1,298.7 516.2,296.3 516.2,304.2 516.3,300.9 516.3,300.2 516.4,305.7 516.4,306.9 516.5,301.6 516.5,308.9 516.6,308.3 516.7,300.7 516.7,304.7 516.8,304.4 516.8,300.2 516.9,299.7 516.9,300.2 517.0,302.4 517.0,303.3 517.1,299.7 517.1,297.7 517.2,303.2 517.3,300.7 517.3,305.0 517.4,303.9 517.4,300.0 517.5,293.6 517.5,303.8 517.6,305.6 517.6,302.6 517.7,305.1 517.7,303.6 517.8,305.0 517.9,302.5 517.9,306.0 518.0,305.1 518.0,301.3 518.1,303.5 518.1,302.0 518.2,303.6 518.2,305.3 518.3,304.4 518.3,304.2 518.4,303.0 518.5,302.0 518.5,304.9 518.6,302.6 518.6,303.9 518.7,307.6 518.7,310.6 518.8,308.8 518.8,305.0 518.9,306.6 518.9,302.0 519.0,308.5 519.1,305.8 519.1,306.9 519.2,303.4 519.2,311.7 519.3,303.7 519.3,304.0 519.4,310.5 519.4,304.2 519.5,308.8 519.5,305.3 519.6,306.6 519.7,306.9 519.7,309.3 519.8,307.6 519.8,300.7 519.9,305.6 519.9,309.9 520.0,310.2 520.0,305.8 520.1,311.4 520.1,307.2 520.2,310.0 520.3,305.5 520.3,309.8 520.4,306.3 520.4,304.8 520.5,303.7 520.5,309.0 520.6,305.0 520.6,303.0 520.7,314.8 520.7,308.6 520.8,307.2 520.9,308.5 520.9,307.1 521.0,306.4 521.0,308.6 521.1,310.6 521.1,308.7 521.2,306.8 521.2,305.5 521.3,312.1 521.3,302.5 521.4,307.0 521.5,308.3 521.5,311.4 521.6,308.1 521.6,308.4 521.7,305.4 521.7,310.8 521.8,311.6 521.8,309.0 521.9,307.4 521.9,311.9 522.0,304.4 522.1,307.9 522.1,307.8 522.2,309.3 522.2,312.5 522.3,308.6 522.3,310.4 522.4,313.8 522.4,308.7 522.5,312.3 522.5,309.7 522.6,312.5 522.7,310.6 522.7,313.4 522.8,308.9 522.8,309.3 522.9,307.1 522.9,310.4 523.0,313.9 523.0,312.1 523.1,312.4 523.1,310.3 523.2,310.7 523.3,311.6 523.3,311.8 523.4,309.6 523.4,309.6 523.5,308.0 523.5,313.2 523.6,314.0 523.6,316.0 523.7,307.1 523.7,314.0 523.8,313.4 523.9,318.2 523.9,310.9 524.0,310.2 524.0,307.6 524.1,308.4 524.1,309.3 524.2,314.6 524.2,308.6 524.3,309.9 524.4,315.8 524.4,311.1 524.5,309.5 524.5,316.5 524.6,313.6 524.6,312.0 524.7,319.0 524.7,312.6 524.8,315.8 524.8,314.2 524.9,310.8 525.0,311.9 525.0,309.6 525.1,312.0 525.1,311.5 525.2,308.2 525.2,315.8 525.3,318.9 525.3,313.4 525.4,312.0 525.4,312.6 525.5,310.9 525.6,310.9 525.6,316.9 525.7,317.5 525.7,312.5 525.8,314.0 525.8,317.9 525.9,314.6 525.9,318.1 526.0,316.8 526.0,317.1 526.1,314.4 526.2,313.6 526.2,307.8 526.3,315.6 526.3,317.4 526.4,309.9 526.4,315.2 526.5,321.5 526.5,317.4 526.6,320.2 526.6,317.1 526.7,313.1 526.8,316.9 526.8,320.9 526.9,317.2 526.9,316.0 527.0,316.3 527.0,313.5 527.1,315.7 527.1,316.9 527.2,319.1 527.2,318.4 527.3,314.0 527.4,311.5 527.4,315.3 527.5,316.5 527.5,318.4 527.6,314.4 527.6,318.5 527.7,315.9 527.7,319.8 527.8,317.2 527.8,312.8 527.9,312.2 528.0,319.0 528.0,315.4 528.1,319.7 528.1,317.2 528.2,321.6 528.2,317.1 528.3,315.3 528.3,312.3 528.4,318.2 528.4,316.5 528.5,322.2 528.6,324.1 528.6,319.5 528.7,315.7 528.7,320.1 528.8,315.0 528.8,317.4 528.9,321.1 528.9,315.8 529.0,319.1 529.0,319.6 529.1,319.8 529.2,316.9 529.2,315.4 529.3,318.9 529.3,320.5 529.4,316.8 529.4,321.2 529.5,321.7 529.5,320.0 529.6,321.9 529.6,321.8 529.7,322.4 529.8,320.1 529.8,319.9 529.9,319.8 529.9,311.1 530.0,318.6 530.0,323.0 530.1,318.7 530.1,324.6 530.2,321.6 530.2,326.8 530.3,321.4 530.4,322.5 530.4,317.0 530.5,320.2 530.5,321.4 530.6,322.3 530.6,314.4 530.7,321.7 530.7,320.9 530.8,323.3 530.8,317.8 530.9,320.3 531.0,323.8 531.0,314.0 531.1,324.2 531.1,319.9 531.2,316.0 531.2,323.5 531.3,326.2 531.3,318.8 531.4,318.2 531.4,319.3 531.5,319.2 531.6,322.8 531.6,324.5 531.7,322.2 531.7,322.5 531.8,323.7 531.8,323.0 531.9,322.6 531.9,322.6 532.0,324.9 532.0,319.5 532.1,320.8 532.2,322.8 532.2,328.7 532.3,320.6 532.3,324.9 532.4,321.2 532.4,322.7 532.5,321.2 532.5,327.7 532.6,324.5 532.6,325.2 532.7,326.8 532.8,322.3 532.8,324.6 532.9,320.9 532.9,323.6 533.0,325.6 533.0,325.6 533.1,322.6 533.1,322.7 533.2,320.1 533.2,319.1 533.3,323.6 533.4,326.8 533.4,325.3 533.5,325.5 533.5,323.8 533.6,323.9 533.6,324.1 533.7,328.4 533.7,326.1 533.8,327.3 533.8,321.1 533.9,322.1 534.0,324.9 534.0,322.0 534.1,326.4 534.1,327.4 534.2,327.1 534.2,325.3 534.3,327.8 534.3,324.9 534.4,329.8 534.4,329.7 534.5,323.3 534.6,323.7 534.6,331.0 534.7,322.3 534.7,325.6 534.8,327.9 534.8,330.3 534.9,327.7 534.9,328.4 535.0,328.3 535.0,325.6 535.1,327.8 535.2,329.4 535.2,327.6 535.3,324.7 535.3,324.6 535.4,334.2 535.4,325.1 535.5,325.9 535.5,327.6 535.6,319.6 535.7,324.7 535.7,326.7 535.8,329.7 535.8,328.5 535.9,325.5 535.9,327.8 536.0,332.2 536.0,327.4 536.1,326.3 536.1,327.6 536.2,328.8 536.3,329.1 536.3,326.0 536.4,327.3 536.4,328.7 536.5,332.5 536.5,329.8 536.6,329.9 536.6,332.4 536.7,330.8 536.7,328.3 536.8,333.8 536.9,329.6 536.9,332.3 537.0,331.1 537.0,331.7 537.1,333.4 537.1,329.6 537.2,327.4 537.2,332.1 537.3,333.0 537.3,330.5 537.4,331.9 537.5,327.5 537.5,331.3 537.6,330.6 537.6,332.0 537.7,331.1 537.7,326.3 537.8,333.1 537.8,333.9 537.9,330.9 537.9,329.3 538.0,329.9 538.1,334.5 538.1,327.6 538.2,331.7 538.2,331.9 538.3,332.2 538.3,326.7 538.4,332.0 538.4,326.2 538.5,330.0 538.5,329.1 538.6,326.9 538.7,336.0 538.7,331.2 538.8,328.2 538.8,329.6 538.9,331.8 538.9,334.2 539.0,332.4 539.0,329.3 539.1,335.8 539.1,333.1 539.2,336.2 539.3,336.1 539.3,333.2 539.4,336.2 539.4,332.6 539.5,335.7 539.5,329.5 539.6,329.5 539.6,331.2 539.7,334.9 539.7,334.1 539.8,332.4 539.9,337.1 539.9,333.0 540.0,334.5 540.0,336.8 540.1,336.4 540.1,331.1 540.2,334.0 540.2,335.3 540.3,331.6 540.3,334.3 540.4,335.5 540.5,335.2 540.5,333.3 540.6,332.6 540.6,332.5 540.7,333.9 540.7,334.9 540.8,331.3 540.8,329.4 540.9,334.6 540.9,338.5 541.0,334.1 541.1,332.4 541.1,336.5 541.2,334.0 541.2,334.5 541.3,335.9 541.3,334.6 541.4,337.0 541.4,337.5 541.5,335.8 541.5,335.2 541.6,337.9 541.7,330.9 541.7,336.0 541.8,331.2 541.8,339.3 541.9,334.9 541.9,338.9 542.0,336.7 542.0,337.7 542.1,339.7 542.1,337.1 542.2,335.6 542.3,337.5 542.3,337.6 542.4,341.6 542.4,336.9 542.5,339.7 542.5,340.7 542.6,340.2 542.6,337.0 542.7,334.8 542.7,340.4 542.8,341.9 542.9,339.7 542.9,340.7 543.0,338.0 543.0,339.8 543.1,341.1 543.1,337.7 543.2,340.8 543.2,337.8 543.3,335.7 543.3,338.8 543.4,338.1 543.5,339.8 543.5,340.1 543.6,338.4 543.6,340.1 543.7,338.0 543.7,340.8 543.8,336.8 543.8,335.5 543.9,341.5 543.9,334.2 544.0,337.6 544.1,339.1 544.1,341.6 544.2,339.0 544.2,339.3 544.3,335.5 544.3,342.3 544.4,337.2 544.4,340.0 544.5,338.2 544.5,335.0 544.6,337.8 544.7,344.8 544.7,343.3 544.8,338.9 544.8,341.0 544.9,341.5 544.9,336.8 545.0,343.0 545.0,338.1 545.1,341.0 545.1,341.9 545.2,340.7 545.3,339.0 545.3,342.3 545.4,339.6 545.4,338.5 545.5,344.2 545.5,344.6 545.6,337.1 545.6,343.1 545.7,342.2 545.7,335.8 545.8,336.9 545.9,345.3 545.9,340.0 546.0,345.8 546.0,347.5 546.1,342.8 546.1,341.4 546.2,343.3 546.2,339.5 546.3,345.9 546.4,344.0 546.4,339.8 546.5,346.1 546.5,342.3 546.6,345.4 546.6,344.9 546.7,342.1 546.7,343.1 546.8,337.7 546.8,344.6 546.9,346.1 547.0,348.9 547.0,345.3 547.1,343.5 547.1,341.7 547.2,345.0 547.2,346.1 547.3,346.3 547.3,348.3 547.4,341.9 547.4,346.4 547.5,341.9 547.6,347.0 547.6,346.5 547.7,346.0 547.7,344.6 547.8,344.0 547.8,344.3 547.9,340.4 547.9,346.6 548.0,342.4 548.0,345.4 548.1,344.9 548.2,346.9 548.2,345.6 548.3,345.7 548.3,346.9 548.4,349.1 548.4,345.9 548.5,344.5 548.5,346.8 548.6,346.8 548.6,348.8 548.7,347.9 548.8,347.4 548.8,349.6 548.9,347.4 548.9,348.0 549.0,345.9 549.0,350.5 549.1,348.6 549.1,349.6 549.2,345.3 549.2,351.7 549.3,348.0 549.4,351.4 549.4,352.9 549.5,344.2 549.5,347.2 549.6,349.6 549.6,345.6 549.7,343.6 549.7,352.5 549.8,348.4 549.8,348.1 549.9,351.9 550.0,348.9 550.0,351.2 550.1,350.0 550.1,346.0 550.2,347.7 550.2,350.0 550.3,347.6 550.3,351.8 550.4,350.3 550.4,345.4 550.5,350.3 550.6,351.4 550.6,348.2 550.7,350.4 550.7,344.5 550.8,346.9 550.8,350.2 550.9,346.0 550.9,353.0 551.0,344.9 551.0,352.9 551.1,344.8 551.2,348.6 551.2,350.0 551.3,348.3 551.3,354.7 551.4,350.4 551.4,351.4 551.5,350.9 551.5,346.5 551.6,354.9 551.6,350.8 551.7,353.9 551.8,352.3 551.8,350.4 551.9,351.8 551.9,350.2 552.0,349.9 552.0,344.0 552.1,352.3 552.1,356.5 552.2,350.3 552.2,354.3 552.3,351.2 552.4,348.7 552.4,350.7 552.5,353.4 552.5,353.3 552.6,351.0 552.6,351.4 552.7,351.6 552.7,348.3 552.8,354.3 552.8,353.1 552.9,354.3 553.0,351.6 553.0,352.0 553.1,353.7 553.1,353.2 553.2,351.9 553.2,354.2 553.3,353.3 553.3,355.1 553.4,353.9 553.4,351.3 553.5,349.8 553.6,353.8 553.6,356.0 553.7,353.8 553.7,357.6 553.8,356.1 553.8,357.5 553.9,350.6 553.9,353.2 554.0,355.1 554.0,355.2 554.1,354.1 554.2,353.5 554.2,351.5 554.3,357.6 554.3,356.7 554.4,354.0 554.4,348.2 554.5,353.9 554.5,358.2 554.6,355.5 554.6,352.5 554.7,354.6 554.8,353.5 554.8,352.0 554.9,356.8 554.9,355.6 555.0,357.5 555.0,358.7 555.1,357.1 555.1,360.2 555.2,355.8 555.2,351.8 555.3,357.5 555.4,356.6 555.4,360.6 555.5,352.4 555.5,354.0 555.6,359.9 555.6,354.7 555.7,356.4 555.7,355.9 555.8,356.8 555.8,362.4 555.9,359.6 556.0,357.0 556.0,361.4 556.1,354.8 556.1,357.6 556.2,361.3 556.2,351.9 556.3,354.9 556.3,354.7 556.4,356.3 556.4,359.0 556.5,361.5 556.6,360.6 556.6,361.5 556.7,359.3 556.7,357.2 556.8,356.5 556.8,359.1 556.9,357.3 556.9,356.9 557.0,365.6 557.0,357.3 557.1,358.4 557.2,364.3 557.2,360.8 557.3,360.7 557.3,360.7 557.4,359.0 557.4,361.2 557.5,358.7 557.5,359.4 557.6,358.5 557.7,361.0 557.7,360.3 557.8,354.7 557.8,357.5 557.9,358.9 557.9,363.7 558.0,357.1 558.0,360.5 558.1,362.2 558.1,362.6 558.2,358.9 558.3,362.4 558.3,360.9 558.4,360.9 558.4,359.9 558.5,356.8 558.5,358.7 558.6,357.7 558.6,363.2 558.7,361.9 558.7,362.3 558.8,357.3 558.9,357.1 558.9,360.2 559.0,361.7 559.0,363.3 559.1,358.7 559.1,356.9 559.2,359.4 559.2,370.7 559.3,360.3 559.3,361.2 559.4,365.0 559.5,364.0 559.5,361.2 559.6,363.4 559.6,364.3 559.7,361.3 559.7,365.6 559.8,356.8 559.8,364.3 559.9,358.4 559.9,363.6 560.0,363.7 560.1,363.1 560.1,365.1 560.2,365.7 560.2,363.3 560.3,365.9 560.3,360.6 560.4,365.8 560.4,364.0 560.5,365.3 560.5,364.5 560.6,365.3 560.7,366.7 560.7,363.9 560.8,366.0 560.8,368.2 560.9,364.0 560.9,362.9 561.0,363.7 561.0,366.4 561.1,365.6 561.1,363.3 561.2,366.8 561.3,366.3 561.3,366.5 561.4,366.3 561.4,363.4 561.5,359.7 561.5,364.2 561.6,363.7 561.6,366.8 561.7,369.2 561.7,367.7 561.8,365.0 561.9,368.0 561.9,365.0 562.0,368.2 562.0,366.9 562.1,365.3 562.1,367.4 562.2,366.8 562.2,370.0 562.3,366.5 562.3,366.4 562.4,370.3 562.5,368.3 562.5,367.8 562.6,372.5 562.6,361.9 562.7,364.6 562.7,367.0 562.8,372.0 562.8,372.4 562.9,370.1 562.9,367.5 563.0,365.9" fill="none" stroke="#0a0af5" stroke-width="0.32" opacity="1.0"/>
<line x1="424.2" y1="2.85" x2="424.2" y2="369" stroke="#000" stroke-width="1.7" stroke-dasharray="1.7 3.47"/>
<line x1="175.6" y1="2" x2="175.6" y2="372" stroke="#f8b800" stroke-width="1.9"/>
<line x1="440.3" y1="1.5" x2="440.3" y2="372" stroke="#f8b800" stroke-width="1.9"/>
<line x1="59.8" y1="97.5" x2="95" y2="97.5" stroke="#00f000" stroke-width="1.5" stroke-dasharray="1.3 1.3"/>
<polygon points="54.8,97.5 60.8,94.7 60.8,100.3" fill="#00f000"/>
<polygon points="100,97.5 94,94.7 94,100.3" fill="#00f000"/>
<line x1="58.8" y1="114.8" x2="94" y2="114.8" stroke="#0a0af5" stroke-width="1.5" stroke-dasharray="1.3 1.3"/>
<polygon points="53.8,114.8 59.8,112.0 59.8,117.6" fill="#0a0af5"/>
<polygon points="99,114.8 93,112.0 93,117.6" fill="#0a0af5"/>
<line x1="132.3" y1="97.3" x2="230.8" y2="97.3" stroke="#00f000" stroke-width="1.5" stroke-dasharray="1.3 1.3"/>
<polygon points="127.3,97.3 133.3,94.5 133.3,100.1" fill="#00f000"/>
<polygon points="235.8,97.3 229.8,94.5 229.8,100.1" fill="#00f000"/>
<line x1="131.8" y1="114.6" x2="293" y2="114.6" stroke="#0a0af5" stroke-width="1.5" stroke-dasharray="1.3 1.3"/>
<polygon points="126.8,114.6 132.8,111.8 132.8,117.39999999999999" fill="#0a0af5"/>
<polygon points="298,114.6 292,111.8 292,117.39999999999999" fill="#0a0af5"/>
<rect x="66.5" y="90" width="13.2" height="16" rx="2" fill="#fff" stroke="#dadada" stroke-width="0.6" filter="url(#sh)"/>
<text x="73.1" y="102.8" text-anchor="middle" font-size="13" font-weight="bold" fill="#00f000">(I)</text>
<rect x="65.4" y="108" width="13.2" height="16" rx="2" fill="#fff" stroke="#dadada" stroke-width="0.6" filter="url(#sh)"/>
<text x="72.0" y="120.8" text-anchor="middle" font-size="13" font-weight="bold" fill="#0a0af5">(I)</text>
<rect x="177" y="89.6" width="17" height="16" rx="2" fill="#fff" stroke="#dadada" stroke-width="0.6" filter="url(#sh)"/>
<text x="185.5" y="102.4" text-anchor="middle" font-size="13" font-weight="bold" fill="#00f000">(II)</text>
<rect x="210.5" y="107" width="16.5" height="16" rx="2" fill="#fff" stroke="#dadada" stroke-width="0.6" filter="url(#sh)"/>
<text x="218.8" y="119.8" text-anchor="middle" font-size="13" font-weight="bold" fill="#0a0af5">(II)</text>
<line x1="322.8" y1="114.8" x2="336" y2="114.8" stroke="#0a0af5" stroke-width="1.5" stroke-dasharray="1.3 1.3"/>
<polygon points="317.8,114.8 323.8,112.0 323.8,117.6" fill="#0a0af5"/>
<polygon points="341,114.8 335,112.0 335,117.6" fill="#0a0af5"/>
<line x1="361.7" y1="114.8" x2="418" y2="114.8" stroke="#0a0af5" stroke-width="1.5" stroke-dasharray="1.3 1.3"/>
<polygon points="356.7,114.8 362.7,112.0 362.7,117.6" fill="#0a0af5"/>
<polygon points="423,114.8 417,112.0 417,117.6" fill="#0a0af5"/>
<rect x="325.2" y="91.3" width="12.8" height="16" rx="2" fill="#fff" stroke="#dadada" stroke-width="0.6" filter="url(#sh)"/>
<text x="331.6" y="104.1" text-anchor="middle" font-size="13" font-weight="bold" fill="#0a0af5">(I)</text>
<rect x="381.8" y="91.3" width="16" height="16" rx="2" fill="#fff" stroke="#dadada" stroke-width="0.6" filter="url(#sh)"/>
<text x="389.8" y="104.1" text-anchor="middle" font-size="13" font-weight="bold" fill="#0a0af5">(II)</text>
<rect x="68.9" y="175.2" width="73.5" height="19.4" fill="#f8b800"/>
<line x1="68.9" y1="196" x2="142.4" y2="196" stroke="#9aa3c8" stroke-width="1.35"/>
<text x="71.2" y="189" font-size="11.4" font-weight="bold" fill="#fff" word-spacing="1.2">E<tspan font-size="8.4" dy="2.2" dx="0.4">b</tspan><tspan dy="-2.2" font-size="12">: 0 </tspan><tspan font-family="DejaVu Sans" font-size="13.5">→</tspan><tspan font-size="12"> 100</tspan></text>
<rect x="207" y="175.2" width="73.5" height="19.4" fill="#f8b800"/>
<line x1="207" y1="196" x2="280.5" y2="196" stroke="#9aa3c8" stroke-width="1.35"/>
<text x="209.3" y="189" font-size="11.4" font-weight="bold" fill="#fff" word-spacing="1.2">E<tspan font-size="8.4" dy="2.2" dx="0.4">b</tspan><tspan dy="-2.2" font-size="12">: 100 </tspan><tspan font-family="DejaVu Sans" font-size="13.5">→</tspan><tspan font-size="12"> 0</tspan></text>
<rect x="337" y="175.2" width="73.5" height="19.4" fill="#f8b800"/>
<line x1="337" y1="195.8" x2="410.5" y2="195.8" stroke="#9aa3c8" stroke-width="1.35"/>
<text x="339.3" y="189" font-size="11.4" font-weight="bold" fill="#fff" word-spacing="1.2">E<tspan font-size="8.4" dy="2.2" dx="0.4">b</tspan><tspan dy="-2.2" font-size="12">: 0 </tspan><tspan font-family="DejaVu Sans" font-size="13.5">→</tspan><tspan font-size="12"> 200</tspan></text>
<rect x="462.1" y="175.2" width="73.5" height="19.4" fill="#f8b800"/>
<line x1="462.1" y1="195.8" x2="535.6" y2="195.8" stroke="#9aa3c8" stroke-width="1.35"/>
<text x="464.40000000000003" y="189" font-size="11.4" font-weight="bold" fill="#fff" word-spacing="1.2">E<tspan font-size="8.4" dy="2.2" dx="0.4">b</tspan><tspan dy="-2.2" font-size="12">: 200 </tspan><tspan font-family="DejaVu Sans" font-size="13.5">→</tspan><tspan font-size="12"> 0</tspan></text>
<text x="220.4" y="41.2" font-size="12.9" font-weight="bold" fill="#ff0a0a" text-anchor="start" >SD, defects</text>
<text x="142.5" y="147.0" font-size="12.8" font-weight="bold" fill="#00f000" text-anchor="start" >T180</text>
<text x="214.8" y="141.9" font-size="12.85" font-weight="bold" fill="#0a0af5" text-anchor="start" >T180, defects</text>
<text x="266.8" y="227.5" font-size="12.8" font-weight="bold" fill="#00f000" text-anchor="start" >T180</text>
<text x="226.2" y="296" font-size="12.9" font-weight="bold" fill="#ff0a0a" text-anchor="start" >SD, defects</text>
<text x="192.4" y="354.2" font-size="12.8" font-weight="bold" fill="#0a0af5" text-anchor="start" >T180, defects</text>
<text x="458.8" y="361.8" font-size="12.8" font-weight="bold" fill="#0a0af5" text-anchor="start" >T180, defects</text>
<text x="55.4" y="156.2" font-size="18" font-weight="normal" fill="#000" text-anchor="start" letter-spacing="-1.3">(a)</text>
<text x="54.9" y="221.3" font-size="18" font-weight="normal" fill="#000" text-anchor="start" letter-spacing="-1.3">(b)</text>
<text x="540" y="155.7" font-size="18" font-weight="normal" fill="#000" text-anchor="start" letter-spacing="-1.3">(c)</text>
<text x="539.9" y="221.5" font-size="18" font-weight="normal" fill="#000" text-anchor="start" letter-spacing="-1.3">(d)</text>
<text x="46.2" y="176.9" font-size="10" font-weight="normal" fill="#000" text-anchor="end" stroke="#000" stroke-width="0.3">0</text>
<text x="46.2" y="134.3" font-size="10" font-weight="normal" fill="#000" text-anchor="end" stroke="#000" stroke-width="0.3">10</text>
<text x="46.2" y="91.7" font-size="10" font-weight="normal" fill="#000" text-anchor="end" stroke="#000" stroke-width="0.3">20</text>
<text x="46.2" y="49.1" font-size="10" font-weight="normal" fill="#000" text-anchor="end" stroke="#000" stroke-width="0.3">30</text>
<text x="45.2" y="365.2" font-size="10" font-weight="normal" fill="#000" text-anchor="end" stroke="#000" stroke-width="0.3">0</text>
<text x="45.2" y="310.2" font-size="10" font-weight="normal" fill="#000" text-anchor="end" stroke="#000" stroke-width="0.3">0.5</text>
<text x="45.2" y="255.2" font-size="10" font-weight="normal" fill="#000" text-anchor="end" stroke="#000" stroke-width="0.3">1</text>
<text x="45.2" y="200.2" font-size="10" font-weight="normal" fill="#000" text-anchor="end" stroke="#000" stroke-width="0.3">1.5</text>
<text x="52.5" y="387" font-size="10" font-weight="normal" fill="#000" text-anchor="middle" stroke="#000" stroke-width="0.3">0</text>
<text x="114.2" y="387" font-size="10" font-weight="normal" fill="#000" text-anchor="middle" stroke="#000" stroke-width="0.3">50</text>
<text x="176.0" y="387" font-size="10" font-weight="normal" fill="#000" text-anchor="middle" stroke="#000" stroke-width="0.3">100</text>
<text x="237.8" y="387" font-size="10" font-weight="normal" fill="#000" text-anchor="middle" stroke="#000" stroke-width="0.3">150</text>
<text x="299.5" y="387" font-size="10" font-weight="normal" fill="#000" text-anchor="middle" stroke="#000" stroke-width="0.3">200</text>
<text x="318.5" y="387" font-size="10" font-weight="normal" fill="#000" text-anchor="middle" stroke="#000" stroke-width="0.3">0</text>
<text x="349.4" y="387" font-size="10" font-weight="normal" fill="#000" text-anchor="middle" stroke="#000" stroke-width="0.3">50</text>
<text x="380.2" y="387" font-size="10" font-weight="normal" fill="#000" text-anchor="middle" stroke="#000" stroke-width="0.3">100</text>
<text x="411.0" y="387" font-size="10" font-weight="normal" fill="#000" text-anchor="middle" stroke="#000" stroke-width="0.3">150</text>
<text x="441.9" y="387" font-size="10" font-weight="normal" fill="#000" text-anchor="middle" stroke="#000" stroke-width="0.3">200</text>
<text x="472.8" y="387" font-size="10" font-weight="normal" fill="#000" text-anchor="middle" stroke="#000" stroke-width="0.3">250</text>
<text x="503.6" y="387" font-size="10" font-weight="normal" fill="#000" text-anchor="middle" stroke="#000" stroke-width="0.3">300</text>
<text x="534.4" y="387" font-size="10" font-weight="normal" fill="#000" text-anchor="middle" stroke="#000" stroke-width="0.3">350</text>
<text x="565.3" y="387" font-size="10" font-weight="normal" fill="#000" text-anchor="middle" stroke="#000" stroke-width="0.3">400</text>
<text x="175" y="403" font-size="10.5" font-weight="normal" fill="#000" text-anchor="middle" stroke="#000" stroke-width="0.3">time (ps)</text>
<text x="440.3" y="402.6" font-size="10.5" font-weight="normal" fill="#000" text-anchor="middle" stroke="#000" stroke-width="0.3">time (ps)</text>
<text transform="translate(16.2,125.3) rotate(-90)" font-size="11.6" fill="#000" stroke="#000" stroke-width="0.2"><tspan font-family="DejaVu Sans" font-size="14.5" stroke-width="0.1">⟨</tspan><tspan font-style="italic" font-size="13.5" dx="0.3">p</tspan><tspan font-style="italic" font-size="8.5" dy="2.2">i</tspan><tspan font-family="DejaVu Sans" font-size="14.5" dy="-2.2" stroke-width="0.1">⟩</tspan><tspan dx="-1.2"> (μC/cm</tspan><tspan font-size="8" dy="-4.5">2</tspan><tspan dy="4.5">)</tspan></text>
<rect x="0.5" y="260.5" width="18" height="35.5" fill="#fff" stroke="#e6e6e6" stroke-width="0.8"/>
<text transform="translate(13.6,294) rotate(-90)" font-size="11" fill="#000" stroke="#000" stroke-width="0.2">ΔT (K)</text>
</svg>
</body></html>
